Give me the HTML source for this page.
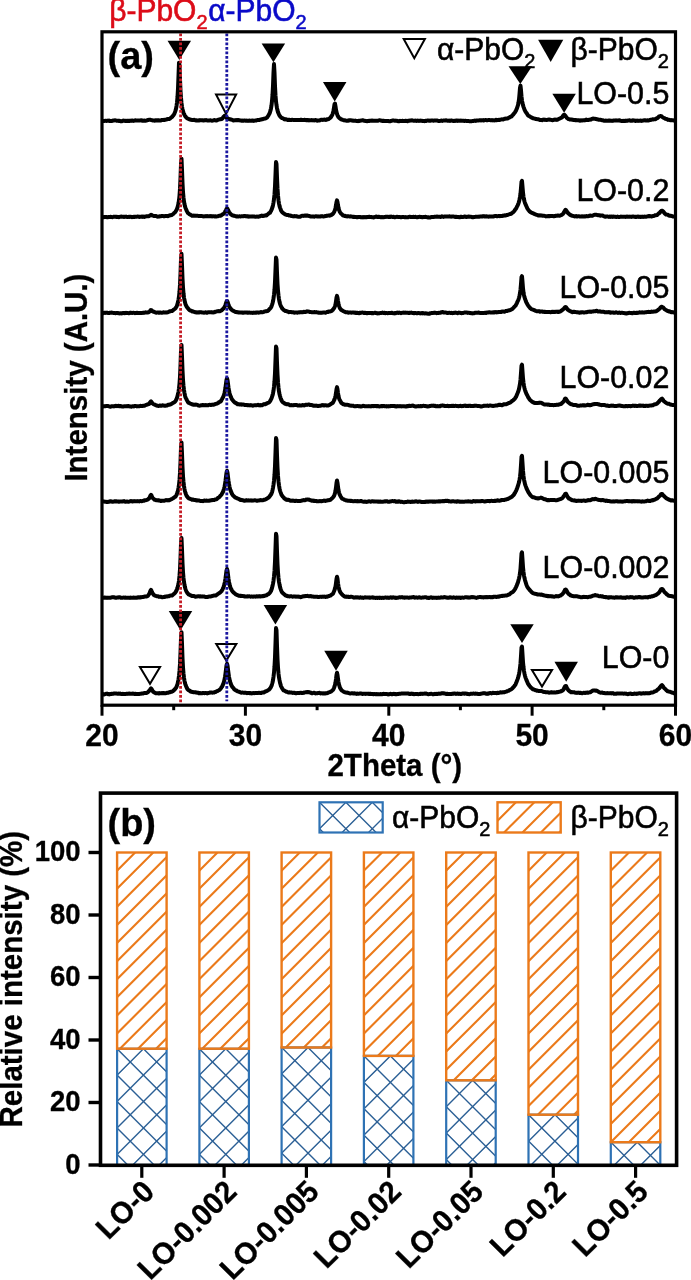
<!DOCTYPE html>
<html><head><meta charset="utf-8"><style>
html,body{margin:0;padding:0;background:#fff;width:691px;height:1280px;overflow:hidden;position:relative}
</style></head><body>
<svg width="691" height="1280" viewBox="0 0 691 1280" style="position:absolute;left:0;top:0;will-change:transform"><rect x="0" y="0" width="691" height="1280" fill="#fff"/><path d="M102.0,120.8 L102.5,120.9 L103.0,121.1 L103.5,121.0 L104.0,121.0 L104.5,121.0 L105.0,120.8 L105.5,120.8 L106.0,120.9 L106.5,121.0 L107.0,120.8 L107.5,120.7 L108.0,120.5 L108.5,120.8 L109.0,120.9 L109.5,120.6 L110.0,120.9 L110.5,121.1 L111.0,121.1 L111.5,121.1 L112.0,120.9 L112.5,120.6 L113.0,120.7 L113.5,120.5 L114.0,120.4 L114.5,120.4 L115.0,120.3 L115.5,120.4 L116.0,120.5 L116.5,120.7 L117.0,120.8 L117.5,120.8 L118.0,120.8 L118.5,120.9 L119.0,120.9 L119.5,120.7 L120.0,121.0 L120.5,121.2 L121.0,121.3 L121.5,121.3 L122.0,121.1 L122.5,120.9 L123.0,120.7 L123.5,120.5 L124.0,120.7 L124.5,120.7 L125.0,120.9 L125.5,120.8 L126.0,121.0 L126.5,121.1 L127.0,120.8 L127.5,120.7 L128.0,120.9 L128.5,120.8 L129.0,121.1 L129.5,120.9 L130.0,120.7 L130.5,120.8 L131.0,120.9 L131.5,120.8 L132.0,120.5 L132.5,120.5 L133.0,120.8 L133.5,120.9 L134.0,120.7 L134.5,120.6 L135.0,120.4 L135.5,120.3 L136.0,120.5 L136.5,120.4 L137.0,120.5 L137.5,120.5 L138.0,120.4 L138.5,120.6 L139.0,120.4 L139.5,120.6 L140.0,120.4 L140.5,120.4 L141.0,120.3 L141.5,120.3 L142.0,120.6 L142.5,120.8 L143.0,120.6 L143.5,120.8 L144.0,120.6 L144.5,120.5 L145.0,120.7 L145.5,120.7 L146.0,120.4 L146.5,120.6 L147.0,120.3 L147.5,120.1 L148.0,120.1 L148.5,119.9 L149.0,119.8 L149.5,119.7 L150.0,119.7 L150.5,119.9 L151.0,120.0 L151.5,120.1 L152.0,120.2 L152.5,120.2 L153.0,120.5 L153.5,120.5 L154.0,120.5 L154.5,120.7 L155.0,120.4 L155.5,120.3 L156.0,120.5 L156.5,120.6 L157.0,120.4 L157.5,120.2 L158.0,120.4 L158.5,120.6 L159.0,120.3 L159.5,120.5 L160.0,120.6 L160.5,120.6 L161.0,120.4 L161.5,120.1 L162.0,119.9 L162.5,120.1 L163.0,119.9 L163.5,120.0 L164.0,119.8 L164.5,120.0 L165.0,119.9 L165.5,119.7 L166.0,119.5 L166.5,119.5 L167.0,119.2 L167.5,119.0 L168.0,119.0 L168.5,119.1 L169.0,119.0 L169.5,118.7 L170.0,118.7 L170.5,118.2 L171.0,117.7 L171.5,117.3 L172.0,117.0 L172.5,116.4 L173.0,115.7 L173.5,115.1 L174.0,114.4 L174.5,113.3 L175.0,112.0 L175.5,110.6 L176.0,108.8 L176.5,106.1 L177.0,102.4 L177.5,97.0 L178.0,88.6 L178.5,75.9 L179.0,62.7 L179.5,64.9 L180.0,79.0 L180.5,90.8 L181.0,97.9 L181.5,103.0 L182.0,106.5 L182.5,109.2 L183.0,111.1 L183.5,112.9 L184.0,113.8 L184.5,114.9 L185.0,115.8 L185.5,116.6 L186.0,117.2 L186.5,117.7 L187.0,118.1 L187.5,118.5 L188.0,118.6 L188.5,118.9 L189.0,119.2 L189.5,119.4 L190.0,119.4 L190.5,119.6 L191.0,119.8 L191.5,119.9 L192.0,119.9 L192.5,119.9 L193.0,119.9 L193.5,120.0 L194.0,119.8 L194.5,119.9 L195.0,120.2 L195.5,120.4 L196.0,120.5 L196.5,120.3 L197.0,120.4 L197.5,120.4 L198.0,120.4 L198.5,120.5 L199.0,120.2 L199.5,120.4 L200.0,120.1 L200.5,120.2 L201.0,120.3 L201.5,120.2 L202.0,120.3 L202.5,120.3 L203.0,120.4 L203.5,120.6 L204.0,120.4 L204.5,120.2 L205.0,120.1 L205.5,120.3 L206.0,120.2 L206.5,120.1 L207.0,120.4 L207.5,120.4 L208.0,120.4 L208.5,120.6 L209.0,120.5 L209.5,120.5 L210.0,120.3 L210.5,120.3 L211.0,120.5 L211.5,120.6 L212.0,120.7 L212.5,120.6 L213.0,120.5 L213.5,120.4 L214.0,120.1 L214.5,120.1 L215.0,120.3 L215.5,120.4 L216.0,120.4 L216.5,120.5 L217.0,120.2 L217.5,120.0 L218.0,119.9 L218.5,119.7 L219.0,119.5 L219.5,119.4 L220.0,119.3 L220.5,119.2 L221.0,118.9 L221.5,118.9 L222.0,118.9 L222.5,118.4 L223.0,117.7 L223.5,116.9 L224.0,116.5 L224.5,115.8 L225.0,115.9 L225.5,116.4 L226.0,117.0 L226.5,117.7 L227.0,118.0 L227.5,118.2 L228.0,118.5 L228.5,118.6 L229.0,119.1 L229.5,119.2 L230.0,119.2 L230.5,119.2 L231.0,119.5 L231.5,119.6 L232.0,119.8 L232.5,120.0 L233.0,120.2 L233.5,120.5 L234.0,120.5 L234.5,120.3 L235.0,120.3 L235.5,120.2 L236.0,120.0 L236.5,120.1 L237.0,120.3 L237.5,120.1 L238.0,120.1 L238.5,120.1 L239.0,120.3 L239.5,120.3 L240.0,120.4 L240.5,120.6 L241.0,120.5 L241.5,120.6 L242.0,120.8 L242.5,120.5 L243.0,120.7 L243.5,120.8 L244.0,120.5 L244.5,120.5 L245.0,120.5 L245.5,120.7 L246.0,120.6 L246.5,120.6 L247.0,120.7 L247.5,120.8 L248.0,120.9 L248.5,120.8 L249.0,120.8 L249.5,120.5 L250.0,120.6 L250.5,120.7 L251.0,120.7 L251.5,120.7 L252.0,120.4 L252.5,120.6 L253.0,120.8 L253.5,120.9 L254.0,120.7 L254.5,120.7 L255.0,120.5 L255.5,120.6 L256.0,120.6 L256.5,120.4 L257.0,120.1 L257.5,120.0 L258.0,120.0 L258.5,120.1 L259.0,120.0 L259.5,119.7 L260.0,119.8 L260.5,119.5 L261.0,119.6 L261.5,119.4 L262.0,119.2 L262.5,119.3 L263.0,119.0 L263.5,118.7 L264.0,118.7 L264.5,118.6 L265.0,118.6 L265.5,118.4 L266.0,118.3 L266.5,117.9 L267.0,117.6 L267.5,116.8 L268.0,116.1 L268.5,115.4 L269.0,114.4 L269.5,113.5 L270.0,112.2 L270.5,110.4 L271.0,108.4 L271.5,105.4 L272.0,101.1 L272.5,95.0 L273.0,85.9 L273.5,72.7 L274.0,64.0 L274.5,72.7 L275.0,86.1 L275.5,95.4 L276.0,101.3 L276.5,105.2 L277.0,108.2 L277.5,110.4 L278.0,112.2 L278.5,113.3 L279.0,114.6 L279.5,115.5 L280.0,116.1 L280.5,116.9 L281.0,117.3 L281.5,117.7 L282.0,118.1 L282.5,118.1 L283.0,118.4 L283.5,118.6 L284.0,119.0 L284.5,119.4 L285.0,119.3 L285.5,119.4 L286.0,119.3 L286.5,119.4 L287.0,119.7 L287.5,119.9 L288.0,119.9 L288.5,119.9 L289.0,119.7 L289.5,119.9 L290.0,120.1 L290.5,120.0 L291.0,120.1 L291.5,119.9 L292.0,119.8 L292.5,119.8 L293.0,120.0 L293.5,120.0 L294.0,120.0 L294.5,120.1 L295.0,119.9 L295.5,120.1 L296.0,120.0 L296.5,120.0 L297.0,120.0 L297.5,119.9 L298.0,120.0 L298.5,120.0 L299.0,120.0 L299.5,120.0 L300.0,120.0 L300.5,119.9 L301.0,119.7 L301.5,119.9 L302.0,119.9 L302.5,119.9 L303.0,120.0 L303.5,120.0 L304.0,120.1 L304.5,119.8 L305.0,119.9 L305.5,120.0 L306.0,120.2 L306.5,120.0 L307.0,119.9 L307.5,120.2 L308.0,120.0 L308.5,120.3 L309.0,120.5 L309.5,120.3 L310.0,120.2 L310.5,120.3 L311.0,120.2 L311.5,120.0 L312.0,120.3 L312.5,120.3 L313.0,120.4 L313.5,120.2 L314.0,120.2 L314.5,120.4 L315.0,120.1 L315.5,120.0 L316.0,120.2 L316.5,120.5 L317.0,120.7 L317.5,120.4 L318.0,120.4 L318.5,120.5 L319.0,120.4 L319.5,120.5 L320.0,120.3 L320.5,120.0 L321.0,119.9 L321.5,119.7 L322.0,119.8 L322.5,119.9 L323.0,119.9 L323.5,119.8 L324.0,119.6 L324.5,119.5 L325.0,119.7 L325.5,119.9 L326.0,120.0 L326.5,119.6 L327.0,119.3 L327.5,119.4 L328.0,119.2 L328.5,119.1 L329.0,118.7 L329.5,118.4 L330.0,118.0 L330.5,117.5 L331.0,117.0 L331.5,116.0 L332.0,115.3 L332.5,114.3 L333.0,112.6 L333.5,110.4 L334.0,107.5 L334.5,104.2 L335.0,103.6 L335.5,106.4 L336.0,109.7 L336.5,111.9 L337.0,113.9 L337.5,115.3 L338.0,116.3 L338.5,117.2 L339.0,117.7 L339.5,118.1 L340.0,118.5 L340.5,118.8 L341.0,119.3 L341.5,119.5 L342.0,119.5 L342.5,119.8 L343.0,120.0 L343.5,120.2 L344.0,120.3 L344.5,120.2 L345.0,120.4 L345.5,120.6 L346.0,120.6 L346.5,120.7 L347.0,120.7 L347.5,120.6 L348.0,120.7 L348.5,120.4 L349.0,120.3 L349.5,120.4 L350.0,120.2 L350.5,120.2 L351.0,120.3 L351.5,120.5 L352.0,120.4 L352.5,120.6 L353.0,120.7 L353.5,120.6 L354.0,120.7 L354.5,120.7 L355.0,120.7 L355.5,120.6 L356.0,120.9 L356.5,120.9 L357.0,120.9 L357.5,121.0 L358.0,121.2 L358.5,120.8 L359.0,120.8 L359.5,120.9 L360.0,120.7 L360.5,120.7 L361.0,120.5 L361.5,120.4 L362.0,120.4 L362.5,120.3 L363.0,120.3 L363.5,120.6 L364.0,120.7 L364.5,120.7 L365.0,120.9 L365.5,120.9 L366.0,121.1 L366.5,121.1 L367.0,121.2 L367.5,120.9 L368.0,120.9 L368.5,121.0 L369.0,120.7 L369.5,120.9 L370.0,120.7 L370.5,120.7 L371.0,120.6 L371.5,120.6 L372.0,120.7 L372.5,120.5 L373.0,120.8 L373.5,120.8 L374.0,120.8 L374.5,120.8 L375.0,120.7 L375.5,120.7 L376.0,120.8 L376.5,120.8 L377.0,120.7 L377.5,120.8 L378.0,120.7 L378.5,120.5 L379.0,120.4 L379.5,120.3 L380.0,120.3 L380.5,120.5 L381.0,120.5 L381.5,120.8 L382.0,120.9 L382.5,120.7 L383.0,120.9 L383.5,121.1 L384.0,120.8 L384.5,121.0 L385.0,120.9 L385.5,120.9 L386.0,121.1 L386.5,120.9 L387.0,120.9 L387.5,121.1 L388.0,121.1 L388.5,121.0 L389.0,121.2 L389.5,121.3 L390.0,121.2 L390.5,120.9 L391.0,121.0 L391.5,120.9 L392.0,120.7 L392.5,120.5 L393.0,120.6 L393.5,120.5 L394.0,120.5 L394.5,120.7 L395.0,120.7 L395.5,120.6 L396.0,120.7 L396.5,120.7 L397.0,120.9 L397.5,120.9 L398.0,121.1 L398.5,121.3 L399.0,121.3 L399.5,121.0 L400.0,120.8 L400.5,121.0 L401.0,121.1 L401.5,121.1 L402.0,120.9 L402.5,120.8 L403.0,120.9 L403.5,120.9 L404.0,120.9 L404.5,121.0 L405.0,121.1 L405.5,120.8 L406.0,120.7 L406.5,121.0 L407.0,121.1 L407.5,121.2 L408.0,120.9 L408.5,120.7 L409.0,120.6 L409.5,120.6 L410.0,120.7 L410.5,120.5 L411.0,120.6 L411.5,120.5 L412.0,120.3 L412.5,120.5 L413.0,120.6 L413.5,120.7 L414.0,120.7 L414.5,120.7 L415.0,120.6 L415.5,120.6 L416.0,120.7 L416.5,120.9 L417.0,120.7 L417.5,120.5 L418.0,120.7 L418.5,120.8 L419.0,121.0 L419.5,120.8 L420.0,120.7 L420.5,120.6 L421.0,120.8 L421.5,120.8 L422.0,120.8 L422.5,121.1 L423.0,120.9 L423.5,120.9 L424.0,121.0 L424.5,121.2 L425.0,121.0 L425.5,120.9 L426.0,120.7 L426.5,120.9 L427.0,120.6 L427.5,120.5 L428.0,120.6 L428.5,120.6 L429.0,120.7 L429.5,120.6 L430.0,120.8 L430.5,120.6 L431.0,120.5 L431.5,120.6 L432.0,120.4 L432.5,120.4 L433.0,120.6 L433.5,120.7 L434.0,120.6 L434.5,120.5 L435.0,120.4 L435.5,120.6 L436.0,120.6 L436.5,120.4 L437.0,120.6 L437.5,120.6 L438.0,120.8 L438.5,121.0 L439.0,121.1 L439.5,120.9 L440.0,121.0 L440.5,120.8 L441.0,120.6 L441.5,120.5 L442.0,120.7 L442.5,120.9 L443.0,120.6 L443.5,120.5 L444.0,120.5 L444.5,120.4 L445.0,120.4 L445.5,120.4 L446.0,120.3 L446.5,120.4 L447.0,120.6 L447.5,120.7 L448.0,120.8 L448.5,120.8 L449.0,120.6 L449.5,120.8 L450.0,121.0 L450.5,120.8 L451.0,120.5 L451.5,120.6 L452.0,120.6 L452.5,120.7 L453.0,120.9 L453.5,120.9 L454.0,121.0 L454.5,120.7 L455.0,120.8 L455.5,120.9 L456.0,120.6 L456.5,120.4 L457.0,120.6 L457.5,120.9 L458.0,120.6 L458.5,120.7 L459.0,120.5 L459.5,120.7 L460.0,120.8 L460.5,120.6 L461.0,120.5 L461.5,120.7 L462.0,120.7 L462.5,120.8 L463.0,120.7 L463.5,120.7 L464.0,120.9 L464.5,120.9 L465.0,120.9 L465.5,120.8 L466.0,120.9 L466.5,121.0 L467.0,121.1 L467.5,120.9 L468.0,121.0 L468.5,121.0 L469.0,121.1 L469.5,121.2 L470.0,121.2 L470.5,121.3 L471.0,121.3 L471.5,121.2 L472.0,121.1 L472.5,121.1 L473.0,121.1 L473.5,121.0 L474.0,120.8 L474.5,120.6 L475.0,120.7 L475.5,120.9 L476.0,120.8 L476.5,120.6 L477.0,120.4 L477.5,120.4 L478.0,120.4 L478.5,120.6 L479.0,120.4 L479.5,120.3 L480.0,120.2 L480.5,120.4 L481.0,120.5 L481.5,120.4 L482.0,120.2 L482.5,120.2 L483.0,120.3 L483.5,120.6 L484.0,120.3 L484.5,120.2 L485.0,120.1 L485.5,120.0 L486.0,120.0 L486.5,120.2 L487.0,120.3 L487.5,120.2 L488.0,120.1 L488.5,120.0 L489.0,119.9 L489.5,120.1 L490.0,120.1 L490.5,120.2 L491.0,120.3 L491.5,120.3 L492.0,120.1 L492.5,120.3 L493.0,120.5 L493.5,120.3 L494.0,120.3 L494.5,120.5 L495.0,120.3 L495.5,120.1 L496.0,119.8 L496.5,120.1 L497.0,120.2 L497.5,120.0 L498.0,120.0 L498.5,119.9 L499.0,119.8 L499.5,120.0 L500.0,119.9 L500.5,119.7 L501.0,119.4 L501.5,119.4 L502.0,119.3 L502.5,119.4 L503.0,119.4 L503.5,119.4 L504.0,119.1 L504.5,118.8 L505.0,118.7 L505.5,118.5 L506.0,118.7 L506.5,118.5 L507.0,118.5 L507.5,118.5 L508.0,118.2 L508.5,118.0 L509.0,117.6 L509.5,117.5 L510.0,117.0 L510.5,116.9 L511.0,116.7 L511.5,116.5 L512.0,115.8 L512.5,115.2 L513.0,114.9 L513.5,114.1 L514.0,113.5 L514.5,112.8 L515.0,112.3 L515.5,111.4 L516.0,110.6 L516.5,109.3 L517.0,108.2 L517.5,106.6 L518.0,105.1 L518.5,102.5 L519.0,99.4 L519.5,94.2 L520.0,88.0 L520.5,85.6 L521.0,90.3 L521.5,96.5 L522.0,100.6 L522.5,103.3 L523.0,105.2 L523.5,106.8 L524.0,108.2 L524.5,109.6 L525.0,110.6 L525.5,111.6 L526.0,112.3 L526.5,113.0 L527.0,113.7 L527.5,114.6 L528.0,115.3 L528.5,115.8 L529.0,115.9 L529.5,116.2 L530.0,116.7 L530.5,116.9 L531.0,117.2 L531.5,117.5 L532.0,117.5 L532.5,118.0 L533.0,118.3 L533.5,118.3 L534.0,118.5 L534.5,118.6 L535.0,118.7 L535.5,118.9 L536.0,118.9 L536.5,119.0 L537.0,119.1 L537.5,119.3 L538.0,119.3 L538.5,119.3 L539.0,119.6 L539.5,119.7 L540.0,120.0 L540.5,120.0 L541.0,120.1 L541.5,120.0 L542.0,120.2 L542.5,119.9 L543.0,119.7 L543.5,119.6 L544.0,119.8 L544.5,119.9 L545.0,119.8 L545.5,119.8 L546.0,120.0 L546.5,120.1 L547.0,119.9 L547.5,119.8 L548.0,119.7 L548.5,119.6 L549.0,119.6 L549.5,119.5 L550.0,119.8 L550.5,119.8 L551.0,119.9 L551.5,120.0 L552.0,120.1 L552.5,120.2 L553.0,120.1 L553.5,119.9 L554.0,119.8 L554.5,119.6 L555.0,119.5 L555.5,119.6 L556.0,119.8 L556.5,119.9 L557.0,119.8 L557.5,119.7 L558.0,119.3 L558.5,119.1 L559.0,118.8 L559.5,118.8 L560.0,118.4 L560.5,118.1 L561.0,117.9 L561.5,117.7 L562.0,117.4 L562.5,116.8 L563.0,115.8 L563.5,115.2 L564.0,114.7 L564.5,114.8 L565.0,115.3 L565.5,116.1 L566.0,116.7 L566.5,117.4 L567.0,118.1 L567.5,118.4 L568.0,118.7 L568.5,119.1 L569.0,119.1 L569.5,119.4 L570.0,119.6 L570.5,119.5 L571.0,119.4 L571.5,119.4 L572.0,119.6 L572.5,119.8 L573.0,119.8 L573.5,120.1 L574.0,120.0 L574.5,120.0 L575.0,119.9 L575.5,120.2 L576.0,120.0 L576.5,120.3 L577.0,120.3 L577.5,120.3 L578.0,120.3 L578.5,120.2 L579.0,120.4 L579.5,120.6 L580.0,120.7 L580.5,120.6 L581.0,120.3 L581.5,120.5 L582.0,120.3 L582.5,120.5 L583.0,120.3 L583.5,120.3 L584.0,120.4 L584.5,120.2 L585.0,120.2 L585.5,119.9 L586.0,119.7 L586.5,119.6 L587.0,119.9 L587.5,120.1 L588.0,120.1 L588.5,119.9 L589.0,119.8 L589.5,119.8 L590.0,119.6 L590.5,119.6 L591.0,119.6 L591.5,119.1 L592.0,118.9 L592.5,118.8 L593.0,118.6 L593.5,118.6 L594.0,118.7 L594.5,118.7 L595.0,118.8 L595.5,118.9 L596.0,119.1 L596.5,119.1 L597.0,119.3 L597.5,119.2 L598.0,119.5 L598.5,119.4 L599.0,119.7 L599.5,119.8 L600.0,119.8 L600.5,119.8 L601.0,119.9 L601.5,120.1 L602.0,120.2 L602.5,120.3 L603.0,120.3 L603.5,120.6 L604.0,120.7 L604.5,120.8 L605.0,120.7 L605.5,120.6 L606.0,120.6 L606.5,120.8 L607.0,120.7 L607.5,120.7 L608.0,120.6 L608.5,120.8 L609.0,120.6 L609.5,120.4 L610.0,120.6 L610.5,120.8 L611.0,120.8 L611.5,120.8 L612.0,120.9 L612.5,120.7 L613.0,120.8 L613.5,120.5 L614.0,120.4 L614.5,120.4 L615.0,120.5 L615.5,120.5 L616.0,120.3 L616.5,120.5 L617.0,120.5 L617.5,120.4 L618.0,120.4 L618.5,120.4 L619.0,120.4 L619.5,120.2 L620.0,120.5 L620.5,120.8 L621.0,120.9 L621.5,121.0 L622.0,120.9 L622.5,121.0 L623.0,120.8 L623.5,120.9 L624.0,120.9 L624.5,121.0 L625.0,120.7 L625.5,120.9 L626.0,120.6 L626.5,120.7 L627.0,120.9 L627.5,120.6 L628.0,120.5 L628.5,120.4 L629.0,120.4 L629.5,120.3 L630.0,120.6 L630.5,120.7 L631.0,120.7 L631.5,120.6 L632.0,120.7 L632.5,120.4 L633.0,120.3 L633.5,120.6 L634.0,120.5 L634.5,120.5 L635.0,120.8 L635.5,121.0 L636.0,120.9 L636.5,120.7 L637.0,120.5 L637.5,120.8 L638.0,120.9 L638.5,120.7 L639.0,120.8 L639.5,120.7 L640.0,120.6 L640.5,120.5 L641.0,120.7 L641.5,120.9 L642.0,120.6 L642.5,120.7 L643.0,120.5 L643.5,120.6 L644.0,120.4 L644.5,120.2 L645.0,120.3 L645.5,120.2 L646.0,120.5 L646.5,120.6 L647.0,120.6 L647.5,120.3 L648.0,120.4 L648.5,120.5 L649.0,120.4 L649.5,120.1 L650.0,119.9 L650.5,119.8 L651.0,119.9 L651.5,119.7 L652.0,119.5 L652.5,119.3 L653.0,119.4 L653.5,119.5 L654.0,119.3 L654.5,119.2 L655.0,119.3 L655.5,119.1 L656.0,118.7 L656.5,118.3 L657.0,118.3 L657.5,118.0 L658.0,117.5 L658.5,117.2 L659.0,116.5 L659.5,116.4 L660.0,116.1 L660.5,116.0 L661.0,116.1 L661.5,116.2 L662.0,116.7 L662.5,117.1 L663.0,117.4 L663.5,117.9 L664.0,118.0 L664.5,118.2 L665.0,118.7 L665.5,118.8 L666.0,118.9 L666.5,119.1 L667.0,119.1 L667.5,119.5 L668.0,119.9 L668.5,119.7 L669.0,119.8 L669.5,120.0 L670.0,120.0 L670.5,120.3 L671.0,120.3 L671.5,120.1 L672.0,120.2 L672.5,120.3 L673.0,120.3 L673.5,120.4 L674.0,120.6 L674.5,120.5 L675.0,120.5 L675.5,120.7" fill="none" stroke="#000" stroke-width="4" stroke-linejoin="round"/><path d="M102.0,217.1 L102.5,217.1 L103.0,217.3 L103.5,217.1 L104.0,217.2 L104.5,217.0 L105.0,217.1 L105.5,216.9 L106.0,216.9 L106.5,217.1 L107.0,217.2 L107.5,217.3 L108.0,217.1 L108.5,217.1 L109.0,216.9 L109.5,217.0 L110.0,217.0 L110.5,216.8 L111.0,216.9 L111.5,217.0 L112.0,217.1 L112.5,217.2 L113.0,217.0 L113.5,216.8 L114.0,216.7 L114.5,216.7 L115.0,216.8 L115.5,216.8 L116.0,216.7 L116.5,217.0 L117.0,216.8 L117.5,217.0 L118.0,217.1 L118.5,217.1 L119.0,217.2 L119.5,217.0 L120.0,216.8 L120.5,216.8 L121.0,216.6 L121.5,216.6 L122.0,216.8 L122.5,216.8 L123.0,216.8 L123.5,216.9 L124.0,216.7 L124.5,216.9 L125.0,216.8 L125.5,216.7 L126.0,216.6 L126.5,216.8 L127.0,217.0 L127.5,217.1 L128.0,216.9 L128.5,216.9 L129.0,216.8 L129.5,216.7 L130.0,217.0 L130.5,216.8 L131.0,216.8 L131.5,217.0 L132.0,217.2 L132.5,217.0 L133.0,216.9 L133.5,217.1 L134.0,216.8 L134.5,216.7 L135.0,216.9 L135.5,216.8 L136.0,216.7 L136.5,216.7 L137.0,216.7 L137.5,216.5 L138.0,216.4 L138.5,216.7 L139.0,216.9 L139.5,217.0 L140.0,216.8 L140.5,216.7 L141.0,216.7 L141.5,216.6 L142.0,216.6 L142.5,216.9 L143.0,216.8 L143.5,216.6 L144.0,216.9 L144.5,216.9 L145.0,216.5 L145.5,216.5 L146.0,216.5 L146.5,216.3 L147.0,216.2 L147.5,216.2 L148.0,216.3 L148.5,216.2 L149.0,216.2 L149.5,215.8 L150.0,215.3 L150.5,215.1 L151.0,214.7 L151.5,215.0 L152.0,215.2 L152.5,215.5 L153.0,215.6 L153.5,215.9 L154.0,215.9 L154.5,215.9 L155.0,215.9 L155.5,216.0 L156.0,216.0 L156.5,216.1 L157.0,216.5 L157.5,216.6 L158.0,216.7 L158.5,216.5 L159.0,216.5 L159.5,216.2 L160.0,216.4 L160.5,216.3 L161.0,216.2 L161.5,216.0 L162.0,215.9 L162.5,215.9 L163.0,216.0 L163.5,216.2 L164.0,216.3 L164.5,216.2 L165.0,216.1 L165.5,215.9 L166.0,216.1 L166.5,216.0 L167.0,216.1 L167.5,216.1 L168.0,216.2 L168.5,215.8 L169.0,215.6 L169.5,215.5 L170.0,215.2 L170.5,215.3 L171.0,215.1 L171.5,215.1 L172.0,214.9 L172.5,214.4 L173.0,214.1 L173.5,213.7 L174.0,213.2 L174.5,212.7 L175.0,212.3 L175.5,211.6 L176.0,210.8 L176.5,210.0 L177.0,208.9 L177.5,207.3 L178.0,205.7 L178.5,203.2 L179.0,200.1 L179.5,195.6 L180.0,188.7 L180.5,178.1 L181.0,164.1 L181.5,158.7 L182.0,169.9 L182.5,183.0 L183.0,192.0 L183.5,197.5 L184.0,201.4 L184.5,204.3 L185.0,206.4 L185.5,207.9 L186.0,209.1 L186.5,210.4 L187.0,211.4 L187.5,212.3 L188.0,213.1 L188.5,213.4 L189.0,213.9 L189.5,214.4 L190.0,214.5 L190.5,214.8 L191.0,215.1 L191.5,215.4 L192.0,215.7 L192.5,215.6 L193.0,215.7 L193.5,215.6 L194.0,215.6 L194.5,215.7 L195.0,215.6 L195.5,215.7 L196.0,215.7 L196.5,215.8 L197.0,215.8 L197.5,215.8 L198.0,215.9 L198.5,216.0 L199.0,215.9 L199.5,216.1 L200.0,216.1 L200.5,215.9 L201.0,216.0 L201.5,216.1 L202.0,216.0 L202.5,216.2 L203.0,216.3 L203.5,216.4 L204.0,216.5 L204.5,216.3 L205.0,216.3 L205.5,216.3 L206.0,216.1 L206.5,216.2 L207.0,216.0 L207.5,216.1 L208.0,216.3 L208.5,216.3 L209.0,216.3 L209.5,216.2 L210.0,216.0 L210.5,216.1 L211.0,216.3 L211.5,216.4 L212.0,216.3 L212.5,216.4 L213.0,216.2 L213.5,216.2 L214.0,216.3 L214.5,216.5 L215.0,216.4 L215.5,216.3 L216.0,216.5 L216.5,216.5 L217.0,216.4 L217.5,216.3 L218.0,216.2 L218.5,216.0 L219.0,215.8 L219.5,215.8 L220.0,215.9 L220.5,215.6 L221.0,215.6 L221.5,215.1 L222.0,214.7 L222.5,214.5 L223.0,214.1 L223.5,213.7 L224.0,213.6 L224.5,212.8 L225.0,212.0 L225.5,211.0 L226.0,210.1 L226.5,209.0 L227.0,208.3 L227.5,208.9 L228.0,210.0 L228.5,211.0 L229.0,212.0 L229.5,212.8 L230.0,213.4 L230.5,214.0 L231.0,214.3 L231.5,214.8 L232.0,215.2 L232.5,215.3 L233.0,215.4 L233.5,215.7 L234.0,215.7 L234.5,215.9 L235.0,216.0 L235.5,216.2 L236.0,216.4 L236.5,216.5 L237.0,216.3 L237.5,216.4 L238.0,216.4 L238.5,216.4 L239.0,216.4 L239.5,216.3 L240.0,216.4 L240.5,216.5 L241.0,216.4 L241.5,216.3 L242.0,216.2 L242.5,216.2 L243.0,216.3 L243.5,216.1 L244.0,216.0 L244.5,216.0 L245.0,215.9 L245.5,216.2 L246.0,216.1 L246.5,216.2 L247.0,216.4 L247.5,216.4 L248.0,216.3 L248.5,216.6 L249.0,216.7 L249.5,216.5 L250.0,216.4 L250.5,216.4 L251.0,216.6 L251.5,216.5 L252.0,216.6 L252.5,216.5 L253.0,216.6 L253.5,216.5 L254.0,216.4 L254.5,216.5 L255.0,216.7 L255.5,216.8 L256.0,216.7 L256.5,216.6 L257.0,216.6 L257.5,216.6 L258.0,216.7 L258.5,216.7 L259.0,216.4 L259.5,216.3 L260.0,216.3 L260.5,216.1 L261.0,215.9 L261.5,215.6 L262.0,215.7 L262.5,215.9 L263.0,216.1 L263.5,215.8 L264.0,215.8 L264.5,215.6 L265.0,215.5 L265.5,215.3 L266.0,215.4 L266.5,215.4 L267.0,214.8 L267.5,214.7 L268.0,214.2 L268.5,213.7 L269.0,213.2 L269.5,213.0 L270.0,212.7 L270.5,211.8 L271.0,211.0 L271.5,209.8 L272.0,208.7 L272.5,207.2 L273.0,205.2 L273.5,202.5 L274.0,199.1 L274.5,194.2 L275.0,186.3 L275.5,174.5 L276.0,162.1 L276.5,164.1 L277.0,177.6 L277.5,188.4 L278.0,195.5 L278.5,200.2 L279.0,203.6 L279.5,205.9 L280.0,207.6 L280.5,208.9 L281.0,210.4 L281.5,211.2 L282.0,212.0 L282.5,212.4 L283.0,212.9 L283.5,213.2 L284.0,213.7 L284.5,213.9 L285.0,214.3 L285.5,214.5 L286.0,214.6 L286.5,214.9 L287.0,215.0 L287.5,215.1 L288.0,215.1 L288.5,215.1 L289.0,215.5 L289.5,215.6 L290.0,215.5 L290.5,215.5 L291.0,215.7 L291.5,216.1 L292.0,216.0 L292.5,216.2 L293.0,216.2 L293.5,216.2 L294.0,216.4 L294.5,216.3 L295.0,216.1 L295.5,216.2 L296.0,216.3 L296.5,216.4 L297.0,216.3 L297.5,216.5 L298.0,216.7 L298.5,216.8 L299.0,216.7 L299.5,216.8 L300.0,216.8 L300.5,216.5 L301.0,216.2 L301.5,216.0 L302.0,215.9 L302.5,215.7 L303.0,215.7 L303.5,215.9 L304.0,215.8 L304.5,215.8 L305.0,215.5 L305.5,215.4 L306.0,215.7 L306.5,215.4 L307.0,215.4 L307.5,215.6 L308.0,215.8 L308.5,215.9 L309.0,215.9 L309.5,216.1 L310.0,216.3 L310.5,216.4 L311.0,216.6 L311.5,216.4 L312.0,216.6 L312.5,216.5 L313.0,216.6 L313.5,216.5 L314.0,216.7 L314.5,216.4 L315.0,216.5 L315.5,216.3 L316.0,216.3 L316.5,216.3 L317.0,216.5 L317.5,216.6 L318.0,216.5 L318.5,216.6 L319.0,216.5 L319.5,216.4 L320.0,216.6 L320.5,216.5 L321.0,216.3 L321.5,216.3 L322.0,216.4 L322.5,216.3 L323.0,216.4 L323.5,216.4 L324.0,216.5 L324.5,216.3 L325.0,216.1 L325.5,215.9 L326.0,215.9 L326.5,215.9 L327.0,215.6 L327.5,215.7 L328.0,215.6 L328.5,215.5 L329.0,215.5 L329.5,215.7 L330.0,215.3 L330.5,215.4 L331.0,215.0 L331.5,214.9 L332.0,214.3 L332.5,214.2 L333.0,213.6 L333.5,213.2 L334.0,212.2 L334.5,211.1 L335.0,209.9 L335.5,207.9 L336.0,205.2 L336.5,202.0 L337.0,200.4 L337.5,202.1 L338.0,205.2 L338.5,207.8 L339.0,209.9 L339.5,211.1 L340.0,212.2 L340.5,212.9 L341.0,213.6 L341.5,213.9 L342.0,214.4 L342.5,215.0 L343.0,215.4 L343.5,215.6 L344.0,215.7 L344.5,215.9 L345.0,215.8 L345.5,216.1 L346.0,216.2 L346.5,216.2 L347.0,216.4 L347.5,216.4 L348.0,216.3 L348.5,216.3 L349.0,216.4 L349.5,216.5 L350.0,216.5 L350.5,216.3 L351.0,216.5 L351.5,216.5 L352.0,216.6 L352.5,216.7 L353.0,216.9 L353.5,216.7 L354.0,216.7 L354.5,217.0 L355.0,217.0 L355.5,216.9 L356.0,217.0 L356.5,217.2 L357.0,217.1 L357.5,217.2 L358.0,216.9 L358.5,217.1 L359.0,217.1 L359.5,216.9 L360.0,217.1 L360.5,217.1 L361.0,217.3 L361.5,217.3 L362.0,217.4 L362.5,217.3 L363.0,217.4 L363.5,217.1 L364.0,217.2 L364.5,217.3 L365.0,217.0 L365.5,217.2 L366.0,217.1 L366.5,217.1 L367.0,217.2 L367.5,217.0 L368.0,216.9 L368.5,217.0 L369.0,216.7 L369.5,216.8 L370.0,217.0 L370.5,217.0 L371.0,216.9 L371.5,217.0 L372.0,217.2 L372.5,217.3 L373.0,217.2 L373.5,217.4 L374.0,217.4 L374.5,217.1 L375.0,217.0 L375.5,216.8 L376.0,216.6 L376.5,216.6 L377.0,216.9 L377.5,217.1 L378.0,216.9 L378.5,216.7 L379.0,216.7 L379.5,217.0 L380.0,217.0 L380.5,217.2 L381.0,217.0 L381.5,217.2 L382.0,217.0 L382.5,217.1 L383.0,217.2 L383.5,217.3 L384.0,217.1 L384.5,217.1 L385.0,217.1 L385.5,216.8 L386.0,216.8 L386.5,216.7 L387.0,216.9 L387.5,216.8 L388.0,216.9 L388.5,217.0 L389.0,216.9 L389.5,216.7 L390.0,216.9 L390.5,216.9 L391.0,216.7 L391.5,216.6 L392.0,216.9 L392.5,217.0 L393.0,216.9 L393.5,216.8 L394.0,217.1 L394.5,217.2 L395.0,217.2 L395.5,217.1 L396.0,217.0 L396.5,216.9 L397.0,216.8 L397.5,216.9 L398.0,216.9 L398.5,217.1 L399.0,217.0 L399.5,217.0 L400.0,217.0 L400.5,217.2 L401.0,217.1 L401.5,217.2 L402.0,217.0 L402.5,217.0 L403.0,216.9 L403.5,217.1 L404.0,217.0 L404.5,217.2 L405.0,217.2 L405.5,217.1 L406.0,217.3 L406.5,217.2 L407.0,217.3 L407.5,217.2 L408.0,217.2 L408.5,216.9 L409.0,216.9 L409.5,216.8 L410.0,216.8 L410.5,217.1 L411.0,217.0 L411.5,217.1 L412.0,217.1 L412.5,217.0 L413.0,216.9 L413.5,216.8 L414.0,217.0 L414.5,216.9 L415.0,216.9 L415.5,216.8 L416.0,217.0 L416.5,217.2 L417.0,217.2 L417.5,217.2 L418.0,216.9 L418.5,217.1 L419.0,216.9 L419.5,216.8 L420.0,216.8 L420.5,217.0 L421.0,217.1 L421.5,217.0 L422.0,217.2 L422.5,217.3 L423.0,217.0 L423.5,217.1 L424.0,217.0 L424.5,216.9 L425.0,216.9 L425.5,216.8 L426.0,217.0 L426.5,217.0 L427.0,217.2 L427.5,217.4 L428.0,217.5 L428.5,217.3 L429.0,217.4 L429.5,217.4 L430.0,217.4 L430.5,217.5 L431.0,217.1 L431.5,217.1 L432.0,217.0 L432.5,217.0 L433.0,216.9 L433.5,217.1 L434.0,216.9 L434.5,216.8 L435.0,216.7 L435.5,216.7 L436.0,216.8 L436.5,216.6 L437.0,216.5 L437.5,216.6 L438.0,216.7 L438.5,216.8 L439.0,216.7 L439.5,216.8 L440.0,216.9 L440.5,217.0 L441.0,216.7 L441.5,216.6 L442.0,216.3 L442.5,216.5 L443.0,216.7 L443.5,216.9 L444.0,216.5 L444.5,216.5 L445.0,216.5 L445.5,216.5 L446.0,216.4 L446.5,216.6 L447.0,216.5 L447.5,216.6 L448.0,216.4 L448.5,216.6 L449.0,216.4 L449.5,216.3 L450.0,216.5 L450.5,216.5 L451.0,216.7 L451.5,216.6 L452.0,216.6 L452.5,216.5 L453.0,216.4 L453.5,216.5 L454.0,216.6 L454.5,216.7 L455.0,216.9 L455.5,216.7 L456.0,216.9 L456.5,216.7 L457.0,217.0 L457.5,217.0 L458.0,216.9 L458.5,217.0 L459.0,217.1 L459.5,217.3 L460.0,217.2 L460.5,216.8 L461.0,216.7 L461.5,216.9 L462.0,217.0 L462.5,217.1 L463.0,216.9 L463.5,216.9 L464.0,216.6 L464.5,216.5 L465.0,216.5 L465.5,216.8 L466.0,216.9 L466.5,217.1 L467.0,216.8 L467.5,216.8 L468.0,216.6 L468.5,216.5 L469.0,216.4 L469.5,216.7 L470.0,216.7 L470.5,216.7 L471.0,216.8 L471.5,217.0 L472.0,217.2 L472.5,217.1 L473.0,217.1 L473.5,217.2 L474.0,217.0 L474.5,216.9 L475.0,217.0 L475.5,216.8 L476.0,216.7 L476.5,216.7 L477.0,216.7 L477.5,216.7 L478.0,216.7 L478.5,216.7 L479.0,216.5 L479.5,216.7 L480.0,216.5 L480.5,216.6 L481.0,216.6 L481.5,216.6 L482.0,216.5 L482.5,216.3 L483.0,216.4 L483.5,216.3 L484.0,216.4 L484.5,216.3 L485.0,216.5 L485.5,216.6 L486.0,216.3 L486.5,216.3 L487.0,216.6 L487.5,216.4 L488.0,216.5 L488.5,216.7 L489.0,216.6 L489.5,216.6 L490.0,216.5 L490.5,216.4 L491.0,216.5 L491.5,216.5 L492.0,216.4 L492.5,216.4 L493.0,216.4 L493.5,216.5 L494.0,216.2 L494.5,216.1 L495.0,216.0 L495.5,215.9 L496.0,216.1 L496.5,216.1 L497.0,216.3 L497.5,216.2 L498.0,216.1 L498.5,216.1 L499.0,215.9 L499.5,216.1 L500.0,216.2 L500.5,216.0 L501.0,215.9 L501.5,216.0 L502.0,216.0 L502.5,216.0 L503.0,215.6 L503.5,215.7 L504.0,215.4 L504.5,215.4 L505.0,215.3 L505.5,215.5 L506.0,215.4 L506.5,215.0 L507.0,215.1 L507.5,215.0 L508.0,214.9 L508.5,214.4 L509.0,214.4 L509.5,214.1 L510.0,214.0 L510.5,214.0 L511.0,213.9 L511.5,213.3 L512.0,213.1 L512.5,212.6 L513.0,212.3 L513.5,211.8 L514.0,211.3 L514.5,210.7 L515.0,209.9 L515.5,209.2 L516.0,208.6 L516.5,207.6 L517.0,206.5 L517.5,205.7 L518.0,204.7 L518.5,203.3 L519.0,201.6 L519.5,199.5 L520.0,196.9 L520.5,193.6 L521.0,188.0 L521.5,181.9 L522.0,180.9 L522.5,186.7 L523.0,192.6 L523.5,196.8 L524.0,199.3 L524.5,201.5 L525.0,203.1 L525.5,204.2 L526.0,205.4 L526.5,206.5 L527.0,207.6 L527.5,208.7 L528.0,209.4 L528.5,210.1 L529.0,210.6 L529.5,211.3 L530.0,211.5 L530.5,212.1 L531.0,212.3 L531.5,212.7 L532.0,212.9 L532.5,213.1 L533.0,213.2 L533.5,213.5 L534.0,213.8 L534.5,214.1 L535.0,214.2 L535.5,214.4 L536.0,214.8 L536.5,214.8 L537.0,215.0 L537.5,215.0 L538.0,215.4 L538.5,215.3 L539.0,215.5 L539.5,215.4 L540.0,215.3 L540.5,215.5 L541.0,215.6 L541.5,215.5 L542.0,215.4 L542.5,215.7 L543.0,215.7 L543.5,215.8 L544.0,215.8 L544.5,215.9 L545.0,216.0 L545.5,216.2 L546.0,216.4 L546.5,216.3 L547.0,216.2 L547.5,216.1 L548.0,216.2 L548.5,216.0 L549.0,215.9 L549.5,216.2 L550.0,215.9 L550.5,216.1 L551.0,216.1 L551.5,216.1 L552.0,216.0 L552.5,215.9 L553.0,216.1 L553.5,216.2 L554.0,216.3 L554.5,216.0 L555.0,216.1 L555.5,215.9 L556.0,215.7 L556.5,215.8 L557.0,215.8 L557.5,215.5 L558.0,215.6 L558.5,215.6 L559.0,215.7 L559.5,215.7 L560.0,215.6 L560.5,215.2 L561.0,215.2 L561.5,215.0 L562.0,214.5 L562.5,214.3 L563.0,213.9 L563.5,213.2 L564.0,212.3 L564.5,211.3 L565.0,210.5 L565.5,209.9 L566.0,210.1 L566.5,210.8 L567.0,211.6 L567.5,212.5 L568.0,213.0 L568.5,213.5 L569.0,213.8 L569.5,214.3 L570.0,214.8 L570.5,214.8 L571.0,215.3 L571.5,215.6 L572.0,215.7 L572.5,215.8 L573.0,216.0 L573.5,216.0 L574.0,216.2 L574.5,216.4 L575.0,216.5 L575.5,216.3 L576.0,216.1 L576.5,216.4 L577.0,216.3 L577.5,216.5 L578.0,216.3 L578.5,216.3 L579.0,216.3 L579.5,216.4 L580.0,216.6 L580.5,216.6 L581.0,216.6 L581.5,216.4 L582.0,216.3 L582.5,216.5 L583.0,216.3 L583.5,216.5 L584.0,216.6 L584.5,216.3 L585.0,216.5 L585.5,216.2 L586.0,216.3 L586.5,216.0 L587.0,216.3 L587.5,216.2 L588.0,216.3 L588.5,216.0 L589.0,216.0 L589.5,215.7 L590.0,215.5 L590.5,215.5 L591.0,215.7 L591.5,215.7 L592.0,215.8 L592.5,215.7 L593.0,215.5 L593.5,215.1 L594.0,215.0 L594.5,214.8 L595.0,214.8 L595.5,214.8 L596.0,214.8 L596.5,214.8 L597.0,215.0 L597.5,215.1 L598.0,215.2 L598.5,215.1 L599.0,215.2 L599.5,215.3 L600.0,215.6 L600.5,215.7 L601.0,215.5 L601.5,215.4 L602.0,215.4 L602.5,215.5 L603.0,215.8 L603.5,216.1 L604.0,216.3 L604.5,216.5 L605.0,216.6 L605.5,216.8 L606.0,216.5 L606.5,216.4 L607.0,216.5 L607.5,216.6 L608.0,216.6 L608.5,216.7 L609.0,216.9 L609.5,216.6 L610.0,216.6 L610.5,216.9 L611.0,216.6 L611.5,216.4 L612.0,216.7 L612.5,216.9 L613.0,216.6 L613.5,216.4 L614.0,216.7 L614.5,216.8 L615.0,216.8 L615.5,216.8 L616.0,217.0 L616.5,217.1 L617.0,216.8 L617.5,216.6 L618.0,216.8 L618.5,217.0 L619.0,217.1 L619.5,217.0 L620.0,216.9 L620.5,216.8 L621.0,216.6 L621.5,216.8 L622.0,216.7 L622.5,216.8 L623.0,216.8 L623.5,216.7 L624.0,216.8 L624.5,216.8 L625.0,216.7 L625.5,216.9 L626.0,216.7 L626.5,216.6 L627.0,216.5 L627.5,216.6 L628.0,216.8 L628.5,216.7 L629.0,216.6 L629.5,216.8 L630.0,216.7 L630.5,216.7 L631.0,216.6 L631.5,216.9 L632.0,216.7 L632.5,216.6 L633.0,216.6 L633.5,216.5 L634.0,216.7 L634.5,216.8 L635.0,217.0 L635.5,216.9 L636.0,216.7 L636.5,216.9 L637.0,216.7 L637.5,216.6 L638.0,216.6 L638.5,216.9 L639.0,216.8 L639.5,216.7 L640.0,216.9 L640.5,217.1 L641.0,216.9 L641.5,216.7 L642.0,216.8 L642.5,216.9 L643.0,216.8 L643.5,216.9 L644.0,216.7 L644.5,216.6 L645.0,216.6 L645.5,216.7 L646.0,216.7 L646.5,216.8 L647.0,216.4 L647.5,216.4 L648.0,216.3 L648.5,216.1 L649.0,216.4 L649.5,216.1 L650.0,216.0 L650.5,216.2 L651.0,216.4 L651.5,216.5 L652.0,216.2 L652.5,216.3 L653.0,215.9 L653.5,215.9 L654.0,216.0 L654.5,215.6 L655.0,215.3 L655.5,215.2 L656.0,215.2 L656.5,215.1 L657.0,215.0 L657.5,214.7 L658.0,214.2 L658.5,213.7 L659.0,213.2 L659.5,213.0 L660.0,212.3 L660.5,211.6 L661.0,211.2 L661.5,210.7 L662.0,210.7 L662.5,210.9 L663.0,211.3 L663.5,211.9 L664.0,212.5 L664.5,213.1 L665.0,213.7 L665.5,214.0 L666.0,214.5 L666.5,214.5 L667.0,214.6 L667.5,214.7 L668.0,214.9 L668.5,215.2 L669.0,215.6 L669.5,215.7 L670.0,215.6 L670.5,215.7 L671.0,215.9 L671.5,215.9 L672.0,216.1 L672.5,216.4 L673.0,216.4 L673.5,216.5 L674.0,216.6 L674.5,216.6 L675.0,216.4 L675.5,216.7" fill="none" stroke="#000" stroke-width="4" stroke-linejoin="round"/><path d="M102.0,313.4 L102.5,313.1 L103.0,313.2 L103.5,313.1 L104.0,312.9 L104.5,312.8 L105.0,312.7 L105.5,312.9 L106.0,312.8 L106.5,312.7 L107.0,312.6 L107.5,312.9 L108.0,313.0 L108.5,313.1 L109.0,313.1 L109.5,312.9 L110.0,312.7 L110.5,312.7 L111.0,312.6 L111.5,312.6 L112.0,312.8 L112.5,312.8 L113.0,312.9 L113.5,313.0 L114.0,312.9 L114.5,312.9 L115.0,313.1 L115.5,313.2 L116.0,313.1 L116.5,313.1 L117.0,313.1 L117.5,313.0 L118.0,313.2 L118.5,313.1 L119.0,313.3 L119.5,313.4 L120.0,313.5 L120.5,313.3 L121.0,313.2 L121.5,313.4 L122.0,313.2 L122.5,313.0 L123.0,313.2 L123.5,313.0 L124.0,313.1 L124.5,312.9 L125.0,313.2 L125.5,313.0 L126.0,312.8 L126.5,313.0 L127.0,312.9 L127.5,313.0 L128.0,313.0 L128.5,313.2 L129.0,313.2 L129.5,313.1 L130.0,312.8 L130.5,312.9 L131.0,312.8 L131.5,312.9 L132.0,313.0 L132.5,313.0 L133.0,312.8 L133.5,312.8 L134.0,312.9 L134.5,313.0 L135.0,313.2 L135.5,313.0 L136.0,313.0 L136.5,312.8 L137.0,313.0 L137.5,312.8 L138.0,313.0 L138.5,313.1 L139.0,312.9 L139.5,313.1 L140.0,313.1 L140.5,313.0 L141.0,313.0 L141.5,313.1 L142.0,313.0 L142.5,312.9 L143.0,312.8 L143.5,312.9 L144.0,312.8 L144.5,312.7 L145.0,312.5 L145.5,312.3 L146.0,312.5 L146.5,312.5 L147.0,312.6 L147.5,312.6 L148.0,312.4 L148.5,312.3 L149.0,312.0 L149.5,311.6 L150.0,311.1 L150.5,310.3 L151.0,310.0 L151.5,310.2 L152.0,310.6 L152.5,311.3 L153.0,311.4 L153.5,311.7 L154.0,311.8 L154.5,312.1 L155.0,312.2 L155.5,312.5 L156.0,312.7 L156.5,312.7 L157.0,312.5 L157.5,312.6 L158.0,312.4 L158.5,312.6 L159.0,312.8 L159.5,312.6 L160.0,312.4 L160.5,312.5 L161.0,312.6 L161.5,312.8 L162.0,312.8 L162.5,312.5 L163.0,312.6 L163.5,312.3 L164.0,312.4 L164.5,312.5 L165.0,312.6 L165.5,312.6 L166.0,312.5 L166.5,312.6 L167.0,312.5 L167.5,312.3 L168.0,312.1 L168.5,311.9 L169.0,311.5 L169.5,311.3 L170.0,311.4 L170.5,311.2 L171.0,311.1 L171.5,311.1 L172.0,311.0 L172.5,310.7 L173.0,310.3 L173.5,309.9 L174.0,309.4 L174.5,309.1 L175.0,308.7 L175.5,308.3 L176.0,307.3 L176.5,306.6 L177.0,305.5 L177.5,303.8 L178.0,302.1 L178.5,299.6 L179.0,296.4 L179.5,291.8 L180.0,284.7 L180.5,273.8 L181.0,259.5 L181.5,253.8 L182.0,265.0 L182.5,278.6 L183.0,287.5 L183.5,293.3 L184.0,297.5 L184.5,300.3 L185.0,302.3 L185.5,304.2 L186.0,305.4 L186.5,306.4 L187.0,307.2 L187.5,307.8 L188.0,308.4 L188.5,309.0 L189.0,309.7 L189.5,310.2 L190.0,310.4 L190.5,310.6 L191.0,310.7 L191.5,310.9 L192.0,311.4 L192.5,311.3 L193.0,311.4 L193.5,311.6 L194.0,311.9 L194.5,311.9 L195.0,312.1 L195.5,312.3 L196.0,312.5 L196.5,312.3 L197.0,312.3 L197.5,312.6 L198.0,312.5 L198.5,312.3 L199.0,312.5 L199.5,312.2 L200.0,312.1 L200.5,312.2 L201.0,312.2 L201.5,312.4 L202.0,312.5 L202.5,312.4 L203.0,312.6 L203.5,312.6 L204.0,312.7 L204.5,312.6 L205.0,312.6 L205.5,312.3 L206.0,312.4 L206.5,312.6 L207.0,312.8 L207.5,312.5 L208.0,312.3 L208.5,312.2 L209.0,312.3 L209.5,312.3 L210.0,312.2 L210.5,312.2 L211.0,312.3 L211.5,312.4 L212.0,312.3 L212.5,312.4 L213.0,312.4 L213.5,312.4 L214.0,312.1 L214.5,312.2 L215.0,311.9 L215.5,311.7 L216.0,311.7 L216.5,311.5 L217.0,311.3 L217.5,311.3 L218.0,311.3 L218.5,311.0 L219.0,311.2 L219.5,311.3 L220.0,311.1 L220.5,310.9 L221.0,310.5 L221.5,310.5 L222.0,309.9 L222.5,309.5 L223.0,308.9 L223.5,308.6 L224.0,307.9 L224.5,307.1 L225.0,306.0 L225.5,304.9 L226.0,303.1 L226.5,301.7 L227.0,301.0 L227.5,301.7 L228.0,303.2 L228.5,304.8 L229.0,306.1 L229.5,307.0 L230.0,307.9 L230.5,308.5 L231.0,309.0 L231.5,309.6 L232.0,310.0 L232.5,310.3 L233.0,310.8 L233.5,310.9 L234.0,311.1 L234.5,311.4 L235.0,311.8 L235.5,312.0 L236.0,311.9 L236.5,312.1 L237.0,312.2 L237.5,312.1 L238.0,312.2 L238.5,312.5 L239.0,312.5 L239.5,312.6 L240.0,312.5 L240.5,312.5 L241.0,312.4 L241.5,312.5 L242.0,312.5 L242.5,312.8 L243.0,312.6 L243.5,312.7 L244.0,312.4 L244.5,312.4 L245.0,312.6 L245.5,312.5 L246.0,312.5 L246.5,312.4 L247.0,312.4 L247.5,312.7 L248.0,312.5 L248.5,312.7 L249.0,312.5 L249.5,312.5 L250.0,312.7 L250.5,312.8 L251.0,312.7 L251.5,312.7 L252.0,312.8 L252.5,312.9 L253.0,312.9 L253.5,312.8 L254.0,312.6 L254.5,312.7 L255.0,312.7 L255.5,312.6 L256.0,312.8 L256.5,312.5 L257.0,312.6 L257.5,312.5 L258.0,312.5 L258.5,312.7 L259.0,312.5 L259.5,312.4 L260.0,312.4 L260.5,312.3 L261.0,312.0 L261.5,312.1 L262.0,312.2 L262.5,312.2 L263.0,311.9 L263.5,312.0 L264.0,311.8 L264.5,311.5 L265.0,311.5 L265.5,311.3 L266.0,311.2 L266.5,311.3 L267.0,311.0 L267.5,311.0 L268.0,310.5 L268.5,310.3 L269.0,309.6 L269.5,309.0 L270.0,308.6 L270.5,308.1 L271.0,307.4 L271.5,306.3 L272.0,304.9 L272.5,303.3 L273.0,301.3 L273.5,298.4 L274.0,294.8 L274.5,289.8 L275.0,281.8 L275.5,269.9 L276.0,257.6 L276.5,259.7 L277.0,272.9 L277.5,283.8 L278.0,290.8 L278.5,295.5 L279.0,299.1 L279.5,301.8 L280.0,303.6 L280.5,305.1 L281.0,306.4 L281.5,307.1 L282.0,308.1 L282.5,308.9 L283.0,309.2 L283.5,309.8 L284.0,310.2 L284.5,310.4 L285.0,310.9 L285.5,310.9 L286.0,311.1 L286.5,311.1 L287.0,311.3 L287.5,311.6 L288.0,311.7 L288.5,311.9 L289.0,312.2 L289.5,312.0 L290.0,311.9 L290.5,312.1 L291.0,311.9 L291.5,312.3 L292.0,312.2 L292.5,312.2 L293.0,312.2 L293.5,312.4 L294.0,312.6 L294.5,312.7 L295.0,312.5 L295.5,312.4 L296.0,312.5 L296.5,312.4 L297.0,312.6 L297.5,312.7 L298.0,312.5 L298.5,312.4 L299.0,312.3 L299.5,312.4 L300.0,312.2 L300.5,312.3 L301.0,312.1 L301.5,312.3 L302.0,312.3 L302.5,312.3 L303.0,312.1 L303.5,311.9 L304.0,311.8 L304.5,312.1 L305.0,312.1 L305.5,312.1 L306.0,311.8 L306.5,311.5 L307.0,311.3 L307.5,311.5 L308.0,311.4 L308.5,311.4 L309.0,311.7 L309.5,311.9 L310.0,311.9 L310.5,312.0 L311.0,312.0 L311.5,312.2 L312.0,312.2 L312.5,312.2 L313.0,312.2 L313.5,312.2 L314.0,312.1 L314.5,312.0 L315.0,312.1 L315.5,312.3 L316.0,312.2 L316.5,312.1 L317.0,312.4 L317.5,312.5 L318.0,312.5 L318.5,312.4 L319.0,312.7 L319.5,312.8 L320.0,312.8 L320.5,312.8 L321.0,312.9 L321.5,312.8 L322.0,312.7 L322.5,312.6 L323.0,312.5 L323.5,312.5 L324.0,312.5 L324.5,312.5 L325.0,312.6 L325.5,312.7 L326.0,312.4 L326.5,312.1 L327.0,312.0 L327.5,311.7 L328.0,311.9 L328.5,311.9 L329.0,311.6 L329.5,311.4 L330.0,311.5 L330.5,311.4 L331.0,311.2 L331.5,311.0 L332.0,310.7 L332.5,310.2 L333.0,309.6 L333.5,308.9 L334.0,308.3 L334.5,307.4 L335.0,306.1 L335.5,304.3 L336.0,301.2 L336.5,297.6 L337.0,295.9 L337.5,297.8 L338.0,301.1 L338.5,303.7 L339.0,305.8 L339.5,307.2 L340.0,308.4 L340.5,308.9 L341.0,309.8 L341.5,310.0 L342.0,310.3 L342.5,310.6 L343.0,311.0 L343.5,311.1 L344.0,311.4 L344.5,311.8 L345.0,311.9 L345.5,312.1 L346.0,312.3 L346.5,312.3 L347.0,312.2 L347.5,312.3 L348.0,312.6 L348.5,312.7 L349.0,312.5 L349.5,312.5 L350.0,312.6 L350.5,312.6 L351.0,312.6 L351.5,312.7 L352.0,312.5 L352.5,312.4 L353.0,312.6 L353.5,312.5 L354.0,312.4 L354.5,312.7 L355.0,312.6 L355.5,312.9 L356.0,312.9 L356.5,312.7 L357.0,312.9 L357.5,312.8 L358.0,313.0 L358.5,313.1 L359.0,313.2 L359.5,312.9 L360.0,312.7 L360.5,312.9 L361.0,312.7 L361.5,312.7 L362.0,312.5 L362.5,312.5 L363.0,312.6 L363.5,312.9 L364.0,312.9 L364.5,312.8 L365.0,313.0 L365.5,312.8 L366.0,313.0 L366.5,313.0 L367.0,313.3 L367.5,313.0 L368.0,313.0 L368.5,313.0 L369.0,313.1 L369.5,313.0 L370.0,313.1 L370.5,312.9 L371.0,313.0 L371.5,313.2 L372.0,313.1 L372.5,312.9 L373.0,313.2 L373.5,313.2 L374.0,313.0 L374.5,312.8 L375.0,312.8 L375.5,312.7 L376.0,313.0 L376.5,313.1 L377.0,313.3 L377.5,313.4 L378.0,313.4 L378.5,313.2 L379.0,313.3 L379.5,313.2 L380.0,313.0 L380.5,313.0 L381.0,313.0 L381.5,313.0 L382.0,312.8 L382.5,312.6 L383.0,313.0 L383.5,313.0 L384.0,312.9 L384.5,312.8 L385.0,312.9 L385.5,313.2 L386.0,313.0 L386.5,313.0 L387.0,313.0 L387.5,313.2 L388.0,313.2 L388.5,313.0 L389.0,312.9 L389.5,313.1 L390.0,312.9 L390.5,313.1 L391.0,312.9 L391.5,312.8 L392.0,312.8 L392.5,313.1 L393.0,313.1 L393.5,313.3 L394.0,313.3 L394.5,313.4 L395.0,313.1 L395.5,313.3 L396.0,313.0 L396.5,312.9 L397.0,312.7 L397.5,312.6 L398.0,312.9 L398.5,312.9 L399.0,312.7 L399.5,312.6 L400.0,312.9 L400.5,313.0 L401.0,313.2 L401.5,313.0 L402.0,312.8 L402.5,312.8 L403.0,312.7 L403.5,312.6 L404.0,312.6 L404.5,312.8 L405.0,312.7 L405.5,312.6 L406.0,312.8 L406.5,312.8 L407.0,312.7 L407.5,312.8 L408.0,312.9 L408.5,312.9 L409.0,312.9 L409.5,312.7 L410.0,312.9 L410.5,312.8 L411.0,312.8 L411.5,312.6 L412.0,312.9 L412.5,313.0 L413.0,313.0 L413.5,313.0 L414.0,313.3 L414.5,313.0 L415.0,313.0 L415.5,313.1 L416.0,313.1 L416.5,313.2 L417.0,313.3 L417.5,313.1 L418.0,313.0 L418.5,312.9 L419.0,313.1 L419.5,313.2 L420.0,313.3 L420.5,313.4 L421.0,313.2 L421.5,313.1 L422.0,313.3 L422.5,313.4 L423.0,313.1 L423.5,313.3 L424.0,313.4 L424.5,313.5 L425.0,313.3 L425.5,313.3 L426.0,313.5 L426.5,313.6 L427.0,313.5 L427.5,313.6 L428.0,313.7 L428.5,313.7 L429.0,313.6 L429.5,313.7 L430.0,313.4 L430.5,313.2 L431.0,313.2 L431.5,313.0 L432.0,313.1 L432.5,312.9 L433.0,313.0 L433.5,312.9 L434.0,312.8 L434.5,312.9 L435.0,312.8 L435.5,312.8 L436.0,313.0 L436.5,313.2 L437.0,313.0 L437.5,312.9 L438.0,313.0 L438.5,312.8 L439.0,313.0 L439.5,312.8 L440.0,312.8 L440.5,312.7 L441.0,312.4 L441.5,312.2 L442.0,312.1 L442.5,312.1 L443.0,312.1 L443.5,312.5 L444.0,312.6 L444.5,312.4 L445.0,312.5 L445.5,312.5 L446.0,312.5 L446.5,312.7 L447.0,312.9 L447.5,313.1 L448.0,313.0 L448.5,312.9 L449.0,312.8 L449.5,312.8 L450.0,312.9 L450.5,312.9 L451.0,313.0 L451.5,312.8 L452.0,313.0 L452.5,313.2 L453.0,313.0 L453.5,313.1 L454.0,312.9 L454.5,312.7 L455.0,312.7 L455.5,312.6 L456.0,312.8 L456.5,312.9 L457.0,313.0 L457.5,313.2 L458.0,312.9 L458.5,312.8 L459.0,312.6 L459.5,312.7 L460.0,312.9 L460.5,313.0 L461.0,313.0 L461.5,313.2 L462.0,313.1 L462.5,312.9 L463.0,313.0 L463.5,312.7 L464.0,312.7 L464.5,312.5 L465.0,312.4 L465.5,312.4 L466.0,312.5 L466.5,312.4 L467.0,312.6 L467.5,312.9 L468.0,312.8 L468.5,312.7 L469.0,312.8 L469.5,313.0 L470.0,313.1 L470.5,313.1 L471.0,313.1 L471.5,313.3 L472.0,313.3 L472.5,313.4 L473.0,313.2 L473.5,313.2 L474.0,313.2 L474.5,313.1 L475.0,312.8 L475.5,312.8 L476.0,312.7 L476.5,312.8 L477.0,312.8 L477.5,312.8 L478.0,312.6 L478.5,312.5 L479.0,312.6 L479.5,312.8 L480.0,313.0 L480.5,313.1 L481.0,312.9 L481.5,312.9 L482.0,312.9 L482.5,313.0 L483.0,312.9 L483.5,313.1 L484.0,313.0 L484.5,312.9 L485.0,312.8 L485.5,312.7 L486.0,313.0 L486.5,312.7 L487.0,312.6 L487.5,312.4 L488.0,312.6 L488.5,312.4 L489.0,312.3 L489.5,312.3 L490.0,312.4 L490.5,312.6 L491.0,312.6 L491.5,312.5 L492.0,312.4 L492.5,312.6 L493.0,312.4 L493.5,312.2 L494.0,312.4 L494.5,312.4 L495.0,312.2 L495.5,312.1 L496.0,312.3 L496.5,312.4 L497.0,312.2 L497.5,312.3 L498.0,312.1 L498.5,312.1 L499.0,312.1 L499.5,311.9 L500.0,312.1 L500.5,312.0 L501.0,311.8 L501.5,311.9 L502.0,311.7 L502.5,311.4 L503.0,311.5 L503.5,311.5 L504.0,311.7 L504.5,311.7 L505.0,311.4 L505.5,311.1 L506.0,311.1 L506.5,311.0 L507.0,310.8 L507.5,310.9 L508.0,310.6 L508.5,310.5 L509.0,310.2 L509.5,310.2 L510.0,310.2 L510.5,310.0 L511.0,309.6 L511.5,309.4 L512.0,309.2 L512.5,308.9 L513.0,308.2 L513.5,307.8 L514.0,307.1 L514.5,306.6 L515.0,306.2 L515.5,305.7 L516.0,304.8 L516.5,303.9 L517.0,302.8 L517.5,301.6 L518.0,300.6 L518.5,299.4 L519.0,297.7 L519.5,295.7 L520.0,293.2 L520.5,289.5 L521.0,283.8 L521.5,277.2 L522.0,276.2 L522.5,282.0 L523.0,288.3 L523.5,292.4 L524.0,295.2 L524.5,297.2 L525.0,298.8 L525.5,300.1 L526.0,301.6 L526.5,302.7 L527.0,303.5 L527.5,304.5 L528.0,305.3 L528.5,306.0 L529.0,306.7 L529.5,307.3 L530.0,307.9 L530.5,308.5 L531.0,308.7 L531.5,309.1 L532.0,309.3 L532.5,309.5 L533.0,309.6 L533.5,309.9 L534.0,310.1 L534.5,310.2 L535.0,310.5 L535.5,310.8 L536.0,311.0 L536.5,311.2 L537.0,311.2 L537.5,311.3 L538.0,311.3 L538.5,311.2 L539.0,311.1 L539.5,311.4 L540.0,311.7 L540.5,311.6 L541.0,311.6 L541.5,311.5 L542.0,311.4 L542.5,311.6 L543.0,311.9 L543.5,311.7 L544.0,311.7 L544.5,311.9 L545.0,311.8 L545.5,312.1 L546.0,312.0 L546.5,312.1 L547.0,312.0 L547.5,311.9 L548.0,312.0 L548.5,311.9 L549.0,312.1 L549.5,311.9 L550.0,312.1 L550.5,312.2 L551.0,312.2 L551.5,312.0 L552.0,311.9 L552.5,311.7 L553.0,312.0 L553.5,312.1 L554.0,311.8 L554.5,311.9 L555.0,312.0 L555.5,311.9 L556.0,311.7 L556.5,311.7 L557.0,311.6 L557.5,311.9 L558.0,311.7 L558.5,311.9 L559.0,311.9 L559.5,311.8 L560.0,311.4 L560.5,311.4 L561.0,310.9 L561.5,310.7 L562.0,310.3 L562.5,309.8 L563.0,309.5 L563.5,308.9 L564.0,308.6 L564.5,307.8 L565.0,307.2 L565.5,306.9 L566.0,307.2 L566.5,307.9 L567.0,308.6 L567.5,309.4 L568.0,310.0 L568.5,310.2 L569.0,310.5 L569.5,310.8 L570.0,311.0 L570.5,311.3 L571.0,311.6 L571.5,311.7 L572.0,311.9 L572.5,312.2 L573.0,312.0 L573.5,311.9 L574.0,311.7 L574.5,311.7 L575.0,312.1 L575.5,312.1 L576.0,312.1 L576.5,312.2 L577.0,312.3 L577.5,312.2 L578.0,312.4 L578.5,312.4 L579.0,312.6 L579.5,312.7 L580.0,312.4 L580.5,312.4 L581.0,312.3 L581.5,312.5 L582.0,312.3 L582.5,312.2 L583.0,312.4 L583.5,312.5 L584.0,312.5 L584.5,312.5 L585.0,312.4 L585.5,312.3 L586.0,312.3 L586.5,312.1 L587.0,312.2 L587.5,312.0 L588.0,311.8 L588.5,311.7 L589.0,311.8 L589.5,311.8 L590.0,311.5 L590.5,311.8 L591.0,311.9 L591.5,311.7 L592.0,311.4 L592.5,311.4 L593.0,311.5 L593.5,311.2 L594.0,311.2 L594.5,311.2 L595.0,311.3 L595.5,311.1 L596.0,310.9 L596.5,310.8 L597.0,310.8 L597.5,311.2 L598.0,311.5 L598.5,311.5 L599.0,311.4 L599.5,311.4 L600.0,311.3 L600.5,311.5 L601.0,311.7 L601.5,311.8 L602.0,311.7 L602.5,311.7 L603.0,311.8 L603.5,311.8 L604.0,311.9 L604.5,312.1 L605.0,312.3 L605.5,312.2 L606.0,312.3 L606.5,312.2 L607.0,312.1 L607.5,312.2 L608.0,312.2 L608.5,312.1 L609.0,312.0 L609.5,312.2 L610.0,312.5 L610.5,312.8 L611.0,312.5 L611.5,312.5 L612.0,312.5 L612.5,312.5 L613.0,312.4 L613.5,312.6 L614.0,312.8 L614.5,312.8 L615.0,312.6 L615.5,312.5 L616.0,312.3 L616.5,312.6 L617.0,312.5 L617.5,312.7 L618.0,312.9 L618.5,312.7 L619.0,312.6 L619.5,312.6 L620.0,312.8 L620.5,313.0 L621.0,312.9 L621.5,312.8 L622.0,312.8 L622.5,312.8 L623.0,313.0 L623.5,312.9 L624.0,313.0 L624.5,313.2 L625.0,313.2 L625.5,313.4 L626.0,313.5 L626.5,313.2 L627.0,313.4 L627.5,313.1 L628.0,313.2 L628.5,313.0 L629.0,312.8 L629.5,312.8 L630.0,313.0 L630.5,313.1 L631.0,312.9 L631.5,313.1 L632.0,313.2 L632.5,313.2 L633.0,312.9 L633.5,312.8 L634.0,312.7 L634.5,312.7 L635.0,313.0 L635.5,313.0 L636.0,313.1 L636.5,312.8 L637.0,312.7 L637.5,312.9 L638.0,312.8 L638.5,312.7 L639.0,312.5 L639.5,312.3 L640.0,312.4 L640.5,312.5 L641.0,312.5 L641.5,312.6 L642.0,312.5 L642.5,312.3 L643.0,312.5 L643.5,312.5 L644.0,312.5 L644.5,312.5 L645.0,312.4 L645.5,312.2 L646.0,312.2 L646.5,312.2 L647.0,312.0 L647.5,311.9 L648.0,312.0 L648.5,311.8 L649.0,312.1 L649.5,312.1 L650.0,312.1 L650.5,312.1 L651.0,311.8 L651.5,311.6 L652.0,311.8 L652.5,311.8 L653.0,311.7 L653.5,311.6 L654.0,311.6 L654.5,311.4 L655.0,311.4 L655.5,311.4 L656.0,311.3 L656.5,311.1 L657.0,310.8 L657.5,310.4 L658.0,310.0 L658.5,309.6 L659.0,309.2 L659.5,308.8 L660.0,308.4 L660.5,307.5 L661.0,307.1 L661.5,306.8 L662.0,306.7 L662.5,307.1 L663.0,307.3 L663.5,307.9 L664.0,308.4 L664.5,309.1 L665.0,309.3 L665.5,309.8 L666.0,309.9 L666.5,310.4 L667.0,310.6 L667.5,311.0 L668.0,311.1 L668.5,311.4 L669.0,311.3 L669.5,311.3 L670.0,311.6 L670.5,312.0 L671.0,312.2 L671.5,312.1 L672.0,311.9 L672.5,312.2 L673.0,312.3 L673.5,312.2 L674.0,312.5 L674.5,312.5 L675.0,312.3 L675.5,312.4" fill="none" stroke="#000" stroke-width="4" stroke-linejoin="round"/><path d="M102.0,406.1 L102.5,406.0 L103.0,406.2 L103.5,406.4 L104.0,406.2 L104.5,406.2 L105.0,406.1 L105.5,406.2 L106.0,406.0 L106.5,406.0 L107.0,406.0 L107.5,406.0 L108.0,406.0 L108.5,406.1 L109.0,406.4 L109.5,406.5 L110.0,406.7 L110.5,406.7 L111.0,406.4 L111.5,406.3 L112.0,406.2 L112.5,406.3 L113.0,406.3 L113.5,406.2 L114.0,406.4 L114.5,406.3 L115.0,406.0 L115.5,405.9 L116.0,405.8 L116.5,406.0 L117.0,406.2 L117.5,406.0 L118.0,405.9 L118.5,405.8 L119.0,406.1 L119.5,406.3 L120.0,406.1 L120.5,405.9 L121.0,406.2 L121.5,406.4 L122.0,406.5 L122.5,406.4 L123.0,406.4 L123.5,406.5 L124.0,406.4 L124.5,406.2 L125.0,406.2 L125.5,406.3 L126.0,406.2 L126.5,406.2 L127.0,406.0 L127.5,406.3 L128.0,406.1 L128.5,406.0 L129.0,406.2 L129.5,406.4 L130.0,406.5 L130.5,406.6 L131.0,406.6 L131.5,406.7 L132.0,406.5 L132.5,406.2 L133.0,406.3 L133.5,406.4 L134.0,406.5 L134.5,406.1 L135.0,405.9 L135.5,406.0 L136.0,406.0 L136.5,406.2 L137.0,406.4 L137.5,406.3 L138.0,406.3 L138.5,406.3 L139.0,406.3 L139.5,406.1 L140.0,406.1 L140.5,405.8 L141.0,406.0 L141.5,406.1 L142.0,406.1 L142.5,406.0 L143.0,405.7 L143.5,405.7 L144.0,405.7 L144.5,405.7 L145.0,405.4 L145.5,405.1 L146.0,405.0 L146.5,404.8 L147.0,404.6 L147.5,404.4 L148.0,404.3 L148.5,404.1 L149.0,404.0 L149.5,403.5 L150.0,402.5 L150.5,401.8 L151.0,401.4 L151.5,401.9 L152.0,402.8 L152.5,403.4 L153.0,403.8 L153.5,404.0 L154.0,404.4 L154.5,404.4 L155.0,404.8 L155.5,405.1 L156.0,405.3 L156.5,405.4 L157.0,405.6 L157.5,405.8 L158.0,405.9 L158.5,406.0 L159.0,405.9 L159.5,405.5 L160.0,405.6 L160.5,405.6 L161.0,405.7 L161.5,405.7 L162.0,405.6 L162.5,405.3 L163.0,405.4 L163.5,405.5 L164.0,405.7 L164.5,405.6 L165.0,405.7 L165.5,405.6 L166.0,405.7 L166.5,405.5 L167.0,405.6 L167.5,405.3 L168.0,404.9 L168.5,404.7 L169.0,404.6 L169.5,404.8 L170.0,404.5 L170.5,404.3 L171.0,404.2 L171.5,403.8 L172.0,403.6 L172.5,403.3 L173.0,402.9 L173.5,402.7 L174.0,402.4 L174.5,402.1 L175.0,401.5 L175.5,401.1 L176.0,400.1 L176.5,399.1 L177.0,397.8 L177.5,396.0 L178.0,394.1 L178.5,391.8 L179.0,388.3 L179.5,383.6 L180.0,376.6 L180.5,365.5 L181.0,351.0 L181.5,344.9 L182.0,356.7 L182.5,370.3 L183.0,379.8 L183.5,385.9 L184.0,390.1 L184.5,393.1 L185.0,395.5 L185.5,397.4 L186.0,398.4 L186.5,399.3 L187.0,400.4 L187.5,401.3 L188.0,402.1 L188.5,402.7 L189.0,402.8 L189.5,403.1 L190.0,403.5 L190.5,403.7 L191.0,403.7 L191.5,404.2 L192.0,404.3 L192.5,404.3 L193.0,404.7 L193.5,404.7 L194.0,404.5 L194.5,404.7 L195.0,404.7 L195.5,404.6 L196.0,404.6 L196.5,404.8 L197.0,404.8 L197.5,405.0 L198.0,405.2 L198.5,405.5 L199.0,405.6 L199.5,405.7 L200.0,405.5 L200.5,405.6 L201.0,405.3 L201.5,405.3 L202.0,405.1 L202.5,405.0 L203.0,405.3 L203.5,405.1 L204.0,405.2 L204.5,405.2 L205.0,405.0 L205.5,405.2 L206.0,405.0 L206.5,405.2 L207.0,405.3 L207.5,405.3 L208.0,405.2 L208.5,404.9 L209.0,405.0 L209.5,404.8 L210.0,404.8 L210.5,405.0 L211.0,405.0 L211.5,404.7 L212.0,404.8 L212.5,404.8 L213.0,404.6 L213.5,404.7 L214.0,404.6 L214.5,404.4 L215.0,404.2 L215.5,404.0 L216.0,403.7 L216.5,403.8 L217.0,403.5 L217.5,403.4 L218.0,403.1 L218.5,402.7 L219.0,402.1 L219.5,402.1 L220.0,401.8 L220.5,401.5 L221.0,401.0 L221.5,400.0 L222.0,399.1 L222.5,398.1 L223.0,397.2 L223.5,396.1 L224.0,394.9 L224.5,392.9 L225.0,390.5 L225.5,387.4 L226.0,383.6 L226.5,379.9 L227.0,378.3 L227.5,380.0 L228.0,383.7 L228.5,387.6 L229.0,390.5 L229.5,393.0 L230.0,394.8 L230.5,396.1 L231.0,397.1 L231.5,398.3 L232.0,399.4 L232.5,399.9 L233.0,400.6 L233.5,401.1 L234.0,401.7 L234.5,402.3 L235.0,402.7 L235.5,402.8 L236.0,402.9 L236.5,403.5 L237.0,403.9 L237.5,404.2 L238.0,404.3 L238.5,404.1 L239.0,404.2 L239.5,404.5 L240.0,404.4 L240.5,404.4 L241.0,404.3 L241.5,404.6 L242.0,404.7 L242.5,404.5 L243.0,404.6 L243.5,404.6 L244.0,404.7 L244.5,404.9 L245.0,405.1 L245.5,404.9 L246.0,405.0 L246.5,404.9 L247.0,404.9 L247.5,405.2 L248.0,405.1 L248.5,405.3 L249.0,405.2 L249.5,405.2 L250.0,405.4 L250.5,405.1 L251.0,405.2 L251.5,405.3 L252.0,405.4 L252.5,405.6 L253.0,405.7 L253.5,405.5 L254.0,405.3 L254.5,405.3 L255.0,405.2 L255.5,405.2 L256.0,405.1 L256.5,405.2 L257.0,405.2 L257.5,405.0 L258.0,404.8 L258.5,405.1 L259.0,405.3 L259.5,405.4 L260.0,405.3 L260.5,405.4 L261.0,405.1 L261.5,405.2 L262.0,405.3 L262.5,405.0 L263.0,404.6 L263.5,404.4 L264.0,404.1 L264.5,404.3 L265.0,404.3 L265.5,404.1 L266.0,403.8 L266.5,403.7 L267.0,403.3 L267.5,403.0 L268.0,402.8 L268.5,402.6 L269.0,402.4 L269.5,402.0 L270.0,401.2 L270.5,400.4 L271.0,399.4 L271.5,398.4 L272.0,396.9 L272.5,395.4 L273.0,393.4 L273.5,390.7 L274.0,386.7 L274.5,381.3 L275.0,373.0 L275.5,360.1 L276.0,346.6 L276.5,348.3 L277.0,362.7 L277.5,374.4 L278.0,382.4 L278.5,387.5 L279.0,391.4 L279.5,394.0 L280.0,396.0 L280.5,397.8 L281.0,399.2 L281.5,400.3 L282.0,401.2 L282.5,402.0 L283.0,402.3 L283.5,402.7 L284.0,402.9 L284.5,403.3 L285.0,403.8 L285.5,403.9 L286.0,403.9 L286.5,404.2 L287.0,404.1 L287.5,404.3 L288.0,404.2 L288.5,404.4 L289.0,404.7 L289.5,404.9 L290.0,405.2 L290.5,405.2 L291.0,405.2 L291.5,405.0 L292.0,405.2 L292.5,405.3 L293.0,405.3 L293.5,405.1 L294.0,405.2 L294.5,405.0 L295.0,405.0 L295.5,404.9 L296.0,405.0 L296.5,404.9 L297.0,405.2 L297.5,405.4 L298.0,405.6 L298.5,405.6 L299.0,405.4 L299.5,405.3 L300.0,405.5 L300.5,405.5 L301.0,405.6 L301.5,405.6 L302.0,405.3 L302.5,405.1 L303.0,405.1 L303.5,405.3 L304.0,405.5 L304.5,405.4 L305.0,405.1 L305.5,404.8 L306.0,404.8 L306.5,404.7 L307.0,404.9 L307.5,404.7 L308.0,404.6 L308.5,404.5 L309.0,404.4 L309.5,404.8 L310.0,405.1 L310.5,405.0 L311.0,404.9 L311.5,405.1 L312.0,405.1 L312.5,405.3 L313.0,405.6 L313.5,405.7 L314.0,405.6 L314.5,405.7 L315.0,405.6 L315.5,405.7 L316.0,405.6 L316.5,405.8 L317.0,405.9 L317.5,406.0 L318.0,405.8 L318.5,406.0 L319.0,406.0 L319.5,405.8 L320.0,405.8 L320.5,405.7 L321.0,405.5 L321.5,405.3 L322.0,405.4 L322.5,405.3 L323.0,405.1 L323.5,405.4 L324.0,405.2 L324.5,405.4 L325.0,405.2 L325.5,405.2 L326.0,405.4 L326.5,405.5 L327.0,405.5 L327.5,405.6 L328.0,405.4 L328.5,405.4 L329.0,405.2 L329.5,405.0 L330.0,404.6 L330.5,404.3 L331.0,404.0 L331.5,403.6 L332.0,403.3 L332.5,403.0 L333.0,402.5 L333.5,401.6 L334.0,400.4 L334.5,399.3 L335.0,397.8 L335.5,395.9 L336.0,392.9 L336.5,389.2 L337.0,387.1 L337.5,389.2 L338.0,393.0 L338.5,396.0 L339.0,398.1 L339.5,399.5 L340.0,400.4 L340.5,401.3 L341.0,402.3 L341.5,403.1 L342.0,403.4 L342.5,403.8 L343.0,404.1 L343.5,404.3 L344.0,404.3 L344.5,404.7 L345.0,404.6 L345.5,404.7 L346.0,404.8 L346.5,404.8 L347.0,404.8 L347.5,404.8 L348.0,405.0 L348.5,405.0 L349.0,405.3 L349.5,405.4 L350.0,405.6 L350.5,405.6 L351.0,405.7 L351.5,405.6 L352.0,405.7 L352.5,405.8 L353.0,405.7 L353.5,405.9 L354.0,405.9 L354.5,406.2 L355.0,406.2 L355.5,406.1 L356.0,406.2 L356.5,406.1 L357.0,406.0 L357.5,406.0 L358.0,406.1 L358.5,406.2 L359.0,406.0 L359.5,406.2 L360.0,406.4 L360.5,406.3 L361.0,406.5 L361.5,406.5 L362.0,406.3 L362.5,406.0 L363.0,405.8 L363.5,405.9 L364.0,406.1 L364.5,406.1 L365.0,406.3 L365.5,406.2 L366.0,406.3 L366.5,406.3 L367.0,406.3 L367.5,406.3 L368.0,406.3 L368.5,406.3 L369.0,406.1 L369.5,406.2 L370.0,406.3 L370.5,406.2 L371.0,406.4 L371.5,406.3 L372.0,406.1 L372.5,406.1 L373.0,406.1 L373.5,405.9 L374.0,406.2 L374.5,406.0 L375.0,406.1 L375.5,406.0 L376.0,406.0 L376.5,406.3 L377.0,406.1 L377.5,406.3 L378.0,406.0 L378.5,406.3 L379.0,406.5 L379.5,406.4 L380.0,406.4 L380.5,406.3 L381.0,406.1 L381.5,406.0 L382.0,406.0 L382.5,406.3 L383.0,406.0 L383.5,406.1 L384.0,406.1 L384.5,406.1 L385.0,406.3 L385.5,406.3 L386.0,406.2 L386.5,406.4 L387.0,406.4 L387.5,406.2 L388.0,406.2 L388.5,406.4 L389.0,406.1 L389.5,406.2 L390.0,406.2 L390.5,406.1 L391.0,405.9 L391.5,405.9 L392.0,405.9 L392.5,405.9 L393.0,406.1 L393.5,406.0 L394.0,406.1 L394.5,406.1 L395.0,406.3 L395.5,406.4 L396.0,406.2 L396.5,406.4 L397.0,406.4 L397.5,406.3 L398.0,406.1 L398.5,406.2 L399.0,406.2 L399.5,406.3 L400.0,406.1 L400.5,406.3 L401.0,406.2 L401.5,406.4 L402.0,406.3 L402.5,406.2 L403.0,406.2 L403.5,406.2 L404.0,406.3 L404.5,406.3 L405.0,406.5 L405.5,406.5 L406.0,406.2 L406.5,406.5 L407.0,406.2 L407.5,405.9 L408.0,406.2 L408.5,406.1 L409.0,405.8 L409.5,405.8 L410.0,405.9 L410.5,406.1 L411.0,405.9 L411.5,405.8 L412.0,405.7 L412.5,405.6 L413.0,405.6 L413.5,405.8 L414.0,406.1 L414.5,406.2 L415.0,406.4 L415.5,406.4 L416.0,406.5 L416.5,406.5 L417.0,406.3 L417.5,406.2 L418.0,406.2 L418.5,406.0 L419.0,406.2 L419.5,406.2 L420.0,406.1 L420.5,406.1 L421.0,406.3 L421.5,406.1 L422.0,406.2 L422.5,406.0 L423.0,405.9 L423.5,405.8 L424.0,405.9 L424.5,406.0 L425.0,405.9 L425.5,406.1 L426.0,406.1 L426.5,406.3 L427.0,406.5 L427.5,406.3 L428.0,406.5 L428.5,406.4 L429.0,406.3 L429.5,406.1 L430.0,405.9 L430.5,406.0 L431.0,405.9 L431.5,405.7 L432.0,405.6 L432.5,405.7 L433.0,405.7 L433.5,405.6 L434.0,405.9 L434.5,405.9 L435.0,405.8 L435.5,405.9 L436.0,406.2 L436.5,406.2 L437.0,406.1 L437.5,406.1 L438.0,406.2 L438.5,406.3 L439.0,406.3 L439.5,406.1 L440.0,406.2 L440.5,405.9 L441.0,405.6 L441.5,405.7 L442.0,405.5 L442.5,405.6 L443.0,405.5 L443.5,405.8 L444.0,405.7 L444.5,405.9 L445.0,406.1 L445.5,406.0 L446.0,406.1 L446.5,406.0 L447.0,405.9 L447.5,405.8 L448.0,405.9 L448.5,406.1 L449.0,406.2 L449.5,406.0 L450.0,406.0 L450.5,406.0 L451.0,405.9 L451.5,406.1 L452.0,405.8 L452.5,405.9 L453.0,405.9 L453.5,405.8 L454.0,406.0 L454.5,405.9 L455.0,405.9 L455.5,405.8 L456.0,405.9 L456.5,405.9 L457.0,406.0 L457.5,406.0 L458.0,406.2 L458.5,406.2 L459.0,405.9 L459.5,406.0 L460.0,405.9 L460.5,405.8 L461.0,406.1 L461.5,406.1 L462.0,406.2 L462.5,406.0 L463.0,406.1 L463.5,405.9 L464.0,405.8 L464.5,405.7 L465.0,405.5 L465.5,405.8 L466.0,406.1 L466.5,406.0 L467.0,405.8 L467.5,406.0 L468.0,406.1 L468.5,405.8 L469.0,406.0 L469.5,405.8 L470.0,405.7 L470.5,405.9 L471.0,406.1 L471.5,405.9 L472.0,405.9 L472.5,406.1 L473.0,406.1 L473.5,406.1 L474.0,405.9 L474.5,405.7 L475.0,405.6 L475.5,405.7 L476.0,405.8 L476.5,405.8 L477.0,405.9 L477.5,405.9 L478.0,406.0 L478.5,405.9 L479.0,406.1 L479.5,406.1 L480.0,406.2 L480.5,406.4 L481.0,406.4 L481.5,406.4 L482.0,406.4 L482.5,406.2 L483.0,406.0 L483.5,405.8 L484.0,405.9 L484.5,405.7 L485.0,405.8 L485.5,405.8 L486.0,405.8 L486.5,405.8 L487.0,405.6 L487.5,405.5 L488.0,405.7 L488.5,405.9 L489.0,405.7 L489.5,405.6 L490.0,405.6 L490.5,405.5 L491.0,405.6 L491.5,405.7 L492.0,405.8 L492.5,405.9 L493.0,405.9 L493.5,406.0 L494.0,405.8 L494.5,405.7 L495.0,405.7 L495.5,405.5 L496.0,405.6 L496.5,405.5 L497.0,405.4 L497.5,405.4 L498.0,405.2 L498.5,404.9 L499.0,404.8 L499.5,404.8 L500.0,405.1 L500.5,404.8 L501.0,405.0 L501.5,405.2 L502.0,405.2 L502.5,404.9 L503.0,404.5 L503.5,404.7 L504.0,404.3 L504.5,404.2 L505.0,404.3 L505.5,404.3 L506.0,404.3 L506.5,404.3 L507.0,403.9 L507.5,403.7 L508.0,403.3 L508.5,403.1 L509.0,402.9 L509.5,402.9 L510.0,402.6 L510.5,402.4 L511.0,401.9 L511.5,401.5 L512.0,401.0 L512.5,400.7 L513.0,400.4 L513.5,400.0 L514.0,399.4 L514.5,399.1 L515.0,398.4 L515.5,397.6 L516.0,396.9 L516.5,395.7 L517.0,394.5 L517.5,393.3 L518.0,392.0 L518.5,390.7 L519.0,388.9 L519.5,386.4 L520.0,383.7 L520.5,379.4 L521.0,372.8 L521.5,365.6 L522.0,364.7 L522.5,371.6 L523.0,378.3 L523.5,382.8 L524.0,385.9 L524.5,388.2 L525.0,390.0 L525.5,391.6 L526.0,392.8 L526.5,394.0 L527.0,394.9 L527.5,395.8 L528.0,396.8 L528.5,397.8 L529.0,398.4 L529.5,399.3 L530.0,399.9 L530.5,400.4 L531.0,400.7 L531.5,401.3 L532.0,401.5 L532.5,402.0 L533.0,402.1 L533.5,402.5 L534.0,402.8 L534.5,402.7 L535.0,403.0 L535.5,402.9 L536.0,403.0 L536.5,403.0 L537.0,403.0 L537.5,403.0 L538.0,402.9 L538.5,402.9 L539.0,402.8 L539.5,402.9 L540.0,402.8 L540.5,402.8 L541.0,402.7 L541.5,403.0 L542.0,403.2 L542.5,403.5 L543.0,403.8 L543.5,404.1 L544.0,404.4 L544.5,404.4 L545.0,404.5 L545.5,404.4 L546.0,404.4 L546.5,404.4 L547.0,404.6 L547.5,404.4 L548.0,404.7 L548.5,404.6 L549.0,404.6 L549.5,404.7 L550.0,405.0 L550.5,405.1 L551.0,404.9 L551.5,405.0 L552.0,404.9 L552.5,405.0 L553.0,405.0 L553.5,405.2 L554.0,405.1 L554.5,405.0 L555.0,404.9 L555.5,405.1 L556.0,404.9 L556.5,404.8 L557.0,404.8 L557.5,404.8 L558.0,404.9 L558.5,404.6 L559.0,404.4 L559.5,404.4 L560.0,404.2 L560.5,404.1 L561.0,404.0 L561.5,403.5 L562.0,403.0 L562.5,402.6 L563.0,402.1 L563.5,401.5 L564.0,400.8 L564.5,399.9 L565.0,398.8 L565.5,398.5 L566.0,399.0 L566.5,399.7 L567.0,400.5 L567.5,401.5 L568.0,402.0 L568.5,402.4 L569.0,402.9 L569.5,403.2 L570.0,403.7 L570.5,404.0 L571.0,404.2 L571.5,404.3 L572.0,404.3 L572.5,404.7 L573.0,404.7 L573.5,405.0 L574.0,404.9 L574.5,405.0 L575.0,405.1 L575.5,405.0 L576.0,404.9 L576.5,405.2 L577.0,405.5 L577.5,405.8 L578.0,405.7 L578.5,405.8 L579.0,405.8 L579.5,405.7 L580.0,405.5 L580.5,405.6 L581.0,405.5 L581.5,405.6 L582.0,405.4 L582.5,405.3 L583.0,405.2 L583.5,405.4 L584.0,405.4 L584.5,405.3 L585.0,405.5 L585.5,405.5 L586.0,405.3 L586.5,405.3 L587.0,405.0 L587.5,404.8 L588.0,404.7 L588.5,405.0 L589.0,405.2 L589.5,405.1 L590.0,405.3 L590.5,405.1 L591.0,405.1 L591.5,404.7 L592.0,404.6 L592.5,404.5 L593.0,404.3 L593.5,404.3 L594.0,404.1 L594.5,404.1 L595.0,403.9 L595.5,403.9 L596.0,404.0 L596.5,404.1 L597.0,404.0 L597.5,404.0 L598.0,404.3 L598.5,404.2 L599.0,404.4 L599.5,404.7 L600.0,404.8 L600.5,404.9 L601.0,405.0 L601.5,405.2 L602.0,405.0 L602.5,405.0 L603.0,405.1 L603.5,404.9 L604.0,405.0 L604.5,405.0 L605.0,405.1 L605.5,405.3 L606.0,405.6 L606.5,405.6 L607.0,405.7 L607.5,405.5 L608.0,405.6 L608.5,405.9 L609.0,405.9 L609.5,405.9 L610.0,405.9 L610.5,405.8 L611.0,405.7 L611.5,405.6 L612.0,405.8 L612.5,405.8 L613.0,405.6 L613.5,405.8 L614.0,406.0 L614.5,406.0 L615.0,405.9 L615.5,406.1 L616.0,405.9 L616.5,405.9 L617.0,405.9 L617.5,405.8 L618.0,405.7 L618.5,405.6 L619.0,405.5 L619.5,405.4 L620.0,405.6 L620.5,405.8 L621.0,405.7 L621.5,406.0 L622.0,406.0 L622.5,406.0 L623.0,406.2 L623.5,406.2 L624.0,406.2 L624.5,406.2 L625.0,406.3 L625.5,406.1 L626.0,405.9 L626.5,406.0 L627.0,406.2 L627.5,406.2 L628.0,405.9 L628.5,406.1 L629.0,405.9 L629.5,406.1 L630.0,406.1 L630.5,406.2 L631.0,405.9 L631.5,405.9 L632.0,406.0 L632.5,405.8 L633.0,405.6 L633.5,405.7 L634.0,405.9 L634.5,406.0 L635.0,405.8 L635.5,405.7 L636.0,405.9 L636.5,406.1 L637.0,406.1 L637.5,405.9 L638.0,406.0 L638.5,405.8 L639.0,405.6 L639.5,405.6 L640.0,405.9 L640.5,405.6 L641.0,405.5 L641.5,405.7 L642.0,405.8 L642.5,405.7 L643.0,405.5 L643.5,405.7 L644.0,406.0 L644.5,406.1 L645.0,406.0 L645.5,405.7 L646.0,405.8 L646.5,405.8 L647.0,405.9 L647.5,405.9 L648.0,405.8 L648.5,405.9 L649.0,405.7 L649.5,405.6 L650.0,405.5 L650.5,405.5 L651.0,405.4 L651.5,405.5 L652.0,405.2 L652.5,405.2 L653.0,405.2 L653.5,404.9 L654.0,404.5 L654.5,404.4 L655.0,404.3 L655.5,404.3 L656.0,404.0 L656.5,403.8 L657.0,403.6 L657.5,403.0 L658.0,402.7 L658.5,402.2 L659.0,401.6 L659.5,400.9 L660.0,400.3 L660.5,399.9 L661.0,399.3 L661.5,398.9 L662.0,398.6 L662.5,399.2 L663.0,399.8 L663.5,400.6 L664.0,401.3 L664.5,401.6 L665.0,402.0 L665.5,402.4 L666.0,402.7 L666.5,403.2 L667.0,403.4 L667.5,403.4 L668.0,403.7 L668.5,403.7 L669.0,403.8 L669.5,404.1 L670.0,404.4 L670.5,404.6 L671.0,404.6 L671.5,404.8 L672.0,404.9 L672.5,404.9 L673.0,404.9 L673.5,404.9 L674.0,405.1 L674.5,405.1 L675.0,405.3 L675.5,405.5" fill="none" stroke="#000" stroke-width="4" stroke-linejoin="round"/><path d="M102.0,501.5 L102.5,501.6 L103.0,501.5 L103.5,501.6 L104.0,501.5 L104.5,501.6 L105.0,501.7 L105.5,501.8 L106.0,501.8 L106.5,501.9 L107.0,502.1 L107.5,502.1 L108.0,501.9 L108.5,501.7 L109.0,501.8 L109.5,501.5 L110.0,501.4 L110.5,501.2 L111.0,501.4 L111.5,501.4 L112.0,501.6 L112.5,501.8 L113.0,501.7 L113.5,501.6 L114.0,501.5 L114.5,501.3 L115.0,501.2 L115.5,501.5 L116.0,501.4 L116.5,501.2 L117.0,501.5 L117.5,501.5 L118.0,501.6 L118.5,501.6 L119.0,501.8 L119.5,501.5 L120.0,501.5 L120.5,501.6 L121.0,501.4 L121.5,501.6 L122.0,501.5 L122.5,501.6 L123.0,501.4 L123.5,501.2 L124.0,501.1 L124.5,501.3 L125.0,501.6 L125.5,501.8 L126.0,501.7 L126.5,501.5 L127.0,501.6 L127.5,501.6 L128.0,501.7 L128.5,501.7 L129.0,501.7 L129.5,501.5 L130.0,501.3 L130.5,501.1 L131.0,501.2 L131.5,501.1 L132.0,501.4 L132.5,501.2 L133.0,501.4 L133.5,501.2 L134.0,501.1 L134.5,501.3 L135.0,501.2 L135.5,501.3 L136.0,501.3 L136.5,501.3 L137.0,501.2 L137.5,501.1 L138.0,501.2 L138.5,501.2 L139.0,501.2 L139.5,501.4 L140.0,501.1 L140.5,501.1 L141.0,501.0 L141.5,501.2 L142.0,501.2 L142.5,501.0 L143.0,500.9 L143.5,500.6 L144.0,500.7 L144.5,500.4 L145.0,500.2 L145.5,500.2 L146.0,500.2 L146.5,500.0 L147.0,499.9 L147.5,499.6 L148.0,499.4 L148.5,498.8 L149.0,498.5 L149.5,497.8 L150.0,496.6 L150.5,495.4 L151.0,494.9 L151.5,495.3 L152.0,496.8 L152.5,497.6 L153.0,498.3 L153.5,498.7 L154.0,499.1 L154.5,499.7 L155.0,499.8 L155.5,499.9 L156.0,500.1 L156.5,500.3 L157.0,500.2 L157.5,500.2 L158.0,500.4 L158.5,500.4 L159.0,500.3 L159.5,500.5 L160.0,500.7 L160.5,500.9 L161.0,501.1 L161.5,500.8 L162.0,500.7 L162.5,500.8 L163.0,500.8 L163.5,500.8 L164.0,500.8 L164.5,500.6 L165.0,500.5 L165.5,500.3 L166.0,500.1 L166.5,500.2 L167.0,500.0 L167.5,500.2 L168.0,500.4 L168.5,500.1 L169.0,500.3 L169.5,500.2 L170.0,499.8 L170.5,499.6 L171.0,499.4 L171.5,499.2 L172.0,498.9 L172.5,498.6 L173.0,498.2 L173.5,498.0 L174.0,497.7 L174.5,497.2 L175.0,497.0 L175.5,496.6 L176.0,495.8 L176.5,495.0 L177.0,493.6 L177.5,492.3 L178.0,490.5 L178.5,487.8 L179.0,484.6 L179.5,479.9 L180.0,472.9 L180.5,462.2 L181.0,447.9 L181.5,442.4 L182.0,453.7 L182.5,467.0 L183.0,476.1 L183.5,481.9 L184.0,486.1 L184.5,489.1 L185.0,491.3 L185.5,493.0 L186.0,494.4 L186.5,495.6 L187.0,496.4 L187.5,497.0 L188.0,497.6 L188.5,498.0 L189.0,498.5 L189.5,498.7 L190.0,498.8 L190.5,499.0 L191.0,499.1 L191.5,499.4 L192.0,499.7 L192.5,499.5 L193.0,499.5 L193.5,499.8 L194.0,499.9 L194.5,500.1 L195.0,500.1 L195.5,500.0 L196.0,500.2 L196.5,500.5 L197.0,500.3 L197.5,500.4 L198.0,500.5 L198.5,500.6 L199.0,500.6 L199.5,500.6 L200.0,500.9 L200.5,501.0 L201.0,500.9 L201.5,501.0 L202.0,501.0 L202.5,501.0 L203.0,501.2 L203.5,500.8 L204.0,500.6 L204.5,500.5 L205.0,500.6 L205.5,500.8 L206.0,500.6 L206.5,500.5 L207.0,500.7 L207.5,500.7 L208.0,500.7 L208.5,500.8 L209.0,500.8 L209.5,500.5 L210.0,500.6 L210.5,500.4 L211.0,500.3 L211.5,500.3 L212.0,500.1 L212.5,499.9 L213.0,500.0 L213.5,500.0 L214.0,500.1 L214.5,499.6 L215.0,499.5 L215.5,499.4 L216.0,499.4 L216.5,499.3 L217.0,498.8 L217.5,498.3 L218.0,497.9 L218.5,497.5 L219.0,497.3 L219.5,496.8 L220.0,496.2 L220.5,495.6 L221.0,495.2 L221.5,494.7 L222.0,493.7 L222.5,492.7 L223.0,491.9 L223.5,490.4 L224.0,488.8 L224.5,486.9 L225.0,484.0 L225.5,480.8 L226.0,476.8 L226.5,472.8 L227.0,470.8 L227.5,472.7 L228.0,476.9 L228.5,480.7 L229.0,483.9 L229.5,486.6 L230.0,488.9 L230.5,490.3 L231.0,491.6 L231.5,492.7 L232.0,493.9 L232.5,494.7 L233.0,495.5 L233.5,495.9 L234.0,496.3 L234.5,496.9 L235.0,497.4 L235.5,497.6 L236.0,497.7 L236.5,498.0 L237.0,498.3 L237.5,498.5 L238.0,498.6 L238.5,498.7 L239.0,499.1 L239.5,499.5 L240.0,499.7 L240.5,500.0 L241.0,499.8 L241.5,500.0 L242.0,500.0 L242.5,500.3 L243.0,500.3 L243.5,500.4 L244.0,500.6 L244.5,500.8 L245.0,500.6 L245.5,500.5 L246.0,500.3 L246.5,500.4 L247.0,500.3 L247.5,500.5 L248.0,500.5 L248.5,500.3 L249.0,500.6 L249.5,500.4 L250.0,500.4 L250.5,500.5 L251.0,500.3 L251.5,500.5 L252.0,500.7 L252.5,500.5 L253.0,500.6 L253.5,500.4 L254.0,500.5 L254.5,500.3 L255.0,500.3 L255.5,500.4 L256.0,500.5 L256.5,500.6 L257.0,500.8 L257.5,500.6 L258.0,500.5 L258.5,500.4 L259.0,500.5 L259.5,500.4 L260.0,500.2 L260.5,500.1 L261.0,500.1 L261.5,500.2 L262.0,500.2 L262.5,500.3 L263.0,500.1 L263.5,500.1 L264.0,499.8 L264.5,499.7 L265.0,499.7 L265.5,499.3 L266.0,499.1 L266.5,498.8 L267.0,498.6 L267.5,498.3 L268.0,497.9 L268.5,497.7 L269.0,497.1 L269.5,496.5 L270.0,495.9 L270.5,495.1 L271.0,494.5 L271.5,493.5 L272.0,492.3 L272.5,490.2 L273.0,487.8 L273.5,484.7 L274.0,480.7 L274.5,475.0 L275.0,466.2 L275.5,452.6 L276.0,438.0 L276.5,439.9 L277.0,455.2 L277.5,467.9 L278.0,475.9 L278.5,481.4 L279.0,485.2 L279.5,488.4 L280.0,490.5 L280.5,492.1 L281.0,493.4 L281.5,494.8 L282.0,495.5 L282.5,496.3 L283.0,496.8 L283.5,497.2 L284.0,498.0 L284.5,498.5 L285.0,498.9 L285.5,499.0 L286.0,499.5 L286.5,499.8 L287.0,500.0 L287.5,499.9 L288.0,499.7 L288.5,499.9 L289.0,500.0 L289.5,500.3 L290.0,500.6 L290.5,500.7 L291.0,500.6 L291.5,500.8 L292.0,500.8 L292.5,500.6 L293.0,500.5 L293.5,500.7 L294.0,500.9 L294.5,501.0 L295.0,501.0 L295.5,500.7 L296.0,500.9 L296.5,500.8 L297.0,500.9 L297.5,500.9 L298.0,500.9 L298.5,500.9 L299.0,501.0 L299.5,501.1 L300.0,501.0 L300.5,501.0 L301.0,500.8 L301.5,500.6 L302.0,500.5 L302.5,500.2 L303.0,500.2 L303.5,500.0 L304.0,500.2 L304.5,500.3 L305.0,500.2 L305.5,499.8 L306.0,499.6 L306.5,499.7 L307.0,499.6 L307.5,499.4 L308.0,499.5 L308.5,499.7 L309.0,499.6 L309.5,499.8 L310.0,500.0 L310.5,500.3 L311.0,500.3 L311.5,500.7 L312.0,500.6 L312.5,500.8 L313.0,500.6 L313.5,500.9 L314.0,500.9 L314.5,500.7 L315.0,501.0 L315.5,501.1 L316.0,500.9 L316.5,501.1 L317.0,501.3 L317.5,501.2 L318.0,501.3 L318.5,501.3 L319.0,501.2 L319.5,501.1 L320.0,501.0 L320.5,501.1 L321.0,501.2 L321.5,501.3 L322.0,501.0 L322.5,501.0 L323.0,501.0 L323.5,500.8 L324.0,500.6 L324.5,500.8 L325.0,500.9 L325.5,500.9 L326.0,500.7 L326.5,500.6 L327.0,500.6 L327.5,500.3 L328.0,500.3 L328.5,500.3 L329.0,500.1 L329.5,500.1 L330.0,499.9 L330.5,499.8 L331.0,499.2 L331.5,498.8 L332.0,498.3 L332.5,497.8 L333.0,497.3 L333.5,496.7 L334.0,495.9 L334.5,494.7 L335.0,493.1 L335.5,490.7 L336.0,487.4 L336.5,482.9 L337.0,480.5 L337.5,482.8 L338.0,486.7 L338.5,490.3 L339.0,492.5 L339.5,494.1 L340.0,495.1 L340.5,496.2 L341.0,497.0 L341.5,497.9 L342.0,498.5 L342.5,498.8 L343.0,499.0 L343.5,499.1 L344.0,499.5 L344.5,499.8 L345.0,500.0 L345.5,500.2 L346.0,500.3 L346.5,500.6 L347.0,500.4 L347.5,500.4 L348.0,500.7 L348.5,500.7 L349.0,500.7 L349.5,500.7 L350.0,500.7 L350.5,501.0 L351.0,500.8 L351.5,500.9 L352.0,501.1 L352.5,501.1 L353.0,501.2 L353.5,501.2 L354.0,501.2 L354.5,501.1 L355.0,501.0 L355.5,501.1 L356.0,501.2 L356.5,501.2 L357.0,501.0 L357.5,501.1 L358.0,501.4 L358.5,501.3 L359.0,501.2 L359.5,501.3 L360.0,501.2 L360.5,501.0 L361.0,500.9 L361.5,501.1 L362.0,501.4 L362.5,501.5 L363.0,501.6 L363.5,501.7 L364.0,501.8 L364.5,501.6 L365.0,501.5 L365.5,501.8 L366.0,501.9 L366.5,501.9 L367.0,501.8 L367.5,501.7 L368.0,501.4 L368.5,501.4 L369.0,501.3 L369.5,501.4 L370.0,501.5 L370.5,501.6 L371.0,501.8 L371.5,501.4 L372.0,501.3 L372.5,501.2 L373.0,501.2 L373.5,501.5 L374.0,501.5 L374.5,501.6 L375.0,501.5 L375.5,501.4 L376.0,501.6 L376.5,501.5 L377.0,501.6 L377.5,501.6 L378.0,501.7 L378.5,501.4 L379.0,501.4 L379.5,501.7 L380.0,501.6 L380.5,501.5 L381.0,501.7 L381.5,501.7 L382.0,501.8 L382.5,501.7 L383.0,501.7 L383.5,501.6 L384.0,501.5 L384.5,501.4 L385.0,501.3 L385.5,501.5 L386.0,501.3 L386.5,501.2 L387.0,501.3 L387.5,501.6 L388.0,501.7 L388.5,501.8 L389.0,501.8 L389.5,501.6 L390.0,501.6 L390.5,501.4 L391.0,501.4 L391.5,501.2 L392.0,501.1 L392.5,501.0 L393.0,501.1 L393.5,501.2 L394.0,501.2 L394.5,501.0 L395.0,501.0 L395.5,501.4 L396.0,501.7 L396.5,501.8 L397.0,501.6 L397.5,501.4 L398.0,501.7 L398.5,501.4 L399.0,501.3 L399.5,501.4 L400.0,501.7 L400.5,501.9 L401.0,502.0 L401.5,501.8 L402.0,501.8 L402.5,502.0 L403.0,502.1 L403.5,502.2 L404.0,502.2 L404.5,502.2 L405.0,502.1 L405.5,501.9 L406.0,501.9 L406.5,502.0 L407.0,501.9 L407.5,501.6 L408.0,501.6 L408.5,501.8 L409.0,501.8 L409.5,501.8 L410.0,501.9 L410.5,502.0 L411.0,501.7 L411.5,501.8 L412.0,501.9 L412.5,501.6 L413.0,501.8 L413.5,501.7 L414.0,501.8 L414.5,501.5 L415.0,501.5 L415.5,501.4 L416.0,501.3 L416.5,501.4 L417.0,501.6 L417.5,501.7 L418.0,501.9 L418.5,501.6 L419.0,501.5 L419.5,501.4 L420.0,501.6 L420.5,501.7 L421.0,501.9 L421.5,502.0 L422.0,501.9 L422.5,501.9 L423.0,502.0 L423.5,501.9 L424.0,501.9 L424.5,502.0 L425.0,502.0 L425.5,501.7 L426.0,501.5 L426.5,501.6 L427.0,501.7 L427.5,501.5 L428.0,501.7 L428.5,501.8 L429.0,501.5 L429.5,501.4 L430.0,501.5 L430.5,501.5 L431.0,501.4 L431.5,501.6 L432.0,501.4 L432.5,501.6 L433.0,501.8 L433.5,501.5 L434.0,501.6 L434.5,501.6 L435.0,501.8 L435.5,501.6 L436.0,501.5 L436.5,501.4 L437.0,501.5 L437.5,501.4 L438.0,501.6 L438.5,501.3 L439.0,501.5 L439.5,501.2 L440.0,501.3 L440.5,501.5 L441.0,501.3 L441.5,501.3 L442.0,501.2 L442.5,501.0 L443.0,501.2 L443.5,501.1 L444.0,501.3 L444.5,501.0 L445.0,500.9 L445.5,500.8 L446.0,501.1 L446.5,500.9 L447.0,500.8 L447.5,500.8 L448.0,500.9 L448.5,501.2 L449.0,501.4 L449.5,501.3 L450.0,501.4 L450.5,501.4 L451.0,501.5 L451.5,501.6 L452.0,501.3 L452.5,501.3 L453.0,501.3 L453.5,501.3 L454.0,501.4 L454.5,501.5 L455.0,501.4 L455.5,501.4 L456.0,501.6 L456.5,501.7 L457.0,501.4 L457.5,501.3 L458.0,501.2 L458.5,501.5 L459.0,501.4 L459.5,501.6 L460.0,501.8 L460.5,501.8 L461.0,501.6 L461.5,501.7 L462.0,501.6 L462.5,501.8 L463.0,501.7 L463.5,501.7 L464.0,501.7 L464.5,501.7 L465.0,501.5 L465.5,501.5 L466.0,501.4 L466.5,501.5 L467.0,501.6 L467.5,501.4 L468.0,501.4 L468.5,501.2 L469.0,501.5 L469.5,501.5 L470.0,501.4 L470.5,501.6 L471.0,501.7 L471.5,501.8 L472.0,501.7 L472.5,501.4 L473.0,501.3 L473.5,501.1 L474.0,501.1 L474.5,501.2 L475.0,501.2 L475.5,501.5 L476.0,501.4 L476.5,501.2 L477.0,501.1 L477.5,501.2 L478.0,501.2 L478.5,501.2 L479.0,501.2 L479.5,501.2 L480.0,501.3 L480.5,501.3 L481.0,501.1 L481.5,501.1 L482.0,501.0 L482.5,501.1 L483.0,501.1 L483.5,501.2 L484.0,501.4 L484.5,501.5 L485.0,501.5 L485.5,501.4 L486.0,501.1 L486.5,501.2 L487.0,501.0 L487.5,501.0 L488.0,501.0 L488.5,500.9 L489.0,501.1 L489.5,501.1 L490.0,501.3 L490.5,500.9 L491.0,500.9 L491.5,500.8 L492.0,500.9 L492.5,500.9 L493.0,500.9 L493.5,501.1 L494.0,501.0 L494.5,500.8 L495.0,500.9 L495.5,500.9 L496.0,500.7 L496.5,500.8 L497.0,500.6 L497.5,500.3 L498.0,500.4 L498.5,500.6 L499.0,500.7 L499.5,500.7 L500.0,500.6 L500.5,500.5 L501.0,500.2 L501.5,500.0 L502.0,499.9 L502.5,500.0 L503.0,500.0 L503.5,500.1 L504.0,500.1 L504.5,499.9 L505.0,499.7 L505.5,499.5 L506.0,499.5 L506.5,499.5 L507.0,499.1 L507.5,499.1 L508.0,498.9 L508.5,498.5 L509.0,498.4 L509.5,498.1 L510.0,497.8 L510.5,497.5 L511.0,497.2 L511.5,497.0 L512.0,496.7 L512.5,496.2 L513.0,495.5 L513.5,495.1 L514.0,494.5 L514.5,493.5 L515.0,492.8 L515.5,491.8 L516.0,491.0 L516.5,489.8 L517.0,488.5 L517.5,487.1 L518.0,485.6 L518.5,484.0 L519.0,482.3 L519.5,479.9 L520.0,476.7 L520.5,472.1 L521.0,465.0 L521.5,456.9 L522.0,455.8 L522.5,463.1 L523.0,470.7 L523.5,476.0 L524.0,479.6 L524.5,481.8 L525.0,484.1 L525.5,485.6 L526.0,486.9 L526.5,488.4 L527.0,489.5 L527.5,490.4 L528.0,491.5 L528.5,492.4 L529.0,493.2 L529.5,493.9 L530.0,494.6 L530.5,495.2 L531.0,495.8 L531.5,496.2 L532.0,496.7 L532.5,497.0 L533.0,497.3 L533.5,497.3 L534.0,497.3 L534.5,497.5 L535.0,497.8 L535.5,497.8 L536.0,498.2 L536.5,498.2 L537.0,498.3 L537.5,498.3 L538.0,498.6 L538.5,498.3 L539.0,498.2 L539.5,498.2 L540.0,498.0 L540.5,497.8 L541.0,497.6 L541.5,497.9 L542.0,498.0 L542.5,498.3 L543.0,498.4 L543.5,498.9 L544.0,498.9 L544.5,499.2 L545.0,499.2 L545.5,499.4 L546.0,499.5 L546.5,499.9 L547.0,499.9 L547.5,500.2 L548.0,499.9 L548.5,499.9 L549.0,500.2 L549.5,500.2 L550.0,500.0 L550.5,500.0 L551.0,500.0 L551.5,500.1 L552.0,500.1 L552.5,500.0 L553.0,500.1 L553.5,500.1 L554.0,500.0 L554.5,500.1 L555.0,500.1 L555.5,500.2 L556.0,500.3 L556.5,500.2 L557.0,499.9 L557.5,500.1 L558.0,499.8 L558.5,499.6 L559.0,499.5 L559.5,499.4 L560.0,499.1 L560.5,499.1 L561.0,498.8 L561.5,498.6 L562.0,498.3 L562.5,497.8 L563.0,497.3 L563.5,496.5 L564.0,495.8 L564.5,495.0 L565.0,494.2 L565.5,493.7 L566.0,493.8 L566.5,494.7 L567.0,495.8 L567.5,496.6 L568.0,497.5 L568.5,498.0 L569.0,498.6 L569.5,498.7 L570.0,498.9 L570.5,499.3 L571.0,499.7 L571.5,499.8 L572.0,500.1 L572.5,500.3 L573.0,500.3 L573.5,500.5 L574.0,500.5 L574.5,500.3 L575.0,500.6 L575.5,500.8 L576.0,501.0 L576.5,500.8 L577.0,500.9 L577.5,500.7 L578.0,500.7 L578.5,500.6 L579.0,500.7 L579.5,500.7 L580.0,500.7 L580.5,500.7 L581.0,500.9 L581.5,501.0 L582.0,500.8 L582.5,500.7 L583.0,500.6 L583.5,500.5 L584.0,500.5 L584.5,500.6 L585.0,500.8 L585.5,501.0 L586.0,500.8 L586.5,500.6 L587.0,500.6 L587.5,500.3 L588.0,500.4 L588.5,500.1 L589.0,500.2 L589.5,500.2 L590.0,500.1 L590.5,500.2 L591.0,500.0 L591.5,499.6 L592.0,499.3 L592.5,499.1 L593.0,499.2 L593.5,499.2 L594.0,499.0 L594.5,499.2 L595.0,498.9 L595.5,498.8 L596.0,499.0 L596.5,499.1 L597.0,499.4 L597.5,499.4 L598.0,499.8 L598.5,499.9 L599.0,500.0 L599.5,500.1 L600.0,500.0 L600.5,500.1 L601.0,500.3 L601.5,500.1 L602.0,500.0 L602.5,500.0 L603.0,500.0 L603.5,500.3 L604.0,500.5 L604.5,500.4 L605.0,500.6 L605.5,500.9 L606.0,500.7 L606.5,500.5 L607.0,500.7 L607.5,501.0 L608.0,501.0 L608.5,501.1 L609.0,501.0 L609.5,501.1 L610.0,501.3 L610.5,501.4 L611.0,501.4 L611.5,501.4 L612.0,501.5 L612.5,501.6 L613.0,501.5 L613.5,501.4 L614.0,501.3 L614.5,501.5 L615.0,501.5 L615.5,501.3 L616.0,501.3 L616.5,501.3 L617.0,501.3 L617.5,501.2 L618.0,501.5 L618.5,501.4 L619.0,501.6 L619.5,501.4 L620.0,501.6 L620.5,501.6 L621.0,501.5 L621.5,501.5 L622.0,501.7 L622.5,501.6 L623.0,501.6 L623.5,501.5 L624.0,501.4 L624.5,501.3 L625.0,501.3 L625.5,501.2 L626.0,501.0 L626.5,501.1 L627.0,500.9 L627.5,501.1 L628.0,501.0 L628.5,501.3 L629.0,501.2 L629.5,501.1 L630.0,501.2 L630.5,501.2 L631.0,501.3 L631.5,501.2 L632.0,501.5 L632.5,501.2 L633.0,501.0 L633.5,501.3 L634.0,501.4 L634.5,501.3 L635.0,501.4 L635.5,501.3 L636.0,501.3 L636.5,501.2 L637.0,501.2 L637.5,501.3 L638.0,501.5 L638.5,501.3 L639.0,501.3 L639.5,501.3 L640.0,501.5 L640.5,501.4 L641.0,501.5 L641.5,501.7 L642.0,501.5 L642.5,501.3 L643.0,501.5 L643.5,501.4 L644.0,501.4 L644.5,501.4 L645.0,501.4 L645.5,501.3 L646.0,501.3 L646.5,501.0 L647.0,500.9 L647.5,500.6 L648.0,500.8 L648.5,500.9 L649.0,500.9 L649.5,501.1 L650.0,501.0 L650.5,500.7 L651.0,500.5 L651.5,500.6 L652.0,500.3 L652.5,500.4 L653.0,500.3 L653.5,500.0 L654.0,499.7 L654.5,499.7 L655.0,499.6 L655.5,499.1 L656.0,498.9 L656.5,498.5 L657.0,498.5 L657.5,498.2 L658.0,497.5 L658.5,497.1 L659.0,496.4 L659.5,496.1 L660.0,495.7 L660.5,495.1 L661.0,494.2 L661.5,494.1 L662.0,493.9 L662.5,494.3 L663.0,495.0 L663.5,495.6 L664.0,496.0 L664.5,496.5 L665.0,497.2 L665.5,497.5 L666.0,497.9 L666.5,498.5 L667.0,498.7 L667.5,498.8 L668.0,499.2 L668.5,499.3 L669.0,499.7 L669.5,499.8 L670.0,500.1 L670.5,500.4 L671.0,500.2 L671.5,500.4 L672.0,500.4 L672.5,500.3 L673.0,500.6 L673.5,500.6 L674.0,500.7 L674.5,500.6 L675.0,500.9 L675.5,501.2" fill="none" stroke="#000" stroke-width="4" stroke-linejoin="round"/><path d="M102.0,597.8 L102.5,597.6 L103.0,597.7 L103.5,597.7 L104.0,597.7 L104.5,597.5 L105.0,597.4 L105.5,597.7 L106.0,597.7 L106.5,597.8 L107.0,597.9 L107.5,597.8 L108.0,597.8 L108.5,597.7 L109.0,597.8 L109.5,597.7 L110.0,597.8 L110.5,597.7 L111.0,597.6 L111.5,597.4 L112.0,597.3 L112.5,597.2 L113.0,597.1 L113.5,597.2 L114.0,597.3 L114.5,597.6 L115.0,597.4 L115.5,597.7 L116.0,597.5 L116.5,597.7 L117.0,597.6 L117.5,597.5 L118.0,597.6 L118.5,597.5 L119.0,597.3 L119.5,597.2 L120.0,597.4 L120.5,597.6 L121.0,597.8 L121.5,597.7 L122.0,597.8 L122.5,597.7 L123.0,597.7 L123.5,597.5 L124.0,597.5 L124.5,597.7 L125.0,597.6 L125.5,597.6 L126.0,597.8 L126.5,597.7 L127.0,597.8 L127.5,597.8 L128.0,597.7 L128.5,597.7 L129.0,597.8 L129.5,597.7 L130.0,597.9 L130.5,597.6 L131.0,597.8 L131.5,597.8 L132.0,597.8 L132.5,597.7 L133.0,597.8 L133.5,597.5 L134.0,597.6 L134.5,597.7 L135.0,597.6 L135.5,597.7 L136.0,597.7 L136.5,597.6 L137.0,597.7 L137.5,597.6 L138.0,597.3 L138.5,597.3 L139.0,597.5 L139.5,597.2 L140.0,597.2 L140.5,597.4 L141.0,597.0 L141.5,597.2 L142.0,597.1 L142.5,597.0 L143.0,597.0 L143.5,597.0 L144.0,596.8 L144.5,596.5 L145.0,596.5 L145.5,596.6 L146.0,596.6 L146.5,596.5 L147.0,596.3 L147.5,596.0 L148.0,595.8 L148.5,595.0 L149.0,594.1 L149.5,593.5 L150.0,592.0 L150.5,590.6 L151.0,589.9 L151.5,590.8 L152.0,592.2 L152.5,593.2 L153.0,593.9 L153.5,594.5 L154.0,595.1 L154.5,595.4 L155.0,595.8 L155.5,595.8 L156.0,595.9 L156.5,596.3 L157.0,596.3 L157.5,596.3 L158.0,596.3 L158.5,596.6 L159.0,596.9 L159.5,596.8 L160.0,596.7 L160.5,596.7 L161.0,596.9 L161.5,597.1 L162.0,597.2 L162.5,597.3 L163.0,597.3 L163.5,596.9 L164.0,597.1 L164.5,596.8 L165.0,596.9 L165.5,596.7 L166.0,596.4 L166.5,596.5 L167.0,596.3 L167.5,596.5 L168.0,596.3 L168.5,596.3 L169.0,596.2 L169.5,595.8 L170.0,595.7 L170.5,595.5 L171.0,595.6 L171.5,595.6 L172.0,595.6 L172.5,595.1 L173.0,594.7 L173.5,594.3 L174.0,593.9 L174.5,593.4 L175.0,593.0 L175.5,592.2 L176.0,591.5 L176.5,590.4 L177.0,589.2 L177.5,587.7 L178.0,585.9 L178.5,583.7 L179.0,580.5 L179.5,575.7 L180.0,569.1 L180.5,558.1 L181.0,543.7 L181.5,538.0 L182.0,549.7 L182.5,563.1 L183.0,572.1 L183.5,578.0 L184.0,581.9 L184.5,585.0 L185.0,587.3 L185.5,589.1 L186.0,590.4 L186.5,591.6 L187.0,592.3 L187.5,593.2 L188.0,593.6 L188.5,594.3 L189.0,594.5 L189.5,594.8 L190.0,595.0 L190.5,595.3 L191.0,595.6 L191.5,595.9 L192.0,595.8 L192.5,596.0 L193.0,596.1 L193.5,596.1 L194.0,596.0 L194.5,596.3 L195.0,596.6 L195.5,596.7 L196.0,596.7 L196.5,596.5 L197.0,596.4 L197.5,596.4 L198.0,596.3 L198.5,596.3 L199.0,596.4 L199.5,596.4 L200.0,596.3 L200.5,596.2 L201.0,596.6 L201.5,596.6 L202.0,596.5 L202.5,596.6 L203.0,596.5 L203.5,596.6 L204.0,596.4 L204.5,596.6 L205.0,596.9 L205.5,596.9 L206.0,597.0 L206.5,597.1 L207.0,597.0 L207.5,596.9 L208.0,596.9 L208.5,596.7 L209.0,596.4 L209.5,596.4 L210.0,596.5 L210.5,596.5 L211.0,596.2 L211.5,596.3 L212.0,596.0 L212.5,596.0 L213.0,595.8 L213.5,595.6 L214.0,595.5 L214.5,595.5 L215.0,595.5 L215.5,595.6 L216.0,595.4 L216.5,595.0 L217.0,594.6 L217.5,594.2 L218.0,593.9 L218.5,593.6 L219.0,593.3 L219.5,592.9 L220.0,592.7 L220.5,592.2 L221.0,591.7 L221.5,591.2 L222.0,590.3 L222.5,589.5 L223.0,588.2 L223.5,587.0 L224.0,585.7 L224.5,583.8 L225.0,581.3 L225.5,578.3 L226.0,574.4 L226.5,570.6 L227.0,569.0 L227.5,570.8 L228.0,574.7 L228.5,578.7 L229.0,581.9 L229.5,584.4 L230.0,586.2 L230.5,587.8 L231.0,588.8 L231.5,589.6 L232.0,590.7 L232.5,591.4 L233.0,591.8 L233.5,592.5 L234.0,592.8 L234.5,593.2 L235.0,593.8 L235.5,594.0 L236.0,594.5 L236.5,594.6 L237.0,595.0 L237.5,595.1 L238.0,595.3 L238.5,595.6 L239.0,595.8 L239.5,595.7 L240.0,595.9 L240.5,595.9 L241.0,595.8 L241.5,596.1 L242.0,596.0 L242.5,596.1 L243.0,596.0 L243.5,596.2 L244.0,596.1 L244.5,596.2 L245.0,596.6 L245.5,596.6 L246.0,596.6 L246.5,596.4 L247.0,596.4 L247.5,596.3 L248.0,596.5 L248.5,596.4 L249.0,596.3 L249.5,596.3 L250.0,596.5 L250.5,596.7 L251.0,596.6 L251.5,596.6 L252.0,596.5 L252.5,596.6 L253.0,596.7 L253.5,596.6 L254.0,596.4 L254.5,596.6 L255.0,596.5 L255.5,596.7 L256.0,596.5 L256.5,596.4 L257.0,596.2 L257.5,596.5 L258.0,596.6 L258.5,596.3 L259.0,596.3 L259.5,596.4 L260.0,596.3 L260.5,596.5 L261.0,596.2 L261.5,596.2 L262.0,596.2 L262.5,596.0 L263.0,596.2 L263.5,596.1 L264.0,595.8 L264.5,595.9 L265.0,595.5 L265.5,595.5 L266.0,595.5 L266.5,595.3 L267.0,594.8 L267.5,594.4 L268.0,594.3 L268.5,594.1 L269.0,593.5 L269.5,593.2 L270.0,592.7 L270.5,591.7 L271.0,591.0 L271.5,589.5 L272.0,588.0 L272.5,586.1 L273.0,583.7 L273.5,580.8 L274.0,576.4 L274.5,570.9 L275.0,561.7 L275.5,548.1 L276.0,533.7 L276.5,536.1 L277.0,551.5 L277.5,564.2 L278.0,572.5 L278.5,578.0 L279.0,581.8 L279.5,584.5 L280.0,586.9 L280.5,588.6 L281.0,590.0 L281.5,591.3 L282.0,592.1 L282.5,592.9 L283.0,593.2 L283.5,593.6 L284.0,594.1 L284.5,594.4 L285.0,595.0 L285.5,595.4 L286.0,595.6 L286.5,595.9 L287.0,595.8 L287.5,596.1 L288.0,596.3 L288.5,596.3 L289.0,596.4 L289.5,596.5 L290.0,596.4 L290.5,596.2 L291.0,596.2 L291.5,596.3 L292.0,596.5 L292.5,596.7 L293.0,596.6 L293.5,596.5 L294.0,596.6 L294.5,596.5 L295.0,596.4 L295.5,596.6 L296.0,596.7 L296.5,596.6 L297.0,596.5 L297.5,596.6 L298.0,596.7 L298.5,596.5 L299.0,596.7 L299.5,596.8 L300.0,597.0 L300.5,597.2 L301.0,597.1 L301.5,596.8 L302.0,596.7 L302.5,596.6 L303.0,596.4 L303.5,596.2 L304.0,596.3 L304.5,596.3 L305.0,596.1 L305.5,595.9 L306.0,596.1 L306.5,596.0 L307.0,596.0 L307.5,595.8 L308.0,596.0 L308.5,596.2 L309.0,596.2 L309.5,596.1 L310.0,596.2 L310.5,596.1 L311.0,596.1 L311.5,596.5 L312.0,596.4 L312.5,596.4 L313.0,596.4 L313.5,596.8 L314.0,596.7 L314.5,596.7 L315.0,596.8 L315.5,596.7 L316.0,596.8 L316.5,596.7 L317.0,596.7 L317.5,596.7 L318.0,597.0 L318.5,597.0 L319.0,596.9 L319.5,596.9 L320.0,596.8 L320.5,596.7 L321.0,596.7 L321.5,596.9 L322.0,596.8 L322.5,596.7 L323.0,596.5 L323.5,596.7 L324.0,596.7 L324.5,596.6 L325.0,596.8 L325.5,597.0 L326.0,596.9 L326.5,596.5 L327.0,596.7 L327.5,596.7 L328.0,596.3 L328.5,596.1 L329.0,596.1 L329.5,595.9 L330.0,595.6 L330.5,595.6 L331.0,595.1 L331.5,594.7 L332.0,594.4 L332.5,594.1 L333.0,593.6 L333.5,592.5 L334.0,591.3 L334.5,590.0 L335.0,588.5 L335.5,586.5 L336.0,583.0 L336.5,579.0 L337.0,576.8 L337.5,578.8 L338.0,583.2 L338.5,586.3 L339.0,588.6 L339.5,590.4 L340.0,591.7 L340.5,592.7 L341.0,593.2 L341.5,593.9 L342.0,594.3 L342.5,594.9 L343.0,595.4 L343.5,595.7 L344.0,596.0 L344.5,596.4 L345.0,596.6 L345.5,596.8 L346.0,596.7 L346.5,596.5 L347.0,596.9 L347.5,596.7 L348.0,596.6 L348.5,596.7 L349.0,597.1 L349.5,597.1 L350.0,597.0 L350.5,596.8 L351.0,596.7 L351.5,596.8 L352.0,596.9 L352.5,596.9 L353.0,597.2 L353.5,597.5 L354.0,597.7 L354.5,597.5 L355.0,597.5 L355.5,597.3 L356.0,597.4 L356.5,597.4 L357.0,597.3 L357.5,597.5 L358.0,597.3 L358.5,597.5 L359.0,597.7 L359.5,597.7 L360.0,597.4 L360.5,597.3 L361.0,597.5 L361.5,597.7 L362.0,597.6 L362.5,597.6 L363.0,597.7 L363.5,597.9 L364.0,597.6 L364.5,597.5 L365.0,597.3 L365.5,597.4 L366.0,597.4 L366.5,597.6 L367.0,597.4 L367.5,597.5 L368.0,597.4 L368.5,597.4 L369.0,597.5 L369.5,597.8 L370.0,597.6 L370.5,597.7 L371.0,597.5 L371.5,597.4 L372.0,597.5 L372.5,597.3 L373.0,597.6 L373.5,597.8 L374.0,597.6 L374.5,597.7 L375.0,597.8 L375.5,598.0 L376.0,597.9 L376.5,597.8 L377.0,597.9 L377.5,597.7 L378.0,597.9 L378.5,597.8 L379.0,597.7 L379.5,597.9 L380.0,597.9 L380.5,597.7 L381.0,597.8 L381.5,598.0 L382.0,597.9 L382.5,597.8 L383.0,597.9 L383.5,597.9 L384.0,597.8 L384.5,597.7 L385.0,597.5 L385.5,597.6 L386.0,597.6 L386.5,597.7 L387.0,597.5 L387.5,597.7 L388.0,597.5 L388.5,597.7 L389.0,597.9 L389.5,597.7 L390.0,597.5 L390.5,597.4 L391.0,597.3 L391.5,597.7 L392.0,597.8 L392.5,597.5 L393.0,597.3 L393.5,597.4 L394.0,597.5 L394.5,597.6 L395.0,597.8 L395.5,597.9 L396.0,597.7 L396.5,597.9 L397.0,597.8 L397.5,597.8 L398.0,597.6 L398.5,597.5 L399.0,597.4 L399.5,597.3 L400.0,597.4 L400.5,597.4 L401.0,597.3 L401.5,597.2 L402.0,597.1 L402.5,597.5 L403.0,597.5 L403.5,597.5 L404.0,597.4 L404.5,597.7 L405.0,597.4 L405.5,597.6 L406.0,597.4 L406.5,597.4 L407.0,597.4 L407.5,597.5 L408.0,597.6 L408.5,597.7 L409.0,597.8 L409.5,597.5 L410.0,597.5 L410.5,597.4 L411.0,597.5 L411.5,597.5 L412.0,597.3 L412.5,597.2 L413.0,597.1 L413.5,597.0 L414.0,597.3 L414.5,597.6 L415.0,597.7 L415.5,597.5 L416.0,597.6 L416.5,597.6 L417.0,597.5 L417.5,597.7 L418.0,597.6 L418.5,597.5 L419.0,597.3 L419.5,597.3 L420.0,597.6 L420.5,597.6 L421.0,597.7 L421.5,597.7 L422.0,597.6 L422.5,597.5 L423.0,597.6 L423.5,597.5 L424.0,597.5 L424.5,597.3 L425.0,597.3 L425.5,597.2 L426.0,597.3 L426.5,597.4 L427.0,597.7 L427.5,597.8 L428.0,598.0 L428.5,597.9 L429.0,597.7 L429.5,597.9 L430.0,597.6 L430.5,597.5 L431.0,597.3 L431.5,597.6 L432.0,597.7 L432.5,597.9 L433.0,597.6 L433.5,597.8 L434.0,597.8 L434.5,597.8 L435.0,597.7 L435.5,597.8 L436.0,597.7 L436.5,597.9 L437.0,598.0 L437.5,597.8 L438.0,597.7 L438.5,597.6 L439.0,597.8 L439.5,597.8 L440.0,597.7 L440.5,597.5 L441.0,597.3 L441.5,597.4 L442.0,597.4 L442.5,597.4 L443.0,597.4 L443.5,597.4 L444.0,597.1 L444.5,597.1 L445.0,597.2 L445.5,597.4 L446.0,597.5 L446.5,597.4 L447.0,597.6 L447.5,597.8 L448.0,597.8 L448.5,597.8 L449.0,597.6 L449.5,597.4 L450.0,597.3 L450.5,597.4 L451.0,597.6 L451.5,597.5 L452.0,597.7 L452.5,597.8 L453.0,597.5 L453.5,597.3 L454.0,597.6 L454.5,597.6 L455.0,597.7 L455.5,597.9 L456.0,597.7 L456.5,597.4 L457.0,597.6 L457.5,597.8 L458.0,597.7 L458.5,597.7 L459.0,597.4 L459.5,597.7 L460.0,597.7 L460.5,597.9 L461.0,597.9 L461.5,597.7 L462.0,597.5 L462.5,597.5 L463.0,597.7 L463.5,597.7 L464.0,597.7 L464.5,597.5 L465.0,597.3 L465.5,597.2 L466.0,597.2 L466.5,597.3 L467.0,597.5 L467.5,597.4 L468.0,597.3 L468.5,597.5 L469.0,597.7 L469.5,597.5 L470.0,597.4 L470.5,597.4 L471.0,597.2 L471.5,597.0 L472.0,597.2 L472.5,597.1 L473.0,597.1 L473.5,597.3 L474.0,597.3 L474.5,597.4 L475.0,597.5 L475.5,597.6 L476.0,597.7 L476.5,597.9 L477.0,597.6 L477.5,597.6 L478.0,597.3 L478.5,597.2 L479.0,597.1 L479.5,597.0 L480.0,596.9 L480.5,596.9 L481.0,597.1 L481.5,597.3 L482.0,597.3 L482.5,597.3 L483.0,597.4 L483.5,597.4 L484.0,597.2 L484.5,597.2 L485.0,597.0 L485.5,597.1 L486.0,597.3 L486.5,597.1 L487.0,597.1 L487.5,597.1 L488.0,597.2 L488.5,597.1 L489.0,597.0 L489.5,597.0 L490.0,597.2 L490.5,597.0 L491.0,597.2 L491.5,597.1 L492.0,597.3 L492.5,597.1 L493.0,597.2 L493.5,596.8 L494.0,596.7 L494.5,596.8 L495.0,596.7 L495.5,596.7 L496.0,596.9 L496.5,596.9 L497.0,596.9 L497.5,596.8 L498.0,596.6 L498.5,596.8 L499.0,596.6 L499.5,596.3 L500.0,596.3 L500.5,596.2 L501.0,596.0 L501.5,596.0 L502.0,595.8 L502.5,596.0 L503.0,595.9 L503.5,595.7 L504.0,595.7 L504.5,595.7 L505.0,595.5 L505.5,595.6 L506.0,595.4 L506.5,595.4 L507.0,595.4 L507.5,595.2 L508.0,594.8 L508.5,594.6 L509.0,594.6 L509.5,594.4 L510.0,593.9 L510.5,593.4 L511.0,592.9 L511.5,592.7 L512.0,592.5 L512.5,592.1 L513.0,591.7 L513.5,591.1 L514.0,590.6 L514.5,589.9 L515.0,589.2 L515.5,588.1 L516.0,587.2 L516.5,586.2 L517.0,584.8 L517.5,583.5 L518.0,582.2 L518.5,580.3 L519.0,578.5 L519.5,576.1 L520.0,573.1 L520.5,568.6 L521.0,561.5 L521.5,553.5 L522.0,552.3 L522.5,559.6 L523.0,567.1 L523.5,572.0 L524.0,575.6 L524.5,578.1 L525.0,580.1 L525.5,581.8 L526.0,583.4 L526.5,584.9 L527.0,586.1 L527.5,587.2 L528.0,587.9 L528.5,588.5 L529.0,589.1 L529.5,589.6 L530.0,590.4 L530.5,590.8 L531.0,591.3 L531.5,592.0 L532.0,592.4 L532.5,592.9 L533.0,593.1 L533.5,593.4 L534.0,593.5 L534.5,593.6 L535.0,593.8 L535.5,593.9 L536.0,593.9 L536.5,594.0 L537.0,594.3 L537.5,594.6 L538.0,594.5 L538.5,594.4 L539.0,594.6 L539.5,594.6 L540.0,594.6 L540.5,594.7 L541.0,594.6 L541.5,594.4 L542.0,594.7 L542.5,595.0 L543.0,594.9 L543.5,595.3 L544.0,595.5 L544.5,595.5 L545.0,595.6 L545.5,595.7 L546.0,595.9 L546.5,596.0 L547.0,595.8 L547.5,596.2 L548.0,596.1 L548.5,596.0 L549.0,596.2 L549.5,596.1 L550.0,596.2 L550.5,596.3 L551.0,596.1 L551.5,596.4 L552.0,596.5 L552.5,596.3 L553.0,596.5 L553.5,596.6 L554.0,596.7 L554.5,596.7 L555.0,596.5 L555.5,596.3 L556.0,596.1 L556.5,596.3 L557.0,596.4 L557.5,596.3 L558.0,596.3 L558.5,596.4 L559.0,596.1 L559.5,595.9 L560.0,595.6 L560.5,595.6 L561.0,595.1 L561.5,594.7 L562.0,594.6 L562.5,593.9 L563.0,593.4 L563.5,592.8 L564.0,592.0 L564.5,591.0 L565.0,589.9 L565.5,589.5 L566.0,589.6 L566.5,590.5 L567.0,591.5 L567.5,592.5 L568.0,593.1 L568.5,593.8 L569.0,594.0 L569.5,594.5 L570.0,594.8 L570.5,595.4 L571.0,595.4 L571.5,595.6 L572.0,596.0 L572.5,595.9 L573.0,596.1 L573.5,596.2 L574.0,596.2 L574.5,596.2 L575.0,596.3 L575.5,596.2 L576.0,596.1 L576.5,596.2 L577.0,596.3 L577.5,596.4 L578.0,596.6 L578.5,596.7 L579.0,596.8 L579.5,596.9 L580.0,597.0 L580.5,597.2 L581.0,597.2 L581.5,597.2 L582.0,597.2 L582.5,596.9 L583.0,597.1 L583.5,597.1 L584.0,596.8 L584.5,597.0 L585.0,596.9 L585.5,597.1 L586.0,597.0 L586.5,596.9 L587.0,597.1 L587.5,597.2 L588.0,597.2 L588.5,597.0 L589.0,596.8 L589.5,596.8 L590.0,596.8 L590.5,596.6 L591.0,596.6 L591.5,596.4 L592.0,596.2 L592.5,595.9 L593.0,595.7 L593.5,595.4 L594.0,595.6 L594.5,595.3 L595.0,595.1 L595.5,595.1 L596.0,595.4 L596.5,595.6 L597.0,595.6 L597.5,595.5 L598.0,595.8 L598.5,596.0 L599.0,596.1 L599.5,596.3 L600.0,596.3 L600.5,596.1 L601.0,596.3 L601.5,596.5 L602.0,596.3 L602.5,596.3 L603.0,596.6 L603.5,596.8 L604.0,597.0 L604.5,597.1 L605.0,596.9 L605.5,597.1 L606.0,597.3 L606.5,597.1 L607.0,597.3 L607.5,597.4 L608.0,597.6 L608.5,597.7 L609.0,597.4 L609.5,597.2 L610.0,597.4 L610.5,597.2 L611.0,597.2 L611.5,597.3 L612.0,597.5 L612.5,597.4 L613.0,597.4 L613.5,597.5 L614.0,597.7 L614.5,597.7 L615.0,597.6 L615.5,597.4 L616.0,597.2 L616.5,597.4 L617.0,597.5 L617.5,597.3 L618.0,597.5 L618.5,597.5 L619.0,597.6 L619.5,597.5 L620.0,597.5 L620.5,597.2 L621.0,597.3 L621.5,597.4 L622.0,597.6 L622.5,597.8 L623.0,597.8 L623.5,597.6 L624.0,597.7 L624.5,597.6 L625.0,597.8 L625.5,598.0 L626.0,597.6 L626.5,597.4 L627.0,597.2 L627.5,597.3 L628.0,597.4 L628.5,597.5 L629.0,597.4 L629.5,597.4 L630.0,597.2 L630.5,597.1 L631.0,597.3 L631.5,597.2 L632.0,597.1 L632.5,597.2 L633.0,597.5 L633.5,597.7 L634.0,597.8 L634.5,597.8 L635.0,597.5 L635.5,597.3 L636.0,597.3 L636.5,597.4 L637.0,597.5 L637.5,597.2 L638.0,597.3 L638.5,597.1 L639.0,597.3 L639.5,597.1 L640.0,597.1 L640.5,597.3 L641.0,597.5 L641.5,597.6 L642.0,597.6 L642.5,597.4 L643.0,597.4 L643.5,597.4 L644.0,597.3 L644.5,597.3 L645.0,597.2 L645.5,597.1 L646.0,597.2 L646.5,597.2 L647.0,597.3 L647.5,597.4 L648.0,597.4 L648.5,597.0 L649.0,596.9 L649.5,596.8 L650.0,596.8 L650.5,596.9 L651.0,596.6 L651.5,596.2 L652.0,596.3 L652.5,596.4 L653.0,596.1 L653.5,596.0 L654.0,595.7 L654.5,595.5 L655.0,595.3 L655.5,595.2 L656.0,595.1 L656.5,594.6 L657.0,594.2 L657.5,593.8 L658.0,593.6 L658.5,593.0 L659.0,592.6 L659.5,592.1 L660.0,591.0 L660.5,590.3 L661.0,589.4 L661.5,589.0 L662.0,589.0 L662.5,589.1 L663.0,589.9 L663.5,590.7 L664.0,591.4 L664.5,592.1 L665.0,592.6 L665.5,593.0 L666.0,593.4 L666.5,594.1 L667.0,594.5 L667.5,594.8 L668.0,595.2 L668.5,595.6 L669.0,595.8 L669.5,595.9 L670.0,596.0 L670.5,596.0 L671.0,595.9 L671.5,596.3 L672.0,596.2 L672.5,596.3 L673.0,596.6 L673.5,596.5 L674.0,596.8 L674.5,596.6 L675.0,596.5 L675.5,596.6" fill="none" stroke="#000" stroke-width="4" stroke-linejoin="round"/><path d="M102.0,694.1 L102.5,694.2 L103.0,694.4 L103.5,694.4 L104.0,694.2 L104.5,694.4 L105.0,694.1 L105.5,694.0 L106.0,693.9 L106.5,693.7 L107.0,693.6 L107.5,694.0 L108.0,694.2 L108.5,694.1 L109.0,694.3 L109.5,694.4 L110.0,694.0 L110.5,694.1 L111.0,693.9 L111.5,693.8 L112.0,694.0 L112.5,693.8 L113.0,693.8 L113.5,693.6 L114.0,693.6 L114.5,693.6 L115.0,693.5 L115.5,693.4 L116.0,693.5 L116.5,693.4 L117.0,693.8 L117.5,693.7 L118.0,693.7 L118.5,693.5 L119.0,693.8 L119.5,693.7 L120.0,693.5 L120.5,693.6 L121.0,693.9 L121.5,694.1 L122.0,694.0 L122.5,694.1 L123.0,693.8 L123.5,694.0 L124.0,694.1 L124.5,694.0 L125.0,694.1 L125.5,693.9 L126.0,693.9 L126.5,693.8 L127.0,693.9 L127.5,693.7 L128.0,693.8 L128.5,693.7 L129.0,693.5 L129.5,693.4 L130.0,693.7 L130.5,693.7 L131.0,693.7 L131.5,693.8 L132.0,693.7 L132.5,693.6 L133.0,693.6 L133.5,693.8 L134.0,693.9 L134.5,693.9 L135.0,693.9 L135.5,693.7 L136.0,694.0 L136.5,694.0 L137.0,694.1 L137.5,693.9 L138.0,693.9 L138.5,693.9 L139.0,693.9 L139.5,694.0 L140.0,693.8 L140.5,693.8 L141.0,693.7 L141.5,693.6 L142.0,693.4 L142.5,693.4 L143.0,693.5 L143.5,693.2 L144.0,693.1 L144.5,693.1 L145.0,693.1 L145.5,693.1 L146.0,693.1 L146.5,693.0 L147.0,692.9 L147.5,692.4 L148.0,692.2 L148.5,691.7 L149.0,691.0 L149.5,690.5 L150.0,689.9 L150.5,688.9 L151.0,688.4 L151.5,689.0 L152.0,689.7 L152.5,690.6 L153.0,691.5 L153.5,692.0 L154.0,692.1 L154.5,692.6 L155.0,692.8 L155.5,693.1 L156.0,693.3 L156.5,693.3 L157.0,693.3 L157.5,693.3 L158.0,693.2 L158.5,693.4 L159.0,693.1 L159.5,693.4 L160.0,693.3 L160.5,693.2 L161.0,693.3 L161.5,693.1 L162.0,693.2 L162.5,693.0 L163.0,693.2 L163.5,692.9 L164.0,693.1 L164.5,693.3 L165.0,693.3 L165.5,693.3 L166.0,693.0 L166.5,693.0 L167.0,692.7 L167.5,692.8 L168.0,692.8 L168.5,692.6 L169.0,692.4 L169.5,692.1 L170.0,692.2 L170.5,692.1 L171.0,691.8 L171.5,691.7 L172.0,691.7 L172.5,691.2 L173.0,691.2 L173.5,690.7 L174.0,690.1 L174.5,689.5 L175.0,689.2 L175.5,688.4 L176.0,687.8 L176.5,686.8 L177.0,685.4 L177.5,684.1 L178.0,682.0 L178.5,679.3 L179.0,675.7 L179.5,670.9 L180.0,663.9 L180.5,652.9 L181.0,638.3 L181.5,632.2 L182.0,643.9 L182.5,658.0 L183.0,667.3 L183.5,673.4 L184.0,677.8 L184.5,680.8 L185.0,683.2 L185.5,684.8 L186.0,686.0 L186.5,687.2 L187.0,688.3 L187.5,689.2 L188.0,689.6 L188.5,690.2 L189.0,690.4 L189.5,690.7 L190.0,690.9 L190.5,691.5 L191.0,691.6 L191.5,691.8 L192.0,691.7 L192.5,692.1 L193.0,692.0 L193.5,692.3 L194.0,692.3 L194.5,692.3 L195.0,692.2 L195.5,692.3 L196.0,692.6 L196.5,692.6 L197.0,692.6 L197.5,692.8 L198.0,692.7 L198.5,692.9 L199.0,693.2 L199.5,693.3 L200.0,693.0 L200.5,693.1 L201.0,693.3 L201.5,693.3 L202.0,693.3 L202.5,693.0 L203.0,693.1 L203.5,693.1 L204.0,693.1 L204.5,693.2 L205.0,693.0 L205.5,692.9 L206.0,693.0 L206.5,693.1 L207.0,693.3 L207.5,693.4 L208.0,693.1 L208.5,693.0 L209.0,692.9 L209.5,692.8 L210.0,692.5 L210.5,692.4 L211.0,692.6 L211.5,692.5 L212.0,692.6 L212.5,692.7 L213.0,692.5 L213.5,692.6 L214.0,692.6 L214.5,692.1 L215.0,692.0 L215.5,692.0 L216.0,691.7 L216.5,691.4 L217.0,691.0 L217.5,691.0 L218.0,690.7 L218.5,690.4 L219.0,690.1 L219.5,689.9 L220.0,689.3 L220.5,688.8 L221.0,688.1 L221.5,687.3 L222.0,686.7 L222.5,685.8 L223.0,684.6 L223.5,683.1 L224.0,681.6 L224.5,679.3 L225.0,676.9 L225.5,673.5 L226.0,669.6 L226.5,665.6 L227.0,663.7 L227.5,665.6 L228.0,669.4 L228.5,673.3 L229.0,676.8 L229.5,679.2 L230.0,681.4 L230.5,683.0 L231.0,684.2 L231.5,685.5 L232.0,686.4 L232.5,687.2 L233.0,687.7 L233.5,688.2 L234.0,689.0 L234.5,689.5 L235.0,689.9 L235.5,690.3 L236.0,690.4 L236.5,690.5 L237.0,691.0 L237.5,691.3 L238.0,691.4 L238.5,691.8 L239.0,691.8 L239.5,691.9 L240.0,692.2 L240.5,692.4 L241.0,692.4 L241.5,692.7 L242.0,692.5 L242.5,692.5 L243.0,692.6 L243.5,692.7 L244.0,692.7 L244.5,692.8 L245.0,692.9 L245.5,692.8 L246.0,692.8 L246.5,693.0 L247.0,693.2 L247.5,693.0 L248.0,693.0 L248.5,693.0 L249.0,692.9 L249.5,692.9 L250.0,693.2 L250.5,693.0 L251.0,693.2 L251.5,693.4 L252.0,693.3 L252.5,693.2 L253.0,693.0 L253.5,693.0 L254.0,693.2 L254.5,693.1 L255.0,693.0 L255.5,693.1 L256.0,692.9 L256.5,693.0 L257.0,693.1 L257.5,693.1 L258.0,692.9 L258.5,692.9 L259.0,692.8 L259.5,692.9 L260.0,693.0 L260.5,693.0 L261.0,693.1 L261.5,692.7 L262.0,692.5 L262.5,692.5 L263.0,692.5 L263.5,692.6 L264.0,692.4 L264.5,692.0 L265.0,691.7 L265.5,691.3 L266.0,691.3 L266.5,691.1 L267.0,690.7 L267.5,690.7 L268.0,690.2 L268.5,689.8 L269.0,689.6 L269.5,689.2 L270.0,688.4 L270.5,687.9 L271.0,686.9 L271.5,685.9 L272.0,684.3 L272.5,682.5 L273.0,680.3 L273.5,676.8 L274.0,672.6 L274.5,666.5 L275.0,657.4 L275.5,643.2 L276.0,628.1 L276.5,630.2 L277.0,646.1 L277.5,659.1 L278.0,667.6 L278.5,673.5 L279.0,677.4 L279.5,680.2 L280.0,682.6 L280.5,684.4 L281.0,686.1 L281.5,687.1 L282.0,688.1 L282.5,688.8 L283.0,689.6 L283.5,690.3 L284.0,690.5 L284.5,690.7 L285.0,691.0 L285.5,691.3 L286.0,691.6 L286.5,691.8 L287.0,691.8 L287.5,692.1 L288.0,692.4 L288.5,692.4 L289.0,692.4 L289.5,692.3 L290.0,692.5 L290.5,692.4 L291.0,692.4 L291.5,692.5 L292.0,692.7 L292.5,692.9 L293.0,693.0 L293.5,692.8 L294.0,692.8 L294.5,692.7 L295.0,693.0 L295.5,693.1 L296.0,693.3 L296.5,693.1 L297.0,693.0 L297.5,692.9 L298.0,692.9 L298.5,693.0 L299.0,693.1 L299.5,693.0 L300.0,692.8 L300.5,692.8 L301.0,693.0 L301.5,692.8 L302.0,693.0 L302.5,693.1 L303.0,692.9 L303.5,692.6 L304.0,692.7 L304.5,692.4 L305.0,692.4 L305.5,692.3 L306.0,692.2 L306.5,692.2 L307.0,691.9 L307.5,692.0 L308.0,692.2 L308.5,692.1 L309.0,692.1 L309.5,692.5 L310.0,692.4 L310.5,692.4 L311.0,692.7 L311.5,693.1 L312.0,693.3 L312.5,693.2 L313.0,693.0 L313.5,692.8 L314.0,692.8 L314.5,692.8 L315.0,693.2 L315.5,693.4 L316.0,693.2 L316.5,693.2 L317.0,693.3 L317.5,693.1 L318.0,693.0 L318.5,692.9 L319.0,692.9 L319.5,692.8 L320.0,693.2 L320.5,693.4 L321.0,693.4 L321.5,693.3 L322.0,693.3 L322.5,693.5 L323.0,693.3 L323.5,693.5 L324.0,693.6 L324.5,693.4 L325.0,693.3 L325.5,693.4 L326.0,693.2 L326.5,693.3 L327.0,693.1 L327.5,693.0 L328.0,692.7 L328.5,692.5 L329.0,692.4 L329.5,692.1 L330.0,692.1 L330.5,691.8 L331.0,691.5 L331.5,691.3 L332.0,690.7 L332.5,690.3 L333.0,689.8 L333.5,689.1 L334.0,687.9 L334.5,686.5 L335.0,684.9 L335.5,682.5 L336.0,679.1 L336.5,675.0 L337.0,672.8 L337.5,674.9 L338.0,678.9 L338.5,682.1 L339.0,684.6 L339.5,686.2 L340.0,687.8 L340.5,688.6 L341.0,689.4 L341.5,690.2 L342.0,690.6 L342.5,690.9 L343.0,691.2 L343.5,691.6 L344.0,691.9 L344.5,692.3 L345.0,692.3 L345.5,692.4 L346.0,692.6 L346.5,692.6 L347.0,692.7 L347.5,692.6 L348.0,692.8 L348.5,693.1 L349.0,693.1 L349.5,693.4 L350.0,693.5 L350.5,693.4 L351.0,693.4 L351.5,693.3 L352.0,693.2 L352.5,693.3 L353.0,693.4 L353.5,693.6 L354.0,693.4 L354.5,693.2 L355.0,693.6 L355.5,693.5 L356.0,693.7 L356.5,693.9 L357.0,693.8 L357.5,693.6 L358.0,693.8 L358.5,693.7 L359.0,693.7 L359.5,693.5 L360.0,693.6 L360.5,693.6 L361.0,693.5 L361.5,693.5 L362.0,693.8 L362.5,694.0 L363.0,693.9 L363.5,693.8 L364.0,693.7 L364.5,693.7 L365.0,693.7 L365.5,693.9 L366.0,693.7 L366.5,693.7 L367.0,693.7 L367.5,693.8 L368.0,693.8 L368.5,693.9 L369.0,693.9 L369.5,693.7 L370.0,694.0 L370.5,693.8 L371.0,693.9 L371.5,694.1 L372.0,693.9 L372.5,694.0 L373.0,694.2 L373.5,694.0 L374.0,694.2 L374.5,694.0 L375.0,694.0 L375.5,694.2 L376.0,694.1 L376.5,694.3 L377.0,694.1 L377.5,694.2 L378.0,694.1 L378.5,694.2 L379.0,694.2 L379.5,694.3 L380.0,694.3 L380.5,694.1 L381.0,694.1 L381.5,694.2 L382.0,694.3 L382.5,694.0 L383.0,694.0 L383.5,693.8 L384.0,694.1 L384.5,694.1 L385.0,693.9 L385.5,694.0 L386.0,693.9 L386.5,693.9 L387.0,694.1 L387.5,694.2 L388.0,694.4 L388.5,694.4 L389.0,694.3 L389.5,694.2 L390.0,694.0 L390.5,693.7 L391.0,694.0 L391.5,694.2 L392.0,694.3 L392.5,694.1 L393.0,694.1 L393.5,693.9 L394.0,693.8 L394.5,694.0 L395.0,694.2 L395.5,693.9 L396.0,694.1 L396.5,694.2 L397.0,694.2 L397.5,694.0 L398.0,693.9 L398.5,694.0 L399.0,693.9 L399.5,693.7 L400.0,693.8 L400.5,693.7 L401.0,693.6 L401.5,693.5 L402.0,693.5 L402.5,693.4 L403.0,693.5 L403.5,693.5 L404.0,693.5 L404.5,693.4 L405.0,693.5 L405.5,693.4 L406.0,693.5 L406.5,693.4 L407.0,693.6 L407.5,693.5 L408.0,693.6 L408.5,693.5 L409.0,693.7 L409.5,694.0 L410.0,694.1 L410.5,693.9 L411.0,693.7 L411.5,693.6 L412.0,693.9 L412.5,693.7 L413.0,693.9 L413.5,694.1 L414.0,694.2 L414.5,694.1 L415.0,694.0 L415.5,693.9 L416.0,694.0 L416.5,694.0 L417.0,694.1 L417.5,694.0 L418.0,694.2 L418.5,694.2 L419.0,694.0 L419.5,694.0 L420.0,693.8 L420.5,694.1 L421.0,693.8 L421.5,693.8 L422.0,693.8 L422.5,693.9 L423.0,693.7 L423.5,693.8 L424.0,693.7 L424.5,693.6 L425.0,693.6 L425.5,693.5 L426.0,693.8 L426.5,693.6 L427.0,693.9 L427.5,694.0 L428.0,694.2 L428.5,694.2 L429.0,694.1 L429.5,694.1 L430.0,694.0 L430.5,693.9 L431.0,693.8 L431.5,693.8 L432.0,694.0 L432.5,694.2 L433.0,694.3 L433.5,694.3 L434.0,694.0 L434.5,694.0 L435.0,693.8 L435.5,694.0 L436.0,694.1 L436.5,693.9 L437.0,693.8 L437.5,694.0 L438.0,693.9 L438.5,693.6 L439.0,693.7 L439.5,693.7 L440.0,693.5 L440.5,693.7 L441.0,693.5 L441.5,693.3 L442.0,693.4 L442.5,693.3 L443.0,693.2 L443.5,693.3 L444.0,693.5 L444.5,693.6 L445.0,693.5 L445.5,693.7 L446.0,693.9 L446.5,694.1 L447.0,693.7 L447.5,693.9 L448.0,694.0 L448.5,694.0 L449.0,694.1 L449.5,694.1 L450.0,693.9 L450.5,694.1 L451.0,694.1 L451.5,693.9 L452.0,693.9 L452.5,693.7 L453.0,693.6 L453.5,693.7 L454.0,693.6 L454.5,693.4 L455.0,693.6 L455.5,693.7 L456.0,693.9 L456.5,693.7 L457.0,693.6 L457.5,693.5 L458.0,693.8 L458.5,693.9 L459.0,693.7 L459.5,693.7 L460.0,693.9 L460.5,693.9 L461.0,693.9 L461.5,693.9 L462.0,693.7 L462.5,693.5 L463.0,693.4 L463.5,693.5 L464.0,693.4 L464.5,693.7 L465.0,693.6 L465.5,693.4 L466.0,693.6 L466.5,693.7 L467.0,693.9 L467.5,693.8 L468.0,694.0 L468.5,694.0 L469.0,694.2 L469.5,694.2 L470.0,694.0 L470.5,693.9 L471.0,693.7 L471.5,693.8 L472.0,693.7 L472.5,693.7 L473.0,693.6 L473.5,693.5 L474.0,693.6 L474.5,693.7 L475.0,693.7 L475.5,693.5 L476.0,693.6 L476.5,693.7 L477.0,693.7 L477.5,693.9 L478.0,694.0 L478.5,694.1 L479.0,694.0 L479.5,694.1 L480.0,694.0 L480.5,693.9 L481.0,693.7 L481.5,693.6 L482.0,693.5 L482.5,693.4 L483.0,693.3 L483.5,693.2 L484.0,693.1 L484.5,693.2 L485.0,693.3 L485.5,693.5 L486.0,693.6 L486.5,693.8 L487.0,693.9 L487.5,693.6 L488.0,693.6 L488.5,693.8 L489.0,693.4 L489.5,693.2 L490.0,693.0 L490.5,692.9 L491.0,693.2 L491.5,693.4 L492.0,693.2 L492.5,692.9 L493.0,692.8 L493.5,693.1 L494.0,693.0 L494.5,693.0 L495.0,692.9 L495.5,692.9 L496.0,693.0 L496.5,693.2 L497.0,692.9 L497.5,692.8 L498.0,692.9 L498.5,693.0 L499.0,692.9 L499.5,692.7 L500.0,692.4 L500.5,692.3 L501.0,692.3 L501.5,692.5 L502.0,692.5 L502.5,692.4 L503.0,692.2 L503.5,692.3 L504.0,692.4 L504.5,692.1 L505.0,692.0 L505.5,691.9 L506.0,691.6 L506.5,691.6 L507.0,691.2 L507.5,691.0 L508.0,691.0 L508.5,690.8 L509.0,690.5 L509.5,690.1 L510.0,689.8 L510.5,689.6 L511.0,689.4 L511.5,689.0 L512.0,688.8 L512.5,688.2 L513.0,687.6 L513.5,687.0 L514.0,686.6 L514.5,685.9 L515.0,685.3 L515.5,684.5 L516.0,683.1 L516.5,682.1 L517.0,680.7 L517.5,679.4 L518.0,678.0 L518.5,676.3 L519.0,674.0 L519.5,671.4 L520.0,667.9 L520.5,663.2 L521.0,656.0 L521.5,647.7 L522.0,646.6 L522.5,654.4 L523.0,662.1 L523.5,667.1 L524.0,671.0 L524.5,673.7 L525.0,675.8 L525.5,677.6 L526.0,678.9 L526.5,680.2 L527.0,681.3 L527.5,682.5 L528.0,683.7 L528.5,684.5 L529.0,685.1 L529.5,685.9 L530.0,686.4 L530.5,687.2 L531.0,687.6 L531.5,688.0 L532.0,688.4 L532.5,689.0 L533.0,689.4 L533.5,689.5 L534.0,689.5 L534.5,689.6 L535.0,690.0 L535.5,690.3 L536.0,690.3 L536.5,690.4 L537.0,690.7 L537.5,690.6 L538.0,690.8 L538.5,691.0 L539.0,691.0 L539.5,690.9 L540.0,690.9 L540.5,691.0 L541.0,690.9 L541.5,691.0 L542.0,691.1 L542.5,691.4 L543.0,691.8 L543.5,691.9 L544.0,692.0 L544.5,691.9 L545.0,692.0 L545.5,692.1 L546.0,692.3 L546.5,692.3 L547.0,692.3 L547.5,692.2 L548.0,692.4 L548.5,692.5 L549.0,692.7 L549.5,692.6 L550.0,692.6 L550.5,692.4 L551.0,692.3 L551.5,692.4 L552.0,692.3 L552.5,692.6 L553.0,692.5 L553.5,692.5 L554.0,692.3 L554.5,692.6 L555.0,692.4 L555.5,692.6 L556.0,692.4 L556.5,692.3 L557.0,692.1 L557.5,692.2 L558.0,691.9 L558.5,692.0 L559.0,691.9 L559.5,691.7 L560.0,691.6 L560.5,691.6 L561.0,691.1 L561.5,691.1 L562.0,690.9 L562.5,690.6 L563.0,690.2 L563.5,689.4 L564.0,688.3 L564.5,687.3 L565.0,686.4 L565.5,685.9 L566.0,685.9 L566.5,687.0 L567.0,688.2 L567.5,689.0 L568.0,689.7 L568.5,690.4 L569.0,690.8 L569.5,691.2 L570.0,691.5 L570.5,691.9 L571.0,692.2 L571.5,692.1 L572.0,692.1 L572.5,692.3 L573.0,692.3 L573.5,692.3 L574.0,692.2 L574.5,692.4 L575.0,692.8 L575.5,692.8 L576.0,692.7 L576.5,692.7 L577.0,692.9 L577.5,692.7 L578.0,692.6 L578.5,692.8 L579.0,692.8 L579.5,693.0 L580.0,692.8 L580.5,692.7 L581.0,693.0 L581.5,693.1 L582.0,693.2 L582.5,693.2 L583.0,693.0 L583.5,692.8 L584.0,692.8 L584.5,692.9 L585.0,692.9 L585.5,692.9 L586.0,692.6 L586.5,692.8 L587.0,692.6 L587.5,692.5 L588.0,692.6 L588.5,692.7 L589.0,692.5 L589.5,692.3 L590.0,692.3 L590.5,692.1 L591.0,691.7 L591.5,691.4 L592.0,691.2 L592.5,690.7 L593.0,690.4 L593.5,690.5 L594.0,690.6 L594.5,690.6 L595.0,690.4 L595.5,690.4 L596.0,690.7 L596.5,690.6 L597.0,690.8 L597.5,691.0 L598.0,691.4 L598.5,691.7 L599.0,692.1 L599.5,692.4 L600.0,692.5 L600.5,692.7 L601.0,692.7 L601.5,692.6 L602.0,692.6 L602.5,692.6 L603.0,692.9 L603.5,693.1 L604.0,692.9 L604.5,693.0 L605.0,693.2 L605.5,693.3 L606.0,693.2 L606.5,693.2 L607.0,693.1 L607.5,693.1 L608.0,693.2 L608.5,693.2 L609.0,693.2 L609.5,693.3 L610.0,693.2 L610.5,693.3 L611.0,693.1 L611.5,693.4 L612.0,693.2 L612.5,693.3 L613.0,693.1 L613.5,693.4 L614.0,693.7 L614.5,693.8 L615.0,693.8 L615.5,693.7 L616.0,693.8 L616.5,693.6 L617.0,693.6 L617.5,693.6 L618.0,693.5 L618.5,693.5 L619.0,693.5 L619.5,693.4 L620.0,693.5 L620.5,693.5 L621.0,693.4 L621.5,693.5 L622.0,693.4 L622.5,693.5 L623.0,693.5 L623.5,693.7 L624.0,693.7 L624.5,693.5 L625.0,693.5 L625.5,693.7 L626.0,693.6 L626.5,693.8 L627.0,694.0 L627.5,694.1 L628.0,694.2 L628.5,694.0 L629.0,693.9 L629.5,693.7 L630.0,693.6 L630.5,693.5 L631.0,693.7 L631.5,693.9 L632.0,693.9 L632.5,694.0 L633.0,693.9 L633.5,693.9 L634.0,693.8 L634.5,693.5 L635.0,693.6 L635.5,693.8 L636.0,693.7 L636.5,693.9 L637.0,693.8 L637.5,693.6 L638.0,693.5 L638.5,693.5 L639.0,693.4 L639.5,693.2 L640.0,693.2 L640.5,693.5 L641.0,693.7 L641.5,693.6 L642.0,693.4 L642.5,693.4 L643.0,693.3 L643.5,693.4 L644.0,693.3 L644.5,693.4 L645.0,693.5 L645.5,693.3 L646.0,693.1 L646.5,693.2 L647.0,693.2 L647.5,693.3 L648.0,693.4 L648.5,693.3 L649.0,693.2 L649.5,693.2 L650.0,693.1 L650.5,692.8 L651.0,692.6 L651.5,692.4 L652.0,692.4 L652.5,692.5 L653.0,692.4 L653.5,692.0 L654.0,691.8 L654.5,691.4 L655.0,691.4 L655.5,691.3 L656.0,690.9 L656.5,690.8 L657.0,690.2 L657.5,689.7 L658.0,689.5 L658.5,688.9 L659.0,688.5 L659.5,688.0 L660.0,687.4 L660.5,686.6 L661.0,685.8 L661.5,685.3 L662.0,685.1 L662.5,685.6 L663.0,686.3 L663.5,687.1 L664.0,687.8 L664.5,688.3 L665.0,688.8 L665.5,689.2 L666.0,689.8 L666.5,690.3 L667.0,690.6 L667.5,691.2 L668.0,691.3 L668.5,691.5 L669.0,691.6 L669.5,691.7 L670.0,691.8 L670.5,692.0 L671.0,692.2 L671.5,692.3 L672.0,692.7 L672.5,692.7 L673.0,692.8 L673.5,692.9 L674.0,693.2 L674.5,693.3 L675.0,693.5 L675.5,693.4" fill="none" stroke="#000" stroke-width="4" stroke-linejoin="round"/><polygon points="167.55,40.80 191.05,40.80 179.30,59.90" fill="#000"/><polygon points="216.05,94.40 236.15,94.40 226.10,113.90" fill="none" stroke="#000" stroke-width="2.0" stroke-miterlimit="10"/><polygon points="261.65,43.40 285.15,43.40 273.40,62.20" fill="#000"/><polygon points="322.95,81.90 346.45,81.90 334.70,101.50" fill="#000"/><polygon points="508.55,66.20 532.05,66.20 520.30,84.00" fill="#000"/><polygon points="552.35,93.70 575.85,93.70 564.10,112.80" fill="#000"/><polygon points="139.95,667.00 160.05,667.00 150.00,683.80" fill="none" stroke="#000" stroke-width="2.0" stroke-miterlimit="10"/><polygon points="168.75,611.00 192.25,611.00 180.50,630.40" fill="#000"/><polygon points="216.25,644.00 236.35,644.00 226.30,660.60" fill="none" stroke="#000" stroke-width="2.0" stroke-miterlimit="10"/><polygon points="263.65,605.10 287.15,605.10 275.40,624.50" fill="#000"/><polygon points="324.25,650.70 347.75,650.70 336.00,670.70" fill="#000"/><polygon points="510.25,624.30 533.75,624.30 522.00,642.90" fill="#000"/><polygon points="531.95,670.10 552.05,670.10 542.00,686.60" fill="none" stroke="#000" stroke-width="2.0" stroke-miterlimit="10"/><polygon points="554.45,661.70 577.95,661.70 566.20,681.70" fill="#000"/><line x1="180.6" y1="33.4" x2="180.6" y2="703.6" stroke="#c41c26" stroke-width="2.8" stroke-dasharray="2.8 1.7"/><line x1="226.8" y1="33.4" x2="226.8" y2="701.2" stroke="#1a16a0" stroke-width="2.8" stroke-dasharray="2.8 1.7"/><rect x="102.0" y="31.8" width="573.5" height="673.4000000000001" fill="none" stroke="#000" stroke-width="3.2"/><line x1="102.0" y1="705.2" x2="102.0" y2="715.7" stroke="#000" stroke-width="3"/><line x1="173.7" y1="705.2" x2="173.7" y2="710.2" stroke="#000" stroke-width="3"/><line x1="245.4" y1="705.2" x2="245.4" y2="715.7" stroke="#000" stroke-width="3"/><line x1="317.1" y1="705.2" x2="317.1" y2="710.2" stroke="#000" stroke-width="3"/><line x1="388.8" y1="705.2" x2="388.8" y2="715.7" stroke="#000" stroke-width="3"/><line x1="460.4" y1="705.2" x2="460.4" y2="710.2" stroke="#000" stroke-width="3"/><line x1="532.1" y1="705.2" x2="532.1" y2="715.7" stroke="#000" stroke-width="3"/><line x1="603.8" y1="705.2" x2="603.8" y2="710.2" stroke="#000" stroke-width="3"/><line x1="675.5" y1="705.2" x2="675.5" y2="715.7" stroke="#000" stroke-width="3"/><text transform="translate(102.0,745.8) scale(1,1.04)" font-family='"Liberation Sans", sans-serif' font-size="30" font-weight="bold" text-anchor="middle" fill="#000" stroke="#000" stroke-width="0.3" >20</text><text transform="translate(245.4,745.8) scale(1,1.04)" font-family='"Liberation Sans", sans-serif' font-size="30" font-weight="bold" text-anchor="middle" fill="#000" stroke="#000" stroke-width="0.3" >30</text><text transform="translate(388.8,745.8) scale(1,1.04)" font-family='"Liberation Sans", sans-serif' font-size="30" font-weight="bold" text-anchor="middle" fill="#000" stroke="#000" stroke-width="0.3" >40</text><text transform="translate(532.1,745.8) scale(1,1.04)" font-family='"Liberation Sans", sans-serif' font-size="30" font-weight="bold" text-anchor="middle" fill="#000" stroke="#000" stroke-width="0.3" >50</text><text transform="translate(675.5,745.8) scale(1,1.04)" font-family='"Liberation Sans", sans-serif' font-size="30" font-weight="bold" text-anchor="middle" fill="#000" stroke="#000" stroke-width="0.3" >60</text><text transform="translate(394.8,776) scale(1,1.04)" font-family='"Liberation Sans", sans-serif' font-size="29.5" font-weight="bold" text-anchor="middle" fill="#000" stroke="#000" stroke-width="0.3" >2Theta (°)</text><text transform="translate(86.8,377.6) rotate(-90) scale(1,1.04)" font-family='"Liberation Sans", sans-serif' font-weight="bold" font-size="29.5" text-anchor="middle" stroke="#000" stroke-width="0.3">Intensity (A.U.)</text><text transform="translate(107.5,69.0) scale(1,1.04)" font-family='"Liberation Sans", sans-serif' font-size="38" font-weight="bold" text-anchor="start" fill="#000" stroke="#000" stroke-width="0.3" >(a)</text><text transform="translate(109.2,21.4) scale(1,1.04)" font-family='"Liberation Sans", sans-serif' font-size="30" fill="#dc0c18" stroke="#dc0c18" stroke-width="0.55">β-PbO<tspan font-size="20" dy="7.50">2</tspan></text><text transform="translate(208.2,21.4) scale(1,1.04)" font-family='"Liberation Sans", sans-serif' font-size="30" fill="#0a0ac8" stroke="#0a0ac8" stroke-width="0.55">α-PbO<tspan font-size="20" dy="7.50">2</tspan></text><polygon points="403.70,39.10 424.90,39.10 414.30,58.30" fill="none" stroke="#000" stroke-width="2.0" stroke-miterlimit="10"/><text transform="translate(437,59.9) scale(1,1.04)" font-family='"Liberation Sans", sans-serif' font-size="30" fill="#000" stroke="#000" stroke-width="0.55">α-PbO<tspan font-size="20" dy="7.50">2</tspan></text><polygon points="538.10,39.80 563.30,39.80 550.70,62.10" fill="#000"/><text transform="translate(570.5,59.9) scale(1,1.04)" font-family='"Liberation Sans", sans-serif' font-size="30" fill="#000" stroke="#000" stroke-width="0.55">β-PbO<tspan font-size="20" dy="7.50">2</tspan></text><text transform="translate(669.3,104.4) scale(1,1.04)" font-family='"Liberation Sans", sans-serif' font-size="30.4" text-anchor="end" fill="#000" stroke="#000" stroke-width="0.55" >LO-0.5</text><text transform="translate(669.3,201.3) scale(1,1.04)" font-family='"Liberation Sans", sans-serif' font-size="30.4" text-anchor="end" fill="#000" stroke="#000" stroke-width="0.55" >LO-0.2</text><text transform="translate(669.3,297.6) scale(1,1.04)" font-family='"Liberation Sans", sans-serif' font-size="30.4" text-anchor="end" fill="#000" stroke="#000" stroke-width="0.55" >LO-0.05</text><text transform="translate(669.3,387.6) scale(1,1.04)" font-family='"Liberation Sans", sans-serif' font-size="30.4" text-anchor="end" fill="#000" stroke="#000" stroke-width="0.55" >LO-0.02</text><text transform="translate(669.3,482.6) scale(1,1.04)" font-family='"Liberation Sans", sans-serif' font-size="30.4" text-anchor="end" fill="#000" stroke="#000" stroke-width="0.55" >LO-0.005</text><text transform="translate(669.3,577.6) scale(1,1.04)" font-family='"Liberation Sans", sans-serif' font-size="30.4" text-anchor="end" fill="#000" stroke="#000" stroke-width="0.55" >LO-0.002</text><text transform="translate(669.3,668.3) scale(1,1.04)" font-family='"Liberation Sans", sans-serif' font-size="30.4" text-anchor="end" fill="#000" stroke="#000" stroke-width="0.55" >LO-0</text><defs><clipPath id="ca0"><rect x="117.1" y="1048.8" width="49.5" height="116.2"/></clipPath><clipPath id="cb0"><rect x="117.1" y="852.5" width="49.5" height="196.2"/></clipPath><clipPath id="ca1"><rect x="199.4" y="1048.8" width="49.5" height="116.2"/></clipPath><clipPath id="cb1"><rect x="199.4" y="852.5" width="49.5" height="196.2"/></clipPath><clipPath id="ca2"><rect x="281.6" y="1047.5" width="49.5" height="117.5"/></clipPath><clipPath id="cb2"><rect x="281.6" y="852.5" width="49.5" height="195.0"/></clipPath><clipPath id="ca3"><rect x="363.9" y="1055.9" width="49.5" height="109.1"/></clipPath><clipPath id="cb3"><rect x="363.9" y="852.5" width="49.5" height="203.4"/></clipPath><clipPath id="ca4"><rect x="446.2" y="1080.3" width="49.5" height="84.7"/></clipPath><clipPath id="cb4"><rect x="446.2" y="852.5" width="49.5" height="227.8"/></clipPath><clipPath id="ca5"><rect x="528.5" y="1114.7" width="49.5" height="50.3"/></clipPath><clipPath id="cb5"><rect x="528.5" y="852.5" width="49.5" height="262.2"/></clipPath><clipPath id="ca6"><rect x="610.8" y="1142.2" width="49.5" height="22.8"/></clipPath><clipPath id="cb6"><rect x="610.8" y="852.5" width="49.5" height="289.7"/></clipPath><clipPath id="lga"><rect x="319.5" y="802.3" width="63.2" height="30.2"/></clipPath><clipPath id="lgb"><rect x="497.5" y="802.3" width="63.2" height="30.2"/></clipPath></defs><path d="M115.05,993.95 L284.80,1163.70 M115.05,1020.35 L284.80,1190.10 M115.05,1046.75 L284.80,1216.50 M115.05,1073.15 L284.80,1242.90 M115.05,1099.55 L284.80,1269.30 M115.05,1125.95 L284.80,1295.70 M115.05,1152.35 L284.80,1322.10 M115.05,1178.75 L284.80,1348.50" stroke="#2b5f95" stroke-width="1.4" fill="none" clip-path="url(#ca0)"/><path d="M143.45,1048.75 L27.20,1165.00 M169.85,1048.75 L53.60,1165.00 M196.25,1048.75 L80.00,1165.00 M222.65,1048.75 L106.40,1165.00 M249.05,1048.75 L132.80,1165.00 M275.45,1048.75 L159.20,1165.00 M301.85,1048.75 L185.60,1165.00" stroke="#2b5f95" stroke-width="1.4" fill="none" clip-path="url(#ca0)"/><path d="M135.15,852.50 L-61.10,1048.75 M153.25,852.50 L-43.00,1048.75 M171.35,852.50 L-24.90,1048.75 M189.45,852.50 L-6.80,1048.75 M207.55,852.50 L11.30,1048.75 M225.65,852.50 L29.40,1048.75 M243.75,852.50 L47.50,1048.75 M261.85,852.50 L65.60,1048.75 M279.95,852.50 L83.70,1048.75 M298.05,852.50 L101.80,1048.75 M316.15,852.50 L119.90,1048.75 M334.25,852.50 L138.00,1048.75 M352.35,852.50 L156.10,1048.75 M370.45,852.50 L174.20,1048.75" stroke="#eb7a1a" stroke-width="2.1" fill="none" clip-path="url(#cb0)"/><rect x="117.1" y="1048.8" width="49.5" height="116.2" fill="none" stroke="#2e72b4" stroke-width="2.2"/><rect x="117.1" y="852.5" width="49.5" height="196.2" fill="none" stroke="#eb7a1a" stroke-width="2.4"/><path d="M197.35,993.95 L367.10,1163.70 M197.35,1020.35 L367.10,1190.10 M197.35,1046.75 L367.10,1216.50 M197.35,1073.15 L367.10,1242.90 M197.35,1099.55 L367.10,1269.30 M197.35,1125.95 L367.10,1295.70 M197.35,1152.35 L367.10,1322.10 M197.35,1178.75 L367.10,1348.50" stroke="#2b5f95" stroke-width="1.4" fill="none" clip-path="url(#ca1)"/><path d="M225.75,1048.75 L109.50,1165.00 M252.15,1048.75 L135.90,1165.00 M278.55,1048.75 L162.30,1165.00 M304.95,1048.75 L188.70,1165.00 M331.35,1048.75 L215.10,1165.00 M357.75,1048.75 L241.50,1165.00 M384.15,1048.75 L267.90,1165.00" stroke="#2b5f95" stroke-width="1.4" fill="none" clip-path="url(#ca1)"/><path d="M217.45,852.50 L21.20,1048.75 M235.55,852.50 L39.30,1048.75 M253.65,852.50 L57.40,1048.75 M271.75,852.50 L75.50,1048.75 M289.85,852.50 L93.60,1048.75 M307.95,852.50 L111.70,1048.75 M326.05,852.50 L129.80,1048.75 M344.15,852.50 L147.90,1048.75 M362.25,852.50 L166.00,1048.75 M380.35,852.50 L184.10,1048.75 M398.45,852.50 L202.20,1048.75 M416.55,852.50 L220.30,1048.75 M434.65,852.50 L238.40,1048.75 M452.75,852.50 L256.50,1048.75" stroke="#eb7a1a" stroke-width="2.1" fill="none" clip-path="url(#cb1)"/><rect x="199.4" y="1048.8" width="49.5" height="116.2" fill="none" stroke="#2e72b4" stroke-width="2.2"/><rect x="199.4" y="852.5" width="49.5" height="196.2" fill="none" stroke="#eb7a1a" stroke-width="2.4"/><path d="M279.65,992.70 L450.65,1163.70 M279.65,1019.10 L450.65,1190.10 M279.65,1045.50 L450.65,1216.50 M279.65,1071.90 L450.65,1242.90 M279.65,1098.30 L450.65,1269.30 M279.65,1124.70 L450.65,1295.70 M279.65,1151.10 L450.65,1322.10 M279.65,1177.50 L450.65,1348.50" stroke="#2b5f95" stroke-width="1.4" fill="none" clip-path="url(#ca2)"/><path d="M308.05,1047.50 L190.55,1165.00 M334.45,1047.50 L216.95,1165.00 M360.85,1047.50 L243.35,1165.00 M387.25,1047.50 L269.75,1165.00 M413.65,1047.50 L296.15,1165.00 M440.05,1047.50 L322.55,1165.00 M466.45,1047.50 L348.95,1165.00" stroke="#2b5f95" stroke-width="1.4" fill="none" clip-path="url(#ca2)"/><path d="M299.75,852.50 L104.75,1047.50 M317.85,852.50 L122.85,1047.50 M335.95,852.50 L140.95,1047.50 M354.05,852.50 L159.05,1047.50 M372.15,852.50 L177.15,1047.50 M390.25,852.50 L195.25,1047.50 M408.35,852.50 L213.35,1047.50 M426.45,852.50 L231.45,1047.50 M444.55,852.50 L249.55,1047.50 M462.65,852.50 L267.65,1047.50 M480.75,852.50 L285.75,1047.50 M498.85,852.50 L303.85,1047.50 M516.95,852.50 L321.95,1047.50 M535.05,852.50 L340.05,1047.50" stroke="#eb7a1a" stroke-width="2.1" fill="none" clip-path="url(#cb2)"/><rect x="281.6" y="1047.5" width="49.5" height="117.5" fill="none" stroke="#2e72b4" stroke-width="2.2"/><rect x="281.6" y="852.5" width="49.5" height="195.0" fill="none" stroke="#eb7a1a" stroke-width="2.4"/><path d="M361.95,1001.14 L524.51,1163.70 M361.95,1027.54 L524.51,1190.10 M361.95,1053.94 L524.51,1216.50 M361.95,1080.34 L524.51,1242.90 M361.95,1106.74 L524.51,1269.30 M361.95,1133.14 L524.51,1295.70 M361.95,1159.54 L524.51,1322.10 M361.95,1185.94 L524.51,1348.50" stroke="#2b5f95" stroke-width="1.4" fill="none" clip-path="url(#ca3)"/><path d="M390.35,1055.94 L281.29,1165.00 M416.75,1055.94 L307.69,1165.00 M443.15,1055.94 L334.09,1165.00 M469.55,1055.94 L360.49,1165.00 M495.95,1055.94 L386.89,1165.00 M522.35,1055.94 L413.29,1165.00 M548.75,1055.94 L439.69,1165.00" stroke="#2b5f95" stroke-width="1.4" fill="none" clip-path="url(#ca3)"/><path d="M382.05,852.50 L178.61,1055.94 M400.15,852.50 L196.71,1055.94 M418.25,852.50 L214.81,1055.94 M436.35,852.50 L232.91,1055.94 M454.45,852.50 L251.01,1055.94 M472.55,852.50 L269.11,1055.94 M490.65,852.50 L287.21,1055.94 M508.75,852.50 L305.31,1055.94 M526.85,852.50 L323.41,1055.94 M544.95,852.50 L341.51,1055.94 M563.05,852.50 L359.61,1055.94 M581.15,852.50 L377.71,1055.94 M599.25,852.50 L395.81,1055.94 M617.35,852.50 L413.91,1055.94" stroke="#eb7a1a" stroke-width="2.1" fill="none" clip-path="url(#cb3)"/><rect x="363.9" y="1055.9" width="49.5" height="109.1" fill="none" stroke="#2e72b4" stroke-width="2.2"/><rect x="363.9" y="852.5" width="49.5" height="203.4" fill="none" stroke="#eb7a1a" stroke-width="2.4"/><path d="M444.25,1025.51 L582.44,1163.70 M444.25,1051.91 L582.44,1190.10 M444.25,1078.31 L582.44,1216.50 M444.25,1104.71 L582.44,1242.90 M444.25,1131.11 L582.44,1269.30 M444.25,1157.51 L582.44,1295.70 M444.25,1183.91 L582.44,1322.10" stroke="#2b5f95" stroke-width="1.4" fill="none" clip-path="url(#ca4)"/><path d="M472.65,1080.31 L387.96,1165.00 M499.05,1080.31 L414.36,1165.00 M525.45,1080.31 L440.76,1165.00 M551.85,1080.31 L467.16,1165.00 M578.25,1080.31 L493.56,1165.00 M604.65,1080.31 L519.96,1165.00" stroke="#2b5f95" stroke-width="1.4" fill="none" clip-path="url(#ca4)"/><path d="M464.35,852.50 L236.54,1080.31 M482.45,852.50 L254.64,1080.31 M500.55,852.50 L272.74,1080.31 M518.65,852.50 L290.84,1080.31 M536.75,852.50 L308.94,1080.31 M554.85,852.50 L327.04,1080.31 M572.95,852.50 L345.14,1080.31 M591.05,852.50 L363.24,1080.31 M609.15,852.50 L381.34,1080.31 M627.25,852.50 L399.44,1080.31 M645.35,852.50 L417.54,1080.31 M663.45,852.50 L435.64,1080.31 M681.55,852.50 L453.74,1080.31 M699.65,852.50 L471.84,1080.31 M717.75,852.50 L489.94,1080.31 M735.85,852.50 L508.04,1080.31" stroke="#eb7a1a" stroke-width="2.1" fill="none" clip-path="url(#cb4)"/><rect x="446.2" y="1080.3" width="49.5" height="84.7" fill="none" stroke="#2e72b4" stroke-width="2.2"/><rect x="446.2" y="852.5" width="49.5" height="227.8" fill="none" stroke="#eb7a1a" stroke-width="2.4"/><path d="M526.55,1059.89 L630.36,1163.70 M526.55,1086.29 L630.36,1190.10 M526.55,1112.69 L630.36,1216.50 M526.55,1139.09 L630.36,1242.90 M526.55,1165.49 L630.36,1269.30" stroke="#2b5f95" stroke-width="1.4" fill="none" clip-path="url(#ca5)"/><path d="M554.95,1114.69 L504.64,1165.00 M581.35,1114.69 L531.04,1165.00 M607.75,1114.69 L557.44,1165.00 M634.15,1114.69 L583.84,1165.00" stroke="#2b5f95" stroke-width="1.4" fill="none" clip-path="url(#ca5)"/><path d="M546.65,852.50 L284.46,1114.69 M564.75,852.50 L302.56,1114.69 M582.85,852.50 L320.66,1114.69 M600.95,852.50 L338.76,1114.69 M619.05,852.50 L356.86,1114.69 M637.15,852.50 L374.96,1114.69 M655.25,852.50 L393.06,1114.69 M673.35,852.50 L411.16,1114.69 M691.45,852.50 L429.26,1114.69 M709.55,852.50 L447.36,1114.69 M727.65,852.50 L465.46,1114.69 M745.75,852.50 L483.56,1114.69 M763.85,852.50 L501.66,1114.69 M781.95,852.50 L519.76,1114.69 M800.05,852.50 L537.86,1114.69 M818.15,852.50 L555.96,1114.69 M836.25,852.50 L574.06,1114.69 M854.35,852.50 L592.16,1114.69" stroke="#eb7a1a" stroke-width="2.1" fill="none" clip-path="url(#cb5)"/><rect x="528.5" y="1114.7" width="49.5" height="50.3" fill="none" stroke="#2e72b4" stroke-width="2.2"/><rect x="528.5" y="852.5" width="49.5" height="262.2" fill="none" stroke="#eb7a1a" stroke-width="2.4"/><path d="M608.85,1087.39 L685.16,1163.70 M608.85,1113.79 L685.16,1190.10 M608.85,1140.19 L685.16,1216.50 M608.85,1166.59 L685.16,1242.90" stroke="#2b5f95" stroke-width="1.4" fill="none" clip-path="url(#ca6)"/><path d="M637.25,1142.19 L614.44,1165.00 M663.65,1142.19 L640.84,1165.00 M690.05,1142.19 L667.24,1165.00" stroke="#2b5f95" stroke-width="1.4" fill="none" clip-path="url(#ca6)"/><path d="M628.95,852.50 L339.26,1142.19 M647.05,852.50 L357.36,1142.19 M665.15,852.50 L375.46,1142.19 M683.25,852.50 L393.56,1142.19 M701.35,852.50 L411.66,1142.19 M719.45,852.50 L429.76,1142.19 M737.55,852.50 L447.86,1142.19 M755.65,852.50 L465.96,1142.19 M773.75,852.50 L484.06,1142.19 M791.85,852.50 L502.16,1142.19 M809.95,852.50 L520.26,1142.19 M828.05,852.50 L538.36,1142.19 M846.15,852.50 L556.46,1142.19 M864.25,852.50 L574.56,1142.19 M882.35,852.50 L592.66,1142.19 M900.45,852.50 L610.76,1142.19 M918.55,852.50 L628.86,1142.19 M936.65,852.50 L646.96,1142.19 M954.75,852.50 L665.06,1142.19" stroke="#eb7a1a" stroke-width="2.1" fill="none" clip-path="url(#cb6)"/><rect x="610.8" y="1142.2" width="49.5" height="22.8" fill="none" stroke="#2e72b4" stroke-width="2.2"/><rect x="610.8" y="852.5" width="49.5" height="289.7" fill="none" stroke="#eb7a1a" stroke-width="2.4"/><path d="M317.50,721.10 L414.90,818.50 M317.50,747.50 L414.90,844.90 M317.50,773.90 L414.90,871.30 M317.50,800.30 L414.90,897.70 M317.50,826.70 L414.90,924.10 M317.50,853.10 L414.90,950.50" stroke="#2b5f95" stroke-width="1.4" fill="none" clip-path="url(#lga)"/><path d="M345.90,802.30 L315.70,832.50 M372.30,802.30 L342.10,832.50 M398.70,802.30 L368.50,832.50 M425.10,802.30 L394.90,832.50" stroke="#2b5f95" stroke-width="1.4" fill="none" clip-path="url(#lga)"/><rect x="319.5" y="802.3" width="63.2" height="30.2" fill="none" stroke="#2e72b4" stroke-width="2.2"/><path d="M515.90,802.30 L485.70,832.50 M534.30,802.30 L504.10,832.50 M552.70,802.30 L522.50,832.50 M571.10,802.30 L540.90,832.50 M589.50,802.30 L559.30,832.50 M607.90,802.30 L577.70,832.50" stroke="#eb7a1a" stroke-width="2.1" fill="none" clip-path="url(#lgb)"/><rect x="497.5" y="802.3" width="63.2" height="30.2" fill="none" stroke="#eb7a1a" stroke-width="2.4"/><text transform="translate(392,828.4) scale(1,1.04)" font-family='"Liberation Sans", sans-serif' font-size="30" fill="#000" stroke="#000" stroke-width="0.55">α-PbO<tspan font-size="20" dy="7.50">2</tspan></text><text transform="translate(570.5,828.4) scale(1,1.04)" font-family='"Liberation Sans", sans-serif' font-size="30" fill="#000" stroke="#000" stroke-width="0.55">β-PbO<tspan font-size="20" dy="7.50">2</tspan></text><rect x="100.5" y="793.1" width="576.1" height="372.2" fill="none" stroke="#000" stroke-width="3.6"/><line x1="88.5" y1="1165.0" x2="100.5" y2="1165.0" stroke="#000" stroke-width="3.4"/><text transform="translate(80.5,1173.6) scale(1,1.04)" font-family='"Liberation Sans", sans-serif' font-size="27.5" font-weight="bold" text-anchor="end" fill="#000" stroke="#000" stroke-width="0.3" >0</text><line x1="88.5" y1="1102.5" x2="100.5" y2="1102.5" stroke="#000" stroke-width="3.4"/><text transform="translate(80.5,1111.1) scale(1,1.04)" font-family='"Liberation Sans", sans-serif' font-size="27.5" font-weight="bold" text-anchor="end" fill="#000" stroke="#000" stroke-width="0.3" >20</text><line x1="88.5" y1="1040.0" x2="100.5" y2="1040.0" stroke="#000" stroke-width="3.4"/><text transform="translate(80.5,1048.6) scale(1,1.04)" font-family='"Liberation Sans", sans-serif' font-size="27.5" font-weight="bold" text-anchor="end" fill="#000" stroke="#000" stroke-width="0.3" >40</text><line x1="88.5" y1="977.5" x2="100.5" y2="977.5" stroke="#000" stroke-width="3.4"/><text transform="translate(80.5,986.1) scale(1,1.04)" font-family='"Liberation Sans", sans-serif' font-size="27.5" font-weight="bold" text-anchor="end" fill="#000" stroke="#000" stroke-width="0.3" >60</text><line x1="88.5" y1="915.0" x2="100.5" y2="915.0" stroke="#000" stroke-width="3.4"/><text transform="translate(80.5,923.6) scale(1,1.04)" font-family='"Liberation Sans", sans-serif' font-size="27.5" font-weight="bold" text-anchor="end" fill="#000" stroke="#000" stroke-width="0.3" >80</text><line x1="88.5" y1="852.5" x2="100.5" y2="852.5" stroke="#000" stroke-width="3.4"/><text transform="translate(80.5,861.1) scale(1,1.04)" font-family='"Liberation Sans", sans-serif' font-size="27.5" font-weight="bold" text-anchor="end" fill="#000" stroke="#000" stroke-width="0.3" >100</text><line x1="141.8" y1="1165.3" x2="141.8" y2="1177.8" stroke="#000" stroke-width="3.2"/><text transform="translate(156.0,1193.3) rotate(-45) scale(1,1.04)" font-family='"Liberation Sans", sans-serif' font-weight="bold" font-size="29.5" text-anchor="end" stroke="#000" stroke-width="0.3">LO-0</text><line x1="224.1" y1="1165.3" x2="224.1" y2="1177.8" stroke="#000" stroke-width="3.2"/><text transform="translate(238.3,1193.3) rotate(-45) scale(1,1.04)" font-family='"Liberation Sans", sans-serif' font-weight="bold" font-size="29.5" text-anchor="end" stroke="#000" stroke-width="0.3">LO-0.002</text><line x1="306.4" y1="1165.3" x2="306.4" y2="1177.8" stroke="#000" stroke-width="3.2"/><text transform="translate(320.6,1193.3) rotate(-45) scale(1,1.04)" font-family='"Liberation Sans", sans-serif' font-weight="bold" font-size="29.5" text-anchor="end" stroke="#000" stroke-width="0.3">LO-0.005</text><line x1="388.7" y1="1165.3" x2="388.7" y2="1177.8" stroke="#000" stroke-width="3.2"/><text transform="translate(402.9,1193.3) rotate(-45) scale(1,1.04)" font-family='"Liberation Sans", sans-serif' font-weight="bold" font-size="29.5" text-anchor="end" stroke="#000" stroke-width="0.3">LO-0.02</text><line x1="471.0" y1="1165.3" x2="471.0" y2="1177.8" stroke="#000" stroke-width="3.2"/><text transform="translate(485.2,1193.3) rotate(-45) scale(1,1.04)" font-family='"Liberation Sans", sans-serif' font-weight="bold" font-size="29.5" text-anchor="end" stroke="#000" stroke-width="0.3">LO-0.05</text><line x1="553.3" y1="1165.3" x2="553.3" y2="1177.8" stroke="#000" stroke-width="3.2"/><text transform="translate(567.5,1193.3) rotate(-45) scale(1,1.04)" font-family='"Liberation Sans", sans-serif' font-weight="bold" font-size="29.5" text-anchor="end" stroke="#000" stroke-width="0.3">LO-0.2</text><line x1="635.6" y1="1165.3" x2="635.6" y2="1177.8" stroke="#000" stroke-width="3.2"/><text transform="translate(649.8,1193.3) rotate(-45) scale(1,1.04)" font-family='"Liberation Sans", sans-serif' font-weight="bold" font-size="29.5" text-anchor="end" stroke="#000" stroke-width="0.3">LO-0.5</text><text transform="translate(22.3,979.2) rotate(-90) scale(1,1.04)" font-family='"Liberation Sans", sans-serif' font-weight="bold" font-size="29.5" text-anchor="middle" stroke="#000" stroke-width="0.3">Relative intensity (%)</text><text transform="translate(107.5,835.8) scale(1,1.04)" font-family='"Liberation Sans", sans-serif' font-size="38" font-weight="bold" text-anchor="start" fill="#000" stroke="#000" stroke-width="0.3" >(b)</text></svg>
</body></html>
